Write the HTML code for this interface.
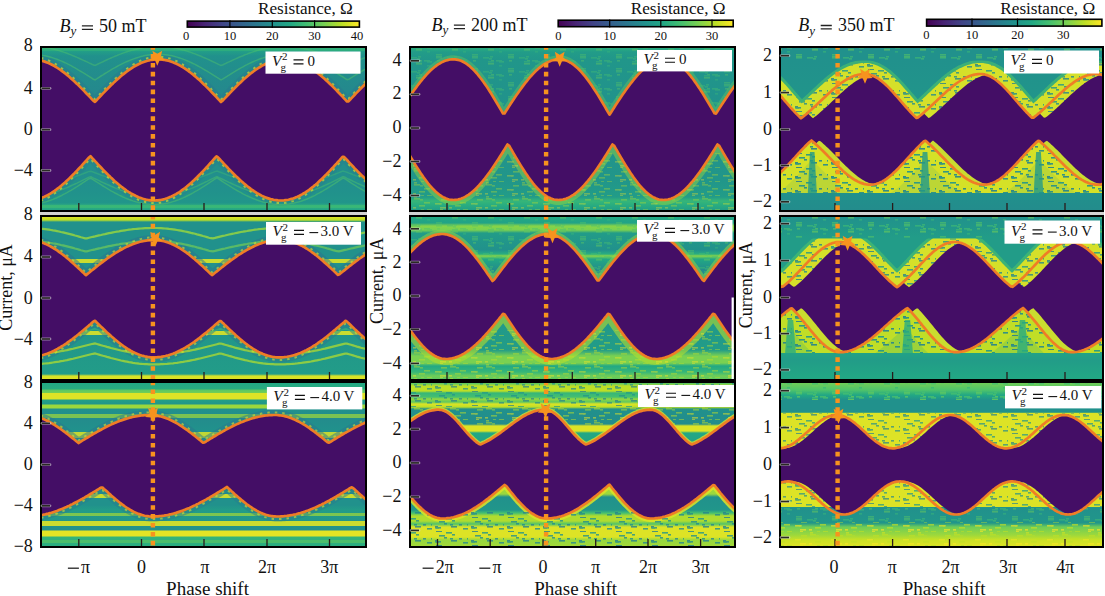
<!DOCTYPE html><html><head><meta charset="utf-8"><style>html,body{margin:0;padding:0;background:#fff;width:1105px;height:596px;overflow:hidden}svg{position:absolute;left:0;top:0}text{font-family:"Liberation Serif",serif;fill:#111}</style></head><body>
<svg width="1105" height="596" viewBox="0 0 1105 596">
<defs>
<linearGradient id="g00" gradientUnits="userSpaceOnUse" x1="0" y1="48" x2="0" y2="210">
<stop offset="0.0000" stop-color="#30b17c"/>
<stop offset="0.0185" stop-color="#229f87"/>
<stop offset="0.0494" stop-color="#21918c"/>
<stop offset="0.2593" stop-color="#24898d"/>
<stop offset="0.3827" stop-color="#25878d"/>
<stop offset="0.6296" stop-color="#238c8c"/>
<stop offset="0.8765" stop-color="#21918c"/>
<stop offset="0.9568" stop-color="#21968a"/>
<stop offset="0.9753" stop-color="#30b17c"/>
<stop offset="1.0000" stop-color="#22a386"/>
</linearGradient>
<clipPath id="c00"><rect x="42" y="48" width="323" height="162"/></clipPath>
<linearGradient id="g01" gradientUnits="userSpaceOnUse" x1="0" y1="217" x2="0" y2="379">
<stop offset="0.0000" stop-color="#dde326"/>
<stop offset="0.0185" stop-color="#bddf26"/>
<stop offset="0.0309" stop-color="#21918c"/>
<stop offset="0.5123" stop-color="#21918c"/>
<stop offset="0.9691" stop-color="#229c88"/>
<stop offset="0.9815" stop-color="#d7e226"/>
<stop offset="1.0000" stop-color="#dde326"/>
</linearGradient>
<clipPath id="c01"><rect x="42" y="217" width="323" height="162"/></clipPath>
<linearGradient id="g02" gradientUnits="userSpaceOnUse" x1="0" y1="383" x2="0" y2="546">
<stop offset="0.0000" stop-color="#22a884"/>
<stop offset="0.0368" stop-color="#29ad80"/>
<stop offset="0.0429" stop-color="#5ac664"/>
<stop offset="0.0583" stop-color="#6fcd57"/>
<stop offset="0.0644" stop-color="#dde326"/>
<stop offset="0.0982" stop-color="#dde326"/>
<stop offset="0.1043" stop-color="#229f87"/>
<stop offset="0.1288" stop-color="#21968a"/>
<stop offset="0.1350" stop-color="#9cd83c"/>
<stop offset="0.1534" stop-color="#9cd83c"/>
<stop offset="0.1595" stop-color="#21918c"/>
<stop offset="0.2270" stop-color="#238c8c"/>
<stop offset="0.2883" stop-color="#21918c"/>
<stop offset="0.5951" stop-color="#21918c"/>
<stop offset="0.7485" stop-color="#21918c"/>
<stop offset="0.7791" stop-color="#229c88"/>
<stop offset="0.9018" stop-color="#21918c"/>
<stop offset="0.9080" stop-color="#e3e425"/>
<stop offset="0.9387" stop-color="#e3e425"/>
<stop offset="0.9448" stop-color="#33b47a"/>
<stop offset="1.0000" stop-color="#29ad80"/>
</linearGradient>
<clipPath id="c02"><rect x="42" y="383" width="323" height="163"/></clipPath>
<linearGradient id="g10" gradientUnits="userSpaceOnUse" x1="0" y1="48" x2="0" y2="210">
<stop offset="0.0000" stop-color="#29ad80"/>
<stop offset="0.0247" stop-color="#229c88"/>
<stop offset="0.0741" stop-color="#21968a"/>
<stop offset="0.4444" stop-color="#21918c"/>
<stop offset="0.8148" stop-color="#21968a"/>
<stop offset="0.9198" stop-color="#229c88"/>
<stop offset="0.9444" stop-color="#36b678"/>
<stop offset="0.9691" stop-color="#29ad80"/>
<stop offset="1.0000" stop-color="#229f87"/>
</linearGradient>
<clipPath id="c10"><rect x="411" y="48" width="323" height="162"/></clipPath>
<linearGradient id="g11" gradientUnits="userSpaceOnUse" x1="0" y1="217" x2="0" y2="379">
<stop offset="0.0000" stop-color="#22a884"/>
<stop offset="0.0370" stop-color="#22a386"/>
<stop offset="0.0556" stop-color="#87d448"/>
<stop offset="0.0802" stop-color="#7ad151"/>
<stop offset="0.0988" stop-color="#229c88"/>
<stop offset="0.2037" stop-color="#21918c"/>
<stop offset="0.2284" stop-color="#29ad80"/>
<stop offset="0.2407" stop-color="#87d448"/>
<stop offset="0.2593" stop-color="#22a884"/>
<stop offset="0.3272" stop-color="#238c8c"/>
<stop offset="0.5123" stop-color="#21968a"/>
<stop offset="0.8210" stop-color="#229c88"/>
<stop offset="0.8580" stop-color="#7ad151"/>
<stop offset="0.9012" stop-color="#7ad151"/>
<stop offset="0.9198" stop-color="#22a884"/>
<stop offset="0.9568" stop-color="#36b678"/>
<stop offset="0.9815" stop-color="#6fcd57"/>
<stop offset="1.0000" stop-color="#5fc860"/>
</linearGradient>
<clipPath id="c11"><rect x="411" y="217" width="323" height="162"/></clipPath>
<linearGradient id="g12" gradientUnits="userSpaceOnUse" x1="0" y1="383" x2="0" y2="546">
<stop offset="0.0000" stop-color="#4fc36a"/>
<stop offset="0.0184" stop-color="#bddf26"/>
<stop offset="0.0491" stop-color="#bddf26"/>
<stop offset="0.0613" stop-color="#36b678"/>
<stop offset="0.0859" stop-color="#44bf70"/>
<stop offset="0.0982" stop-color="#95d740"/>
<stop offset="0.1166" stop-color="#5fc860"/>
<stop offset="0.1288" stop-color="#dde326"/>
<stop offset="0.1472" stop-color="#bddf26"/>
<stop offset="0.1595" stop-color="#21918c"/>
<stop offset="0.2515" stop-color="#238c8c"/>
<stop offset="0.2638" stop-color="#dde326"/>
<stop offset="0.2945" stop-color="#dde326"/>
<stop offset="0.3067" stop-color="#22a884"/>
<stop offset="0.3497" stop-color="#22a386"/>
<stop offset="0.5951" stop-color="#9cd83c"/>
<stop offset="0.6810" stop-color="#9cd83c"/>
<stop offset="0.6994" stop-color="#21918c"/>
<stop offset="0.7791" stop-color="#21968a"/>
<stop offset="0.7975" stop-color="#44bf70"/>
<stop offset="0.8160" stop-color="#b0dc2f"/>
<stop offset="0.8466" stop-color="#b0dc2f"/>
<stop offset="0.8650" stop-color="#4fc36a"/>
<stop offset="0.8834" stop-color="#dde326"/>
<stop offset="0.9448" stop-color="#dde326"/>
<stop offset="0.9632" stop-color="#95d740"/>
<stop offset="1.0000" stop-color="#a2d937"/>
</linearGradient>
<clipPath id="c12"><rect x="411" y="383" width="323" height="163"/></clipPath>
<linearGradient id="g20" gradientUnits="userSpaceOnUse" x1="0" y1="48" x2="0" y2="210">
<stop offset="0.0000" stop-color="#21918c"/>
<stop offset="0.0741" stop-color="#21918c"/>
<stop offset="0.3827" stop-color="#21968a"/>
<stop offset="0.6296" stop-color="#21918c"/>
<stop offset="0.8889" stop-color="#21918c"/>
<stop offset="1.0000" stop-color="#238c8c"/>
</linearGradient>
<clipPath id="c20"><rect x="781" y="48" width="321" height="162"/></clipPath>
<clipPath id="h20up"><rect x="781" y="60.5" width="321" height="149.5"/></clipPath>
<clipPath id="h20lo"><rect x="781" y="48.0" width="321" height="145.0"/></clipPath>
<linearGradient id="g21" gradientUnits="userSpaceOnUse" x1="0" y1="217" x2="0" y2="379">
<stop offset="0.0000" stop-color="#21918c"/>
<stop offset="0.0494" stop-color="#21968a"/>
<stop offset="0.1296" stop-color="#229c88"/>
<stop offset="0.5123" stop-color="#229c88"/>
<stop offset="0.8333" stop-color="#22a386"/>
<stop offset="0.8827" stop-color="#229c88"/>
<stop offset="1.0000" stop-color="#22a884"/>
</linearGradient>
<clipPath id="c21"><rect x="781" y="217" width="321" height="162"/></clipPath>
<clipPath id="h21up"><rect x="781" y="238.5" width="321" height="140.5"/></clipPath>
<clipPath id="h21lo"><rect x="781" y="217.0" width="321" height="136.0"/></clipPath>
<linearGradient id="g22" gradientUnits="userSpaceOnUse" x1="0" y1="383" x2="0" y2="546">
<stop offset="0.0000" stop-color="#6fcd57"/>
<stop offset="0.0429" stop-color="#4fc36a"/>
<stop offset="0.0736" stop-color="#22a884"/>
<stop offset="0.1043" stop-color="#21918c"/>
<stop offset="0.1779" stop-color="#21918c"/>
<stop offset="0.1902" stop-color="#bddf26"/>
<stop offset="0.4110" stop-color="#bddf26"/>
<stop offset="0.7485" stop-color="#22a884"/>
<stop offset="0.7669" stop-color="#21918c"/>
<stop offset="0.8589" stop-color="#21968a"/>
<stop offset="0.8834" stop-color="#6fcd57"/>
<stop offset="0.9325" stop-color="#9cd83c"/>
<stop offset="0.9632" stop-color="#cae126"/>
<stop offset="1.0000" stop-color="#dde326"/>
</linearGradient>
<clipPath id="c22"><rect x="781" y="383" width="321" height="163"/></clipPath>
<clipPath id="h22up"><rect x="781" y="413.0" width="321" height="133.0"/></clipPath>
<clipPath id="h22lo"><rect x="781" y="383.0" width="321" height="124.0"/></clipPath>
<pattern id="spT" patternUnits="userSpaceOnUse" width="36" height="14">
<rect x="20" y="2.0" width="3" height="1.6" fill="#21918c"/>
<rect x="4" y="13.0" width="6" height="1.6" fill="#27808d"/>
<rect x="3" y="8.0" width="3" height="1.6" fill="#287e8e"/>
<rect x="27" y="6.0" width="3" height="1.6" fill="#26848d"/>
<rect x="35" y="6.0" width="3" height="1.6" fill="#21958a"/>
<rect x="7" y="3.0" width="6" height="1.6" fill="#21908c"/>
<rect x="3" y="9.0" width="6" height="1.6" fill="#24898d"/>
<rect x="14" y="0.0" width="6" height="1.6" fill="#21968a"/>
<rect x="18" y="6.0" width="3" height="1.6" fill="#228d8c"/>
<rect x="19" y="8.0" width="6" height="1.6" fill="#26828d"/>
<rect x="12" y="5.0" width="3" height="1.6" fill="#228d8c"/>
<rect x="4" y="9.0" width="3" height="1.6" fill="#22908c"/>
<rect x="31" y="10.0" width="6" height="1.6" fill="#248a8d"/>
</pattern>
<pattern id="spG" patternUnits="userSpaceOnUse" width="36" height="14">
<rect x="20" y="7.0" width="6" height="1.6" fill="#6acc5a"/>
<rect x="23" y="4.0" width="3" height="1.6" fill="#62c95f"/>
<rect x="15" y="1.0" width="6" height="1.6" fill="#43be71"/>
<rect x="31" y="5.0" width="6" height="1.6" fill="#4bc16c"/>
<rect x="4" y="1.0" width="6" height="1.6" fill="#49c16d"/>
<rect x="21" y="2.0" width="3" height="1.6" fill="#4ac16d"/>
<rect x="4" y="12.0" width="6" height="1.6" fill="#54c467"/>
<rect x="20" y="5.0" width="6" height="1.6" fill="#45bf6f"/>
<rect x="31" y="9.0" width="3" height="1.6" fill="#39b876"/>
<rect x="5" y="4.0" width="3" height="1.6" fill="#5cc762"/>
<rect x="4" y="0.0" width="6" height="1.6" fill="#5cc762"/>
<rect x="28" y="4.0" width="6" height="1.6" fill="#47c06e"/>
<rect x="22" y="0.0" width="3" height="1.6" fill="#45bf6f"/>
</pattern>
<pattern id="spY" patternUnits="userSpaceOnUse" width="36" height="14">
<rect x="7" y="7.0" width="3" height="1.6" fill="#bade28"/>
<rect x="18" y="2.0" width="6" height="1.6" fill="#bddf26"/>
<rect x="25" y="13.0" width="3" height="1.6" fill="#afdc2f"/>
<rect x="28" y="6.0" width="6" height="1.6" fill="#bfdf26"/>
<rect x="8" y="13.0" width="3" height="1.6" fill="#ece525"/>
<rect x="17" y="11.0" width="3" height="1.6" fill="#f6e625"/>
<rect x="24" y="3.0" width="3" height="1.6" fill="#b0dc2f"/>
<rect x="9" y="3.0" width="6" height="1.6" fill="#bcdf27"/>
<rect x="31" y="13.0" width="6" height="1.6" fill="#b8de29"/>
<rect x="18" y="0.0" width="3" height="1.6" fill="#cae126"/>
<rect x="23" y="9.0" width="6" height="1.6" fill="#c2e026"/>
<rect x="8" y="11.0" width="6" height="1.6" fill="#f3e625"/>
<rect x="3" y="7.0" width="6" height="1.6" fill="#e7e425"/>
</pattern>
<linearGradient id="cb" x1="0" x2="1" y1="0" y2="0"><stop offset="0.00" stop-color="#440154"/><stop offset="0.10" stop-color="#482475"/><stop offset="0.20" stop-color="#414487"/><stop offset="0.30" stop-color="#355f8d"/><stop offset="0.40" stop-color="#2a788e"/><stop offset="0.50" stop-color="#21918c"/><stop offset="0.60" stop-color="#22a884"/><stop offset="0.70" stop-color="#44bf70"/><stop offset="0.80" stop-color="#7ad151"/><stop offset="0.90" stop-color="#bddf26"/><stop offset="1.00" stop-color="#fde725"/></linearGradient>
</defs>
<g clip-path="url(#c00)">
<rect x="42" y="48" width="323" height="162" fill="url(#g00)"/>
<rect x="42" y="48.0" width="323" height="3.0" fill="#36b678" opacity="0.50"/>
<rect x="42" y="205.0" width="323" height="3.0" fill="#44bf70" opacity="0.50"/>
<defs><polyline id="u00" fill="none" points="26,59.7 27.5,59.5 29,59.4 30.5,59.3 32,59.3 33.5,59.4 35,59.5 36.5,59.6 38,59.9 39.5,60.2 41,60.5 42.5,60.9 44,61.4 45.5,61.9 47,62.5 48.5,63.1 50,63.8 51.5,64.5 53,65.3 54.5,66.1 56,67 57.5,68 59,69 60.5,70 62,71.1 63.5,72.2 65,73.3 66.5,74.6 68,75.8 69.5,77.1 71,78.4 72.5,79.7 74,81.1 75.5,82.5 77,83.9 78.5,85.4 80,86.9 81.5,88.4 83,89.9 84.5,91.4 86,93 87.5,94.6 89,96.1 90.5,97.7 92,99.3 93.5,100.9 95,101.9 96.5,100.3 98,98.7 99.5,97.1 101,95.5 102.5,93.9 104,92.4 105.5,90.8 107,89.3 108.5,87.8 110,86.3 111.5,84.8 113,83.4 114.5,81.9 116,80.6 117.5,79.2 119,77.9 120.5,76.6 122,75.3 123.5,74.1 125,72.9 126.5,71.7 128,70.6 129.5,69.6 131,68.6 132.5,67.6 134,66.7 135.5,65.8 137,65 138.5,64.2 140,63.5 141.5,62.8 143,62.2 144.5,61.7 146,61.2 147.5,60.7 149,60.4 150.5,60 152,59.8 153.5,59.6 155,59.4 156.5,59.3 158,59.3 159.5,59.3 161,59.4 162.5,59.6 164,59.8 165.5,60.1 167,60.4 168.5,60.8 170,61.2 171.5,61.7 173,62.3 174.5,62.9 176,63.5 177.5,64.3 179,65 180.5,65.9 182,66.7 183.5,67.7 185,68.6 186.5,69.6 188,70.7 189.5,71.8 191,73 192.5,74.1 194,75.4 195.5,76.6 197,77.9 198.5,79.3 200,80.6 201.5,82 203,83.5 204.5,84.9 206,86.4 207.5,87.9 209,89.4 210.5,90.9 212,92.5 213.5,94 215,95.6 216.5,97.2 218,98.8 219.5,100.4 221,102 222.5,100.8 224,99.2 225.5,97.6 227,96 228.5,94.5 230,92.9 231.5,91.3 233,89.8 234.5,88.3 236,86.8 237.5,85.3 239,83.8 240.5,82.4 242,81 243.5,79.6 245,78.3 246.5,77 248,75.7 249.5,74.5 251,73.3 252.5,72.1 254,71 255.5,69.9 257,68.9 258.5,67.9 260,67 261.5,66.1 263,65.2 264.5,64.5 266,63.7 267.5,63 269,62.4 270.5,61.8 272,61.3 273.5,60.9 275,60.5 276.5,60.1 278,59.8 279.5,59.6 281,59.5 282.5,59.4 284,59.3 285.5,59.3 287,59.4 288.5,59.5 290,59.7 291.5,60 293,60.3 294.5,60.6 296,61.1 297.5,61.5 299,62.1 300.5,62.7 302,63.3 303.5,64 305,64.8 306.5,65.6 308,66.4 309.5,67.3 311,68.3 312.5,69.3 314,70.3 315.5,71.4 317,72.6 318.5,73.7 320,75 321.5,76.2 323,77.5 324.5,78.8 326,80.2 327.5,81.6 329,83 330.5,84.4 332,85.9 333.5,87.4 335,88.9 336.5,90.4 338,92 339.5,93.5 341,95.1 342.5,96.7 344,98.3 345.5,99.9 347,101.5 348.5,101.3 350,99.8 351.5,98.2 353,96.6 354.5,95 356,93.4 357.5,91.9 359,90.3 360.5,88.8 362,87.3 363.5,85.8 365,84.3 366.5,82.9 368,81.5 369.5,80.1 371,78.7 372.5,77.4 374,76.1 375.5,74.9 377,73.7 378.5,72.5 380,71.4 381,70.6"/><polyline id="l00" fill="none" points="26,200.5 27.5,200.5 29,200.5 30.5,200.4 32,200.3 33.5,200.1 35,199.8 36.5,199.5 38,199.1 39.5,198.6 41,198.1 42.5,197.5 44,196.9 45.5,196.2 47,195.5 48.5,194.7 50,193.8 51.5,192.9 53,191.9 54.5,190.9 56,189.8 57.5,188.7 59,187.6 60.5,186.4 62,185.1 63.5,183.8 65,182.5 66.5,181.1 68,179.7 69.5,178.3 71,176.8 72.5,175.3 74,173.8 75.5,172.2 77,170.6 78.5,169 80,167.4 81.5,165.8 83,164.1 84.5,162.5 86,160.8 87.5,159.1 89,157.5 90.5,156.2 92,157.9 93.5,159.5 95,161.1 96.5,162.7 98,164.3 99.5,165.9 101,167.5 102.5,169.1 104,170.7 105.5,172.2 107,173.7 108.5,175.2 110,176.6 111.5,178.1 113,179.5 114.5,180.9 116,182.2 117.5,183.5 119,184.8 120.5,186 122,187.2 123.5,188.3 125,189.4 126.5,190.5 128,191.5 129.5,192.5 131,193.4 132.5,194.2 134,195 135.5,195.8 137,196.5 138.5,197.2 140,197.7 141.5,198.3 143,198.8 144.5,199.2 146,199.6 147.5,199.9 149,200.1 150.5,200.3 152,200.4 153.5,200.5 155,200.5 156.5,200.4 158,200.3 159.5,200.1 161,199.9 162.5,199.6 164,199.2 165.5,198.8 167,198.3 168.5,197.7 170,197.1 171.5,196.5 173,195.7 174.5,194.9 176,194.1 177.5,193.2 179,192.3 180.5,191.3 182,190.2 183.5,189.1 185,188 186.5,186.8 188,185.5 189.5,184.2 191,182.9 192.5,181.6 194,180.2 195.5,178.7 197,177.3 198.5,175.8 200,174.3 201.5,172.7 203,171.2 204.5,169.6 206,168 207.5,166.3 209,164.7 210.5,163 212,161.4 213.5,159.7 215,158 216.5,156.3 218,157.3 219.5,158.9 221,160.6 222.5,162.2 224,163.8 225.5,165.4 227,167 228.5,168.6 230,170.1 231.5,171.7 233,173.2 234.5,174.7 236,176.2 237.5,177.6 239,179 240.5,180.4 242,181.8 243.5,183.1 245,184.3 246.5,185.6 248,186.8 249.5,187.9 251,189.1 252.5,190.1 254,191.2 255.5,192.1 257,193.1 258.5,193.9 260,194.8 261.5,195.6 263,196.3 264.5,196.9 266,197.6 267.5,198.1 269,198.6 270.5,199.1 272,199.4 273.5,199.8 275,200 276.5,200.2 278,200.4 279.5,200.5 281,200.5 282.5,200.5 284,200.4 285.5,200.2 287,200 288.5,199.7 290,199.3 291.5,198.9 293,198.5 294.5,197.9 296,197.3 297.5,196.7 299,196 300.5,195.2 302,194.4 303.5,193.5 305,192.6 306.5,191.6 308,190.6 309.5,189.5 311,188.3 312.5,187.2 314,185.9 315.5,184.7 317,183.4 318.5,182 320,180.6 321.5,179.2 323,177.8 324.5,176.3 326,174.8 327.5,173.2 329,171.7 330.5,170.1 332,168.5 333.5,166.9 335,165.2 336.5,163.6 338,161.9 339.5,160.3 341,158.6 342.5,156.9 344,156.8 345.5,158.4 347,160 348.5,161.7 350,163.3 351.5,164.9 353,166.5 354.5,168.1 356,169.6 357.5,171.2 359,172.7 360.5,174.2 362,175.7 363.5,177.1 365,178.6 366.5,179.9 368,181.3 369.5,182.6 371,183.9 372.5,185.2 374,186.4 375.5,187.6 377,188.7 378.5,189.8 380,190.8 381,191.5"/></defs>
<use href="#u00" stroke="#2c738e" stroke-width="10.0" stroke-linejoin="round" opacity="0.35"/>
<use href="#l00" stroke="#2a788e" stroke-width="10.0" stroke-linejoin="round" opacity="0.30"/>
<polyline points="37,54.5 39,54.8 41,55 43,55.4 45,55.7 47,56.2 49,56.7 51,57.3 53,57.9 55,58.6 57,59.3 59,60.1 61,60.9 63,61.8 65,62.7 67,63.7 69,64.7 71,65.7 73,66.8 75,67.9 77,69.1 79,70.3 81,71.5 83,72.7 85,73.9 87,75.1 89,76.4 91,77.7 93,79 95,79.8 97,78.6 99,77.3 101,76 103,74.8 105,73.5 107,72.3 109,71.1 111,69.9 113,68.7 115,67.6 117,66.5 119,65.4 121,64.4 123,63.4 125,62.4 127,61.5 129,60.7 131,59.9 133,59.1 135,58.4 137,57.7 139,57.1 141,56.5 143,56.1 145,55.6 147,55.2 149,54.9 151,54.7 153,54.5 155,54.4 157,54.3 159,54.3 161,54.4 163,54.5 165,54.7 167,54.9 169,55.3 171,55.6 173,56.1 175,56.6 177,57.1 179,57.7 181,58.4 183,59.1 185,59.9 187,60.7 189,61.6 191,62.5 193,63.5 195,64.4 197,65.5 199,66.6 201,67.7 203,68.8 205,70 207,71.1 209,72.4 211,73.6 213,74.8 215,76.1 217,77.4 219,78.6 221,79.9 223,78.9 225,77.6 227,76.3 229,75.1 231,73.8 233,72.6 235,71.4 237,70.2 239,69 241,67.9 243,66.8 245,65.7 247,64.7 249,63.6 251,62.7 253,61.8 255,60.9 257,60.1 259,59.3 261,58.5 263,57.9 265,57.2 267,56.7 269,56.2 271,55.7 273,55.3 275,55 277,54.7 279,54.5 281,54.4 283,54.3 285,54.3 287,54.4 289,54.5 291,54.6 293,54.9 295,55.2 297,55.5 299,56 301,56.4 303,57 305,57.6 307,58.2 309,58.9 311,59.7 313,60.5 315,61.4 317,62.3 319,63.2 321,64.2 323,65.2 325,66.3 327,67.4 329,68.5 331,69.7 333,70.9 335,72.1 337,73.3 339,74.5 341,75.8 343,77 345,78.3 347,79.6 349,79.2 351,77.9 353,76.7 355,75.4 357,74.1 359,72.9 361,71.7 363,70.5 365,69.3 367,68.2 369,67.1" fill="none" stroke="#4fc36a" stroke-width="1.5" opacity="0.50"/>
<polyline points="37,46.5 39,46.6 41,46.8 43,47.1 45,47.4 47,47.7 49,48.1 51,48.5 53,49 55,49.5 57,50.1 59,50.6 61,51.3 63,51.9 65,52.6 67,53.3 69,54.1 71,54.9 73,55.7 75,56.5 77,57.4 79,58.3 81,59.2 83,60.1 85,61 87,61.9 89,62.9 91,63.8 93,64.8 95,65.5 97,64.5 99,63.5 101,62.6 103,61.7 105,60.7 107,59.8 109,58.9 111,58 113,57.1 115,56.3 117,55.5 119,54.6 121,53.9 123,53.1 125,52.4 127,51.7 129,51.1 131,50.5 133,49.9 135,49.4 137,48.9 139,48.4 141,48 143,47.6 145,47.3 147,47 149,46.8 151,46.6 153,46.4 155,46.4 157,46.3 159,46.3 161,46.4 163,46.5 165,46.6 167,46.8 169,47 171,47.3 173,47.6 175,48 177,48.4 179,48.9 181,49.4 183,49.9 185,50.5 187,51.1 189,51.8 191,52.4 193,53.2 195,53.9 197,54.7 199,55.5 201,56.3 203,57.2 205,58 207,58.9 209,59.8 211,60.8 213,61.7 215,62.6 217,63.6 219,64.6 221,65.5 223,64.7 225,63.8 227,62.8 229,61.9 231,61 233,60 235,59.1 237,58.2 239,57.3 241,56.5 243,55.7 245,54.8 247,54.1 249,53.3 251,52.6 253,51.9 255,51.2 257,50.6 259,50 261,49.5 263,49 265,48.5 267,48.1 269,47.7 271,47.4 273,47.1 275,46.8 277,46.6 279,46.5 281,46.4 283,46.3 285,46.3 287,46.3 289,46.4 291,46.6 293,46.7 295,47 297,47.2 299,47.5 301,47.9 303,48.3 305,48.8 307,49.2 309,49.8 311,50.3 313,51 315,51.6 317,52.3 319,53 321,53.7 323,54.5 325,55.3 327,56.1 329,57 331,57.8 333,58.7 335,59.6 337,60.5 339,61.5 341,62.4 343,63.4 345,64.3 347,65.3 349,65 351,64 353,63.1 355,62.1 357,61.2 359,60.3 361,59.3 363,58.4 365,57.6 367,56.7 369,55.9" fill="none" stroke="#4fc36a" stroke-width="1.5" opacity="0.45"/>
<polyline points="37,35.4 39,35.5 41,35.7 43,35.8 45,36 47,36.2 49,36.5 51,36.8 53,37.1 55,37.4 57,37.8 59,38.2 61,38.6 63,39.1 65,39.5 67,40 69,40.5 71,41 73,41.6 75,42.1 77,42.7 79,43.3 81,43.9 83,44.5 85,45.1 87,45.7 89,46.4 91,47 93,47.6 95,48.1 97,47.4 99,46.8 101,46.2 103,45.5 105,44.9 107,44.3 109,43.7 111,43.1 113,42.5 115,42 117,41.4 119,40.9 121,40.3 123,39.9 125,39.4 127,38.9 129,38.5 131,38.1 133,37.7 135,37.3 137,37 139,36.7 141,36.4 143,36.2 145,36 147,35.8 149,35.6 151,35.5 153,35.4 155,35.3 157,35.3 159,35.3 161,35.3 163,35.4 165,35.5 167,35.6 169,35.8 171,36 173,36.2 175,36.4 177,36.7 179,37 181,37.4 183,37.7 185,38.1 187,38.5 189,38.9 191,39.4 193,39.9 195,40.4 197,40.9 199,41.4 201,42 203,42.5 205,43.1 207,43.7 209,44.3 211,44.9 213,45.6 215,46.2 217,46.8 219,47.5 221,48.1 223,47.6 225,47 227,46.3 229,45.7 231,45.1 233,44.5 235,43.8 237,43.2 239,42.7 241,42.1 243,41.5 245,41 247,40.5 249,40 251,39.5 253,39 255,38.6 257,38.2 259,37.8 261,37.4 263,37.1 265,36.8 267,36.5 269,36.2 271,36 273,35.8 275,35.7 277,35.5 279,35.4 281,35.3 283,35.3 285,35.3 287,35.3 289,35.4 291,35.5 293,35.6 295,35.7 297,35.9 299,36.1 301,36.4 303,36.6 305,36.9 307,37.3 309,37.6 311,38 313,38.4 315,38.8 317,39.3 319,39.8 321,40.2 323,40.8 325,41.3 327,41.8 329,42.4 331,43 333,43.6 335,44.2 337,44.8 339,45.4 341,46 343,46.7 345,47.3 347,47.9 349,47.8 351,47.1 353,46.5 355,45.8 357,45.2 359,44.6 361,44 363,43.4 365,42.8 367,42.2 369,41.7" fill="none" stroke="#44bf70" stroke-width="1.5" opacity="0.40"/>
<polyline points="37,203.8 39,203.5 41,203.1 43,202.6 45,202.1 47,201.5 49,200.8 51,200.1 53,199.4 55,198.5 57,197.7 59,196.7 61,195.8 63,194.7 65,193.7 67,192.6 69,191.4 71,190.3 73,189.1 75,187.8 77,186.6 79,185.3 81,184 83,182.7 85,181.4 87,180 89,178.7 91,178.3 93,179.6 95,180.9 97,182.2 99,183.4 101,184.7 103,186 105,187.2 107,188.4 109,189.6 111,190.8 113,191.9 115,193 117,194 119,195.1 121,196 123,197 125,197.9 127,198.7 129,199.5 131,200.2 133,200.9 135,201.5 137,202.1 139,202.6 141,203.1 143,203.5 145,203.8 147,204.1 149,204.3 151,204.4 153,204.5 155,204.5 157,204.4 159,204.3 161,204.1 163,203.9 165,203.6 167,203.2 169,202.7 171,202.2 173,201.6 175,201 177,200.3 179,199.6 181,198.7 183,197.9 185,197 187,196 189,195 191,194 193,192.9 195,191.7 197,190.6 199,189.4 201,188.1 203,186.9 205,185.6 207,184.3 209,183 211,181.7 213,180.4 215,179 217,177.9 219,179.2 221,180.5 223,181.8 225,183.1 227,184.4 229,185.7 231,186.9 233,188.1 235,189.3 237,190.5 239,191.6 241,192.7 243,193.8 245,194.8 247,195.8 249,196.7 251,197.6 253,198.5 255,199.3 257,200 259,200.7 261,201.4 263,202 265,202.5 267,203 269,203.4 271,203.7 273,204 275,204.2 277,204.4 279,204.5 281,204.5 283,204.5 285,204.4 287,204.2 289,204 291,203.6 293,203.3 295,202.8 297,202.3 299,201.8 301,201.2 303,200.5 305,199.7 307,199 309,198.1 311,197.2 313,196.3 315,195.3 317,194.2 319,193.1 321,192 323,190.9 325,189.7 327,188.5 329,187.2 331,185.9 333,184.6 335,183.3 337,182 339,180.7 341,179.3 343,178 345,178.9 347,180.2 349,181.5 351,182.8 353,184.1 355,185.3 357,186.6 359,187.8 361,189 363,190.2 365,191.3 367,192.4 369,193.5" fill="none" stroke="#4fc36a" stroke-width="1.5" opacity="0.50"/>
<polyline points="37,196 39,195.7 41,195.4 43,195.1 45,194.7 47,194.2 49,193.7 51,193.2 53,192.6 55,192 57,191.4 59,190.7 61,189.9 63,189.2 65,188.4 67,187.6 69,186.7 71,185.8 73,184.9 75,184 77,183.1 79,182.1 81,181.1 83,180.1 85,179.1 87,178.1 89,177.1 91,176.8 93,177.8 95,178.8 97,179.7 99,180.7 101,181.7 103,182.6 105,183.5 107,184.4 109,185.3 111,186.2 113,187 115,187.9 117,188.7 119,189.4 121,190.2 123,190.9 125,191.5 127,192.1 129,192.7 131,193.3 133,193.8 135,194.3 137,194.7 139,195.1 141,195.4 143,195.7 145,196 147,196.2 149,196.3 151,196.4 153,196.5 155,196.5 157,196.5 159,196.4 161,196.2 163,196 165,195.8 167,195.5 169,195.2 171,194.8 173,194.4 175,193.9 177,193.4 179,192.8 181,192.2 183,191.5 185,190.9 187,190.1 189,189.4 191,188.6 193,187.8 195,186.9 197,186.1 199,185.2 201,184.2 203,183.3 205,182.3 207,181.4 209,180.4 211,179.4 213,178.4 215,177.4 217,176.6 219,177.6 221,178.5 223,179.5 225,180.5 227,181.4 229,182.4 231,183.3 233,184.2 235,185.1 237,186 239,186.8 241,187.7 243,188.5 245,189.2 247,190 249,190.7 251,191.4 253,192 255,192.6 257,193.2 259,193.7 261,194.2 263,194.6 265,195 267,195.3 269,195.7 271,195.9 273,196.1 275,196.3 277,196.4 279,196.5 281,196.5 283,196.5 285,196.4 287,196.3 289,196.1 291,195.9 293,195.6 295,195.3 297,194.9 299,194.5 301,194 303,193.5 305,192.9 307,192.3 309,191.7 311,191 313,190.3 315,189.6 317,188.8 319,188 321,187.1 323,186.3 325,185.4 327,184.5 329,183.5 331,182.6 333,181.6 335,180.6 337,179.6 339,178.6 341,177.6 343,176.6 345,177.3 347,178.3 349,179.3 351,180.2 353,181.2 355,182.1 357,183.1 359,184 361,184.9 363,185.8 365,186.6 367,187.5 369,188.3" fill="none" stroke="#4fc36a" stroke-width="1.5" opacity="0.45"/>
<polyline points="37,186.1 39,185.9 41,185.7 43,185.4 45,185.1 47,184.7 49,184.4 51,183.9 53,183.5 55,183 57,182.5 59,182 61,181.4 63,180.8 65,180.2 67,179.5 69,178.9 71,178.2 73,177.5 75,176.8 77,176 79,175.3 81,174.5 83,173.8 85,173 87,172.2 89,171.4 91,171.2 93,172 95,172.7 97,173.5 99,174.2 101,175 103,175.7 105,176.4 107,177.1 109,177.8 111,178.5 113,179.1 115,179.8 117,180.4 119,181 121,181.6 123,182.1 125,182.6 127,183.1 129,183.6 131,184 133,184.4 135,184.8 137,185.1 139,185.4 141,185.7 143,185.9 145,186.1 147,186.2 149,186.4 151,186.4 153,186.5 155,186.5 157,186.5 159,186.4 161,186.3 163,186.1 165,186 167,185.7 169,185.5 171,185.2 173,184.8 175,184.5 177,184.1 179,183.6 181,183.1 183,182.6 185,182.1 187,181.5 189,181 191,180.3 193,179.7 195,179.1 197,178.4 199,177.7 201,177 203,176.2 205,175.5 207,174.7 209,174 211,173.2 213,172.4 215,171.6 217,171 219,171.8 221,172.5 223,173.3 225,174 227,174.8 229,175.5 231,176.2 233,176.9 235,177.6 237,178.3 239,179 241,179.6 243,180.2 245,180.8 247,181.4 249,182 251,182.5 253,183 255,183.5 257,183.9 259,184.3 261,184.7 263,185 265,185.3 267,185.6 269,185.8 271,186 273,186.2 275,186.3 277,186.4 279,186.5 281,186.5 283,186.5 285,186.4 287,186.3 289,186.2 291,186 293,185.8 295,185.5 297,185.2 299,184.9 301,184.6 303,184.2 305,183.7 307,183.3 309,182.8 311,182.2 313,181.7 315,181.1 317,180.5 319,179.9 321,179.2 323,178.5 325,177.9 327,177.1 329,176.4 331,175.7 333,174.9 335,174.2 337,173.4 339,172.6 341,171.8 343,171 345,171.6 347,172.3 349,173.1 351,173.8 353,174.6 355,175.3 357,176.1 359,176.8 361,177.5 363,178.2 365,178.8 367,179.5 369,180.1" fill="none" stroke="#44bf70" stroke-width="1.5" opacity="0.40"/>
<polygon points="26,59.7 27.5,59.5 29,59.4 30.5,59.3 32,59.3 33.5,59.4 35,59.5 36.5,59.6 38,59.9 39.5,60.2 41,60.5 42.5,60.9 44,61.4 45.5,61.9 47,62.5 48.5,63.1 50,63.8 51.5,64.5 53,65.3 54.5,66.1 56,67 57.5,68 59,69 60.5,70 62,71.1 63.5,72.2 65,73.3 66.5,74.6 68,75.8 69.5,77.1 71,78.4 72.5,79.7 74,81.1 75.5,82.5 77,83.9 78.5,85.4 80,86.9 81.5,88.4 83,89.9 84.5,91.4 86,93 87.5,94.6 89,96.1 90.5,97.7 92,99.3 93.5,100.9 95,101.9 96.5,100.3 98,98.7 99.5,97.1 101,95.5 102.5,93.9 104,92.4 105.5,90.8 107,89.3 108.5,87.8 110,86.3 111.5,84.8 113,83.4 114.5,81.9 116,80.6 117.5,79.2 119,77.9 120.5,76.6 122,75.3 123.5,74.1 125,72.9 126.5,71.7 128,70.6 129.5,69.6 131,68.6 132.5,67.6 134,66.7 135.5,65.8 137,65 138.5,64.2 140,63.5 141.5,62.8 143,62.2 144.5,61.7 146,61.2 147.5,60.7 149,60.4 150.5,60 152,59.8 153.5,59.6 155,59.4 156.5,59.3 158,59.3 159.5,59.3 161,59.4 162.5,59.6 164,59.8 165.5,60.1 167,60.4 168.5,60.8 170,61.2 171.5,61.7 173,62.3 174.5,62.9 176,63.5 177.5,64.3 179,65 180.5,65.9 182,66.7 183.5,67.7 185,68.6 186.5,69.6 188,70.7 189.5,71.8 191,73 192.5,74.1 194,75.4 195.5,76.6 197,77.9 198.5,79.3 200,80.6 201.5,82 203,83.5 204.5,84.9 206,86.4 207.5,87.9 209,89.4 210.5,90.9 212,92.5 213.5,94 215,95.6 216.5,97.2 218,98.8 219.5,100.4 221,102 222.5,100.8 224,99.2 225.5,97.6 227,96 228.5,94.5 230,92.9 231.5,91.3 233,89.8 234.5,88.3 236,86.8 237.5,85.3 239,83.8 240.5,82.4 242,81 243.5,79.6 245,78.3 246.5,77 248,75.7 249.5,74.5 251,73.3 252.5,72.1 254,71 255.5,69.9 257,68.9 258.5,67.9 260,67 261.5,66.1 263,65.2 264.5,64.5 266,63.7 267.5,63 269,62.4 270.5,61.8 272,61.3 273.5,60.9 275,60.5 276.5,60.1 278,59.8 279.5,59.6 281,59.5 282.5,59.4 284,59.3 285.5,59.3 287,59.4 288.5,59.5 290,59.7 291.5,60 293,60.3 294.5,60.6 296,61.1 297.5,61.5 299,62.1 300.5,62.7 302,63.3 303.5,64 305,64.8 306.5,65.6 308,66.4 309.5,67.3 311,68.3 312.5,69.3 314,70.3 315.5,71.4 317,72.6 318.5,73.7 320,75 321.5,76.2 323,77.5 324.5,78.8 326,80.2 327.5,81.6 329,83 330.5,84.4 332,85.9 333.5,87.4 335,88.9 336.5,90.4 338,92 339.5,93.5 341,95.1 342.5,96.7 344,98.3 345.5,99.9 347,101.5 348.5,101.3 350,99.8 351.5,98.2 353,96.6 354.5,95 356,93.4 357.5,91.9 359,90.3 360.5,88.8 362,87.3 363.5,85.8 365,84.3 366.5,82.9 368,81.5 369.5,80.1 371,78.7 372.5,77.4 374,76.1 375.5,74.9 377,73.7 378.5,72.5 380,71.4 381,70.6 381,191.5 380,190.8 378.5,189.8 377,188.7 375.5,187.6 374,186.4 372.5,185.2 371,183.9 369.5,182.6 368,181.3 366.5,179.9 365,178.6 363.5,177.1 362,175.7 360.5,174.2 359,172.7 357.5,171.2 356,169.6 354.5,168.1 353,166.5 351.5,164.9 350,163.3 348.5,161.7 347,160 345.5,158.4 344,156.8 342.5,156.9 341,158.6 339.5,160.3 338,161.9 336.5,163.6 335,165.2 333.5,166.9 332,168.5 330.5,170.1 329,171.7 327.5,173.2 326,174.8 324.5,176.3 323,177.8 321.5,179.2 320,180.6 318.5,182 317,183.4 315.5,184.7 314,185.9 312.5,187.2 311,188.3 309.5,189.5 308,190.6 306.5,191.6 305,192.6 303.5,193.5 302,194.4 300.5,195.2 299,196 297.5,196.7 296,197.3 294.5,197.9 293,198.5 291.5,198.9 290,199.3 288.5,199.7 287,200 285.5,200.2 284,200.4 282.5,200.5 281,200.5 279.5,200.5 278,200.4 276.5,200.2 275,200 273.5,199.8 272,199.4 270.5,199.1 269,198.6 267.5,198.1 266,197.6 264.5,196.9 263,196.3 261.5,195.6 260,194.8 258.5,193.9 257,193.1 255.5,192.1 254,191.2 252.5,190.1 251,189.1 249.5,187.9 248,186.8 246.5,185.6 245,184.3 243.5,183.1 242,181.8 240.5,180.4 239,179 237.5,177.6 236,176.2 234.5,174.7 233,173.2 231.5,171.7 230,170.1 228.5,168.6 227,167 225.5,165.4 224,163.8 222.5,162.2 221,160.6 219.5,158.9 218,157.3 216.5,156.3 215,158 213.5,159.7 212,161.4 210.5,163 209,164.7 207.5,166.3 206,168 204.5,169.6 203,171.2 201.5,172.7 200,174.3 198.5,175.8 197,177.3 195.5,178.7 194,180.2 192.5,181.6 191,182.9 189.5,184.2 188,185.5 186.5,186.8 185,188 183.5,189.1 182,190.2 180.5,191.3 179,192.3 177.5,193.2 176,194.1 174.5,194.9 173,195.7 171.5,196.5 170,197.1 168.5,197.7 167,198.3 165.5,198.8 164,199.2 162.5,199.6 161,199.9 159.5,200.1 158,200.3 156.5,200.4 155,200.5 153.5,200.5 152,200.4 150.5,200.3 149,200.1 147.5,199.9 146,199.6 144.5,199.2 143,198.8 141.5,198.3 140,197.7 138.5,197.2 137,196.5 135.5,195.8 134,195 132.5,194.2 131,193.4 129.5,192.5 128,191.5 126.5,190.5 125,189.4 123.5,188.3 122,187.2 120.5,186 119,184.8 117.5,183.5 116,182.2 114.5,180.9 113,179.5 111.5,178.1 110,176.6 108.5,175.2 107,173.7 105.5,172.2 104,170.7 102.5,169.1 101,167.5 99.5,165.9 98,164.3 96.5,162.7 95,161.1 93.5,159.5 92,157.9 90.5,156.2 89,157.5 87.5,159.1 86,160.8 84.5,162.5 83,164.1 81.5,165.8 80,167.4 78.5,169 77,170.6 75.5,172.2 74,173.8 72.5,175.3 71,176.8 69.5,178.3 68,179.7 66.5,181.1 65,182.5 63.5,183.8 62,185.1 60.5,186.4 59,187.6 57.5,188.7 56,189.8 54.5,190.9 53,191.9 51.5,192.9 50,193.8 48.5,194.7 47,195.5 45.5,196.2 44,196.9 42.5,197.5 41,198.1 39.5,198.6 38,199.1 36.5,199.5 35,199.8 33.5,200.1 32,200.3 30.5,200.4 29,200.5 27.5,200.5 26,200.5" fill="#440e66"/>
<use href="#u00" stroke="#dde326" stroke-width="2" stroke-dasharray="2.5 5" transform="translate(0,-2.6)" opacity="0.65"/>
<use href="#l00" stroke="#dde326" stroke-width="2" stroke-dasharray="2.5 5" transform="translate(0,2.6)" opacity="0.65"/>
<use href="#u00" stroke="#ef7d26" stroke-width="2.7" stroke-linejoin="round"/>
<use href="#l00" stroke="#ef7d26" stroke-width="2.7" stroke-linejoin="round"/>
</g>
<rect x="41.0" y="47.0" width="325.0" height="164.0" fill="none" stroke="#000" stroke-width="2"/>
<g clip-path="url(#c01)">
<rect x="42" y="217" width="323" height="162" fill="url(#g01)"/>
<rect x="42" y="259.0" width="323" height="4.0" fill="#dde326" opacity="0.90"/>
<rect x="42" y="331.0" width="323" height="4.0" fill="#dde326" opacity="0.90"/>
<defs><polyline id="u01" fill="none" points="26,240 27.5,240 29,240 30.5,240.1 32,240.2 33.5,240.4 35,240.7 36.5,241 38,241.3 39.5,241.7 41,242.2 42.5,242.7 44,243.3 45.5,243.9 47,244.6 48.5,245.4 50,246.1 51.5,247 53,247.8 54.5,248.8 56,249.7 57.5,250.7 59,251.8 60.5,252.9 62,254 63.5,255.1 65,256.3 66.5,257.6 68,258.8 69.5,260.1 71,261.4 72.5,262.7 74,264.1 75.5,265.4 77,266.8 78.5,268.2 80,269.6 81.5,271 83,272.4 84.5,273.9 86,275.1 87.5,273.9 89,272.7 90.5,271.5 92,270.3 93.5,269.1 95,267.9 96.5,266.7 98,265.5 99.5,264.3 101,263.2 102.5,262.1 104,260.9 105.5,259.8 107,258.7 108.5,257.7 110,256.6 111.5,255.6 113,254.6 114.5,253.6 116,252.7 117.5,251.8 119,250.9 120.5,250 122,249.2 123.5,248.4 125,247.6 126.5,246.9 128,246.2 129.5,245.5 131,244.9 132.5,244.3 134,243.7 135.5,243.2 137,242.7 138.5,242.2 140,241.8 141.5,241.5 143,241.1 144.5,240.8 146,240.6 147.5,240.4 149,240.2 150.5,240.1 152,240 153.5,240 155,240 156.5,240.1 158,240.2 159.5,240.4 161,240.6 162.5,240.9 164,241.3 165.5,241.7 167,242.1 168.5,242.7 170,243.2 171.5,243.9 173,244.5 174.5,245.3 176,246 177.5,246.9 179,247.7 180.5,248.6 182,249.6 183.5,250.6 185,251.6 186.5,252.7 188,253.8 189.5,255 191,256.2 192.5,257.4 194,258.6 195.5,259.9 197,261.2 198.5,262.5 200,263.9 201.5,265.2 203,266.6 204.5,268 206,269.4 207.5,270.8 209,272.3 210.5,273.7 212,275.1 213.5,274.1 215,272.8 216.5,271.6 218,270.4 219.5,269.2 221,268 222.5,266.8 224,265.7 225.5,264.5 227,263.3 228.5,262.2 230,261.1 231.5,260 233,258.9 234.5,257.8 236,256.8 237.5,255.7 239,254.7 240.5,253.8 242,252.8 243.5,251.9 245,251 246.5,250.1 248,249.3 249.5,248.5 251,247.7 252.5,247 254,246.2 255.5,245.6 257,244.9 258.5,244.3 260,243.8 261.5,243.2 263,242.7 264.5,242.3 266,241.9 267.5,241.5 269,241.2 270.5,240.9 272,240.6 273.5,240.4 275,240.3 276.5,240.1 278,240 279.5,240 281,240 282.5,240.1 284,240.2 285.5,240.4 287,240.6 288.5,240.9 290,241.2 291.5,241.6 293,242.1 294.5,242.6 296,243.1 297.5,243.8 299,244.4 300.5,245.2 302,245.9 303.5,246.7 305,247.6 306.5,248.5 308,249.5 309.5,250.5 311,251.5 312.5,252.6 314,253.7 315.5,254.8 317,256 318.5,257.2 320,258.5 321.5,259.7 323,261 324.5,262.4 326,263.7 327.5,265.1 329,266.4 330.5,267.8 332,269.2 333.5,270.6 335,272.1 336.5,273.5 338,274.9 339.5,274.2 341,273 342.5,271.8 344,270.6 345.5,269.4 347,268.2 348.5,267 350,265.8 351.5,264.7 353,263.5 354.5,262.4 356,261.2 357.5,260.1 359,259 360.5,258 362,256.9 363.5,255.9 365,254.9 366.5,253.9 368,252.9 369.5,252 371,251.1 372.5,250.2 374,249.4 375.5,248.6 377,247.8 378.5,247.1 380,246.3 381,245.9"/><polyline id="l01" fill="none" points="26,357.3 27.5,357.4 29,357.4 30.5,357.3 32,357.2 33.5,357.1 35,356.9 36.5,356.7 38,356.4 39.5,356.1 41,355.7 42.5,355.3 44,354.8 45.5,354.3 47,353.8 48.5,353.2 50,352.6 51.5,351.9 53,351.2 54.5,350.5 56,349.7 57.5,348.9 59,348 60.5,347.2 62,346.2 63.5,345.3 65,344.3 66.5,343.3 68,342.2 69.5,341.2 71,340.1 72.5,339 74,337.8 75.5,336.7 77,335.5 78.5,334.3 80,333 81.5,331.8 83,330.6 84.5,329.3 86,328 87.5,326.7 89,325.4 90.5,324.2 92,322.8 93.5,321.5 95,320.8 96.5,322.3 98,323.7 99.5,325.2 101,326.7 102.5,328.1 104,329.5 105.5,331 107,332.4 108.5,333.7 110,335.1 111.5,336.5 113,337.8 114.5,339.1 116,340.3 117.5,341.5 119,342.7 120.5,343.9 122,345 123.5,346.1 125,347.1 126.5,348.1 128,349.1 129.5,350 131,350.9 132.5,351.7 134,352.4 135.5,353.1 137,353.8 138.5,354.4 140,355 141.5,355.5 143,355.9 144.5,356.3 146,356.6 147.5,356.9 149,357.1 150.5,357.3 152,357.4 153.5,357.4 155,357.4 156.5,357.3 158,357.2 159.5,357.1 161,356.9 162.5,356.6 164,356.3 165.5,356 167,355.6 168.5,355.2 170,354.7 171.5,354.2 173,353.7 174.5,353.1 176,352.4 177.5,351.7 179,351 180.5,350.3 182,349.5 183.5,348.7 185,347.8 186.5,346.9 188,346 189.5,345 191,344 192.5,343 194,342 195.5,340.9 197,339.8 198.5,338.7 200,337.5 201.5,336.3 203,335.1 204.5,333.9 206,332.7 207.5,331.5 209,330.2 210.5,329 212,327.7 213.5,326.4 215,325.1 216.5,323.8 218,322.5 219.5,321.2 221,321.2 222.5,322.7 224,324.1 225.5,325.6 227,327 228.5,328.5 230,329.9 231.5,331.3 233,332.7 234.5,334.1 236,335.5 237.5,336.8 239,338.1 240.5,339.4 242,340.6 243.5,341.9 245,343 246.5,344.2 248,345.3 249.5,346.4 251,347.4 252.5,348.4 254,349.3 255.5,350.2 257,351.1 258.5,351.9 260,352.6 261.5,353.3 263,354 264.5,354.6 266,355.1 267.5,355.6 269,356 270.5,356.4 272,356.7 273.5,357 275,357.2 276.5,357.3 278,357.4 279.5,357.4 281,357.4 282.5,357.3 284,357.2 285.5,357 287,356.8 288.5,356.5 290,356.2 291.5,355.9 293,355.5 294.5,355.1 296,354.6 297.5,354.1 299,353.5 300.5,352.9 302,352.2 303.5,351.6 305,350.8 306.5,350.1 308,349.3 309.5,348.4 311,347.6 312.5,346.7 314,345.7 315.5,344.8 317,343.8 318.5,342.7 320,341.7 321.5,340.6 323,339.5 324.5,338.4 326,337.2 327.5,336 329,334.8 330.5,333.6 332,332.4 333.5,331.1 335,329.9 336.5,328.6 338,327.3 339.5,326.1 341,324.8 342.5,323.5 344,322.2 345.5,320.8 347,321.6 348.5,323.1 350,324.5 351.5,326 353,327.4 354.5,328.9 356,330.3 357.5,331.7 359,333.1 360.5,334.5 362,335.8 363.5,337.2 365,338.5 366.5,339.7 368,341 369.5,342.2 371,343.4 372.5,344.5 374,345.6 375.5,346.7 377,347.7 378.5,348.6 380,349.6 381,350.2"/></defs>
<use href="#u01" stroke="#2c738e" stroke-width="10.0" stroke-linejoin="round" opacity="0.50"/>
<use href="#l01" stroke="#2a788e" stroke-width="10.0" stroke-linejoin="round" opacity="0.50"/>
<polyline points="37,228.3 39,228.5 41,228.7 43,228.9 45,229.1 47,229.4 49,229.7 51,230 53,230.4 55,230.7 57,231.1 59,231.5 61,232 63,232.4 65,232.9 67,233.4 69,233.9 71,234.4 73,234.9 75,235.5 77,236 79,236.6 81,237.2 83,237.7 85,238.3 87,238.3 89,237.8 91,237.3 93,236.8 95,236.4 97,235.9 99,235.4 101,235 103,234.5 105,234.1 107,233.6 109,233.2 111,232.8 113,232.4 115,232 117,231.6 119,231.3 121,230.9 123,230.6 125,230.3 127,230 129,229.7 131,229.5 133,229.2 135,229 137,228.8 139,228.6 141,228.5 143,228.3 145,228.2 147,228.1 149,228.1 151,228 153,228 155,228 157,228 159,228.1 161,228.2 163,228.3 165,228.5 167,228.6 169,228.9 171,229.1 173,229.4 175,229.7 177,230 179,230.3 181,230.7 183,231.1 185,231.5 187,231.9 189,232.4 191,232.9 193,233.3 195,233.8 197,234.4 199,234.9 201,235.4 203,236 205,236.5 207,237.1 209,237.7 211,238.2 213,238.3 215,237.9 217,237.4 219,236.9 221,236.4 223,235.9 225,235.5 227,235 229,234.5 231,234.1 233,233.7 235,233.2 237,232.8 239,232.4 241,232 243,231.7 245,231.3 247,231 249,230.6 251,230.3 253,230 255,229.7 257,229.5 259,229.2 261,229 263,228.8 265,228.6 267,228.5 269,228.4 271,228.2 273,228.1 275,228.1 277,228 279,228 281,228 283,228 285,228.1 287,228.2 289,228.3 291,228.4 293,228.6 295,228.8 297,229.1 299,229.3 301,229.6 303,229.9 305,230.3 307,230.6 309,231 311,231.4 313,231.9 315,232.3 317,232.8 319,233.3 321,233.8 323,234.3 325,234.8 327,235.4 329,235.9 331,236.5 333,237.1 335,237.6 337,238.2 339,238.4 341,237.9 343,237.4 345,236.9 347,236.5 349,236 351,235.5 353,235.1 355,234.6 357,234.1 359,233.7 361,233.3 363,232.9 365,232.5 367,232.1 369,231.7" fill="none" stroke="#9cd83c" stroke-width="2.2" opacity="0.80"/>
<polyline points="37,241.3 39,241.5 41,241.7 43,241.9 45,242.1 47,242.4 49,242.7 51,243 53,243.4 55,243.7 57,244.1 59,244.5 61,245 63,245.4 65,245.9 67,246.4 69,246.9 71,247.4 73,247.9 75,248.5 77,249 79,249.6 81,250.2 83,250.7 85,251.3 87,251.3 89,250.8 91,250.3 93,249.8 95,249.4 97,248.9 99,248.4 101,248 103,247.5 105,247.1 107,246.6 109,246.2 111,245.8 113,245.4 115,245 117,244.6 119,244.3 121,243.9 123,243.6 125,243.3 127,243 129,242.7 131,242.5 133,242.2 135,242 137,241.8 139,241.6 141,241.5 143,241.3 145,241.2 147,241.1 149,241.1 151,241 153,241 155,241 157,241 159,241.1 161,241.2 163,241.3 165,241.5 167,241.6 169,241.9 171,242.1 173,242.4 175,242.7 177,243 179,243.3 181,243.7 183,244.1 185,244.5 187,244.9 189,245.4 191,245.9 193,246.3 195,246.8 197,247.4 199,247.9 201,248.4 203,249 205,249.5 207,250.1 209,250.7 211,251.2 213,251.3 215,250.9 217,250.4 219,249.9 221,249.4 223,248.9 225,248.5 227,248 229,247.5 231,247.1 233,246.7 235,246.2 237,245.8 239,245.4 241,245 243,244.7 245,244.3 247,244 249,243.6 251,243.3 253,243 255,242.7 257,242.5 259,242.2 261,242 263,241.8 265,241.6 267,241.5 269,241.4 271,241.2 273,241.1 275,241.1 277,241 279,241 281,241 283,241 285,241.1 287,241.2 289,241.3 291,241.4 293,241.6 295,241.8 297,242.1 299,242.3 301,242.6 303,242.9 305,243.3 307,243.6 309,244 311,244.4 313,244.9 315,245.3 317,245.8 319,246.3 321,246.8 323,247.3 325,247.8 327,248.4 329,248.9 331,249.5 333,250.1 335,250.6 337,251.2 339,251.4 341,250.9 343,250.4 345,249.9 347,249.5 349,249 351,248.5 353,248.1 355,247.6 357,247.1 359,246.7 361,246.3 363,245.9 365,245.5 367,245.1 369,244.7" fill="none" stroke="#7ad151" stroke-width="2.2" opacity="0.65"/>
<polyline points="37,354.2 39,354 41,353.9 43,353.7 45,353.5 47,353.3 49,353.1 51,352.8 53,352.5 55,352.2 57,351.9 59,351.6 61,351.2 63,350.9 65,350.5 67,350.1 69,349.6 71,349.2 73,348.8 75,348.3 77,347.8 79,347.3 81,346.8 83,346.3 85,345.8 87,345.3 89,344.8 91,344.3 93,343.8 95,343.4 97,344 99,344.6 101,345.2 103,345.8 105,346.3 107,346.9 109,347.4 111,348 113,348.5 115,349 117,349.5 119,350 121,350.5 123,350.9 125,351.3 127,351.7 129,352.1 131,352.4 133,352.8 135,353.1 137,353.3 139,353.6 141,353.8 143,354 145,354.1 147,354.2 149,354.3 151,354.4 153,354.4 155,354.4 157,354.4 159,354.3 161,354.2 163,354.1 165,354 167,353.9 169,353.7 171,353.5 173,353.3 175,353 177,352.8 179,352.5 181,352.2 183,351.9 185,351.5 187,351.2 189,350.8 191,350.4 193,350 195,349.6 197,349.1 199,348.7 201,348.2 203,347.7 205,347.2 207,346.7 209,346.2 211,345.7 213,345.2 215,344.7 217,344.2 219,343.7 221,343.5 223,344.1 225,344.7 227,345.3 229,345.9 231,346.4 233,347 235,347.6 237,348.1 239,348.6 241,349.1 243,349.6 245,350.1 247,350.5 249,351 251,351.4 253,351.8 255,352.2 257,352.5 259,352.8 261,353.1 263,353.4 265,353.6 267,353.8 269,354 271,354.1 273,354.2 275,354.3 277,354.4 279,354.4 281,354.4 283,354.4 285,354.3 287,354.2 289,354.1 291,354 293,353.8 295,353.7 297,353.5 299,353.2 301,353 303,352.7 305,352.4 307,352.1 309,351.8 311,351.5 313,351.1 315,350.7 317,350.3 319,349.9 321,349.5 323,349 325,348.6 327,348.1 329,347.6 331,347.1 333,346.6 335,346.1 337,345.6 339,345.1 341,344.6 343,344.1 345,343.6 347,343.7 349,344.2 351,344.8 353,345.4 355,346 357,346.6 359,347.1 361,347.7 363,348.2 365,348.7 367,349.2 369,349.7" fill="none" stroke="#b0dc2f" stroke-width="2.2" opacity="0.75"/>
<polyline points="37,364.2 39,364 41,363.9 43,363.7 45,363.5 47,363.3 49,363.1 51,362.8 53,362.5 55,362.2 57,361.9 59,361.6 61,361.2 63,360.9 65,360.5 67,360.1 69,359.6 71,359.2 73,358.8 75,358.3 77,357.8 79,357.3 81,356.8 83,356.3 85,355.8 87,355.3 89,354.8 91,354.3 93,353.8 95,353.4 97,354 99,354.6 101,355.2 103,355.8 105,356.3 107,356.9 109,357.4 111,358 113,358.5 115,359 117,359.5 119,360 121,360.5 123,360.9 125,361.3 127,361.7 129,362.1 131,362.4 133,362.8 135,363.1 137,363.3 139,363.6 141,363.8 143,364 145,364.1 147,364.2 149,364.3 151,364.4 153,364.4 155,364.4 157,364.4 159,364.3 161,364.2 163,364.1 165,364 167,363.9 169,363.7 171,363.5 173,363.3 175,363 177,362.8 179,362.5 181,362.2 183,361.9 185,361.5 187,361.2 189,360.8 191,360.4 193,360 195,359.6 197,359.1 199,358.7 201,358.2 203,357.7 205,357.2 207,356.7 209,356.2 211,355.7 213,355.2 215,354.7 217,354.2 219,353.7 221,353.5 223,354.1 225,354.7 227,355.3 229,355.9 231,356.4 233,357 235,357.6 237,358.1 239,358.6 241,359.1 243,359.6 245,360.1 247,360.5 249,361 251,361.4 253,361.8 255,362.2 257,362.5 259,362.8 261,363.1 263,363.4 265,363.6 267,363.8 269,364 271,364.1 273,364.2 275,364.3 277,364.4 279,364.4 281,364.4 283,364.4 285,364.3 287,364.2 289,364.1 291,364 293,363.8 295,363.7 297,363.5 299,363.2 301,363 303,362.7 305,362.4 307,362.1 309,361.8 311,361.5 313,361.1 315,360.7 317,360.3 319,359.9 321,359.5 323,359 325,358.6 327,358.1 329,357.6 331,357.1 333,356.6 335,356.1 337,355.6 339,355.1 341,354.6 343,354.1 345,353.6 347,353.7 349,354.2 351,354.8 353,355.4 355,356 357,356.6 359,357.1 361,357.7 363,358.2 365,358.7 367,359.2 369,359.7" fill="none" stroke="#b0dc2f" stroke-width="2.2" opacity="0.75"/>
<polyline points="37,343.1 39,342.9 41,342.7 43,342.5 45,342.2 47,342 49,341.6 51,341.3 53,340.9 55,340.5 57,340.1 59,339.7 61,339.2 63,338.7 65,338.2 67,337.6 69,337.1 71,336.5 73,335.9 75,335.3 77,334.6 79,334 81,333.3 83,332.7 85,332 87,331.3 89,330.6 91,329.9 93,329.2 95,328.8 97,329.5 99,330.3 101,331.1 103,331.9 105,332.6 107,333.4 109,334.1 111,334.8 113,335.5 115,336.2 117,336.9 119,337.5 121,338.1 123,338.7 125,339.3 127,339.8 129,340.3 131,340.8 133,341.2 135,341.6 137,342 139,342.3 141,342.6 143,342.8 145,343 147,343.2 149,343.3 151,343.4 153,343.4 155,343.4 157,343.4 159,343.3 161,343.2 163,343 165,342.9 167,342.7 169,342.5 171,342.2 173,341.9 175,341.6 177,341.2 179,340.9 181,340.4 183,340 185,339.6 187,339.1 189,338.6 191,338.1 193,337.5 195,336.9 197,336.4 199,335.8 201,335.1 203,334.5 205,333.9 207,333.2 209,332.5 211,331.9 213,331.2 215,330.5 217,329.8 219,329.1 221,328.9 223,329.7 225,330.5 227,331.3 229,332 231,332.8 233,333.5 235,334.3 237,335 239,335.7 241,336.4 243,337 245,337.7 247,338.3 249,338.8 251,339.4 253,339.9 255,340.4 257,340.9 259,341.3 261,341.7 263,342 265,342.3 267,342.6 269,342.8 271,343 273,343.2 275,343.3 277,343.4 279,343.4 281,343.4 283,343.3 285,343.3 287,343.2 289,343 291,342.8 293,342.6 295,342.4 297,342.1 299,341.8 301,341.5 303,341.2 305,340.8 307,340.4 309,339.9 311,339.5 313,339 315,338.5 317,337.9 319,337.4 321,336.8 323,336.2 325,335.6 327,335 329,334.4 331,333.7 333,333.1 335,332.4 337,331.7 339,331 341,330.3 343,329.6 345,329 347,329.1 349,329.9 351,330.6 353,331.4 355,332.2 357,332.9 359,333.7 361,334.4 363,335.1 365,335.8 367,336.5 369,337.2" fill="none" stroke="#44bf70" stroke-width="1.6" opacity="0.50"/>
<polygon points="26,240 27.5,240 29,240 30.5,240.1 32,240.2 33.5,240.4 35,240.7 36.5,241 38,241.3 39.5,241.7 41,242.2 42.5,242.7 44,243.3 45.5,243.9 47,244.6 48.5,245.4 50,246.1 51.5,247 53,247.8 54.5,248.8 56,249.7 57.5,250.7 59,251.8 60.5,252.9 62,254 63.5,255.1 65,256.3 66.5,257.6 68,258.8 69.5,260.1 71,261.4 72.5,262.7 74,264.1 75.5,265.4 77,266.8 78.5,268.2 80,269.6 81.5,271 83,272.4 84.5,273.9 86,275.1 87.5,273.9 89,272.7 90.5,271.5 92,270.3 93.5,269.1 95,267.9 96.5,266.7 98,265.5 99.5,264.3 101,263.2 102.5,262.1 104,260.9 105.5,259.8 107,258.7 108.5,257.7 110,256.6 111.5,255.6 113,254.6 114.5,253.6 116,252.7 117.5,251.8 119,250.9 120.5,250 122,249.2 123.5,248.4 125,247.6 126.5,246.9 128,246.2 129.5,245.5 131,244.9 132.5,244.3 134,243.7 135.5,243.2 137,242.7 138.5,242.2 140,241.8 141.5,241.5 143,241.1 144.5,240.8 146,240.6 147.5,240.4 149,240.2 150.5,240.1 152,240 153.5,240 155,240 156.5,240.1 158,240.2 159.5,240.4 161,240.6 162.5,240.9 164,241.3 165.5,241.7 167,242.1 168.5,242.7 170,243.2 171.5,243.9 173,244.5 174.5,245.3 176,246 177.5,246.9 179,247.7 180.5,248.6 182,249.6 183.5,250.6 185,251.6 186.5,252.7 188,253.8 189.5,255 191,256.2 192.5,257.4 194,258.6 195.5,259.9 197,261.2 198.5,262.5 200,263.9 201.5,265.2 203,266.6 204.5,268 206,269.4 207.5,270.8 209,272.3 210.5,273.7 212,275.1 213.5,274.1 215,272.8 216.5,271.6 218,270.4 219.5,269.2 221,268 222.5,266.8 224,265.7 225.5,264.5 227,263.3 228.5,262.2 230,261.1 231.5,260 233,258.9 234.5,257.8 236,256.8 237.5,255.7 239,254.7 240.5,253.8 242,252.8 243.5,251.9 245,251 246.5,250.1 248,249.3 249.5,248.5 251,247.7 252.5,247 254,246.2 255.5,245.6 257,244.9 258.5,244.3 260,243.8 261.5,243.2 263,242.7 264.5,242.3 266,241.9 267.5,241.5 269,241.2 270.5,240.9 272,240.6 273.5,240.4 275,240.3 276.5,240.1 278,240 279.5,240 281,240 282.5,240.1 284,240.2 285.5,240.4 287,240.6 288.5,240.9 290,241.2 291.5,241.6 293,242.1 294.5,242.6 296,243.1 297.5,243.8 299,244.4 300.5,245.2 302,245.9 303.5,246.7 305,247.6 306.5,248.5 308,249.5 309.5,250.5 311,251.5 312.5,252.6 314,253.7 315.5,254.8 317,256 318.5,257.2 320,258.5 321.5,259.7 323,261 324.5,262.4 326,263.7 327.5,265.1 329,266.4 330.5,267.8 332,269.2 333.5,270.6 335,272.1 336.5,273.5 338,274.9 339.5,274.2 341,273 342.5,271.8 344,270.6 345.5,269.4 347,268.2 348.5,267 350,265.8 351.5,264.7 353,263.5 354.5,262.4 356,261.2 357.5,260.1 359,259 360.5,258 362,256.9 363.5,255.9 365,254.9 366.5,253.9 368,252.9 369.5,252 371,251.1 372.5,250.2 374,249.4 375.5,248.6 377,247.8 378.5,247.1 380,246.3 381,245.9 381,350.2 380,349.6 378.5,348.6 377,347.7 375.5,346.7 374,345.6 372.5,344.5 371,343.4 369.5,342.2 368,341 366.5,339.7 365,338.5 363.5,337.2 362,335.8 360.5,334.5 359,333.1 357.5,331.7 356,330.3 354.5,328.9 353,327.4 351.5,326 350,324.5 348.5,323.1 347,321.6 345.5,320.8 344,322.2 342.5,323.5 341,324.8 339.5,326.1 338,327.3 336.5,328.6 335,329.9 333.5,331.1 332,332.4 330.5,333.6 329,334.8 327.5,336 326,337.2 324.5,338.4 323,339.5 321.5,340.6 320,341.7 318.5,342.7 317,343.8 315.5,344.8 314,345.7 312.5,346.7 311,347.6 309.5,348.4 308,349.3 306.5,350.1 305,350.8 303.5,351.6 302,352.2 300.5,352.9 299,353.5 297.5,354.1 296,354.6 294.5,355.1 293,355.5 291.5,355.9 290,356.2 288.5,356.5 287,356.8 285.5,357 284,357.2 282.5,357.3 281,357.4 279.5,357.4 278,357.4 276.5,357.3 275,357.2 273.5,357 272,356.7 270.5,356.4 269,356 267.5,355.6 266,355.1 264.5,354.6 263,354 261.5,353.3 260,352.6 258.5,351.9 257,351.1 255.5,350.2 254,349.3 252.5,348.4 251,347.4 249.5,346.4 248,345.3 246.5,344.2 245,343 243.5,341.9 242,340.6 240.5,339.4 239,338.1 237.5,336.8 236,335.5 234.5,334.1 233,332.7 231.5,331.3 230,329.9 228.5,328.5 227,327 225.5,325.6 224,324.1 222.5,322.7 221,321.2 219.5,321.2 218,322.5 216.5,323.8 215,325.1 213.5,326.4 212,327.7 210.5,329 209,330.2 207.5,331.5 206,332.7 204.5,333.9 203,335.1 201.5,336.3 200,337.5 198.5,338.7 197,339.8 195.5,340.9 194,342 192.5,343 191,344 189.5,345 188,346 186.5,346.9 185,347.8 183.5,348.7 182,349.5 180.5,350.3 179,351 177.5,351.7 176,352.4 174.5,353.1 173,353.7 171.5,354.2 170,354.7 168.5,355.2 167,355.6 165.5,356 164,356.3 162.5,356.6 161,356.9 159.5,357.1 158,357.2 156.5,357.3 155,357.4 153.5,357.4 152,357.4 150.5,357.3 149,357.1 147.5,356.9 146,356.6 144.5,356.3 143,355.9 141.5,355.5 140,355 138.5,354.4 137,353.8 135.5,353.1 134,352.4 132.5,351.7 131,350.9 129.5,350 128,349.1 126.5,348.1 125,347.1 123.5,346.1 122,345 120.5,343.9 119,342.7 117.5,341.5 116,340.3 114.5,339.1 113,337.8 111.5,336.5 110,335.1 108.5,333.7 107,332.4 105.5,331 104,329.5 102.5,328.1 101,326.7 99.5,325.2 98,323.7 96.5,322.3 95,320.8 93.5,321.5 92,322.8 90.5,324.2 89,325.4 87.5,326.7 86,328 84.5,329.3 83,330.6 81.5,331.8 80,333 78.5,334.3 77,335.5 75.5,336.7 74,337.8 72.5,339 71,340.1 69.5,341.2 68,342.2 66.5,343.3 65,344.3 63.5,345.3 62,346.2 60.5,347.2 59,348 57.5,348.9 56,349.7 54.5,350.5 53,351.2 51.5,351.9 50,352.6 48.5,353.2 47,353.8 45.5,354.3 44,354.8 42.5,355.3 41,355.7 39.5,356.1 38,356.4 36.5,356.7 35,356.9 33.5,357.1 32,357.2 30.5,357.3 29,357.4 27.5,357.4 26,357.3" fill="#440e66"/>
<use href="#u01" stroke="#dde326" stroke-width="2" stroke-dasharray="2.5 5" transform="translate(0,-2.6)" opacity="0.60"/>
<use href="#l01" stroke="#dde326" stroke-width="2" stroke-dasharray="2.5 5" transform="translate(0,2.6)" opacity="0.60"/>
<use href="#u01" stroke="#ef7d26" stroke-width="2.7" stroke-linejoin="round"/>
<use href="#l01" stroke="#ef7d26" stroke-width="2.7" stroke-linejoin="round"/>
</g>
<rect x="41.0" y="216.0" width="325.0" height="164.0" fill="none" stroke="#000" stroke-width="2"/>
<g clip-path="url(#c02)">
<rect x="42" y="383" width="323" height="163" fill="url(#g02)"/>
<rect x="42" y="414.0" width="323" height="4.0" fill="#a2d937" opacity="0.70"/>
<rect x="42" y="432.0" width="323" height="6.0" fill="#dde326" opacity="0.85"/>
<rect x="42" y="494.0" width="323" height="4.0" fill="#dde326" opacity="0.90"/>
<rect x="42" y="513.0" width="323" height="3.0" fill="#a2d937" opacity="0.70"/>
<rect x="42" y="521.0" width="323" height="5.0" fill="#dde326" opacity="0.90"/>
<rect x="42" y="540.0" width="323" height="3.0" fill="#5fc860" opacity="0.60"/>
<defs><polyline id="u02" fill="none" points="26,415 27.5,415.1 29,415.2 30.5,415.4 32,415.6 33.5,415.9 35,416.2 36.5,416.6 38,417.1 39.5,417.6 41,418.1 42.5,418.7 44,419.3 45.5,420 47,420.7 48.5,421.5 50,422.3 51.5,423.1 53,424 54.5,424.9 56,425.9 57.5,426.9 59,427.9 60.5,428.9 62,430 63.5,431.1 65,432.2 66.5,433.4 68,434.5 69.5,435.7 71,436.9 72.5,438.1 74,439.3 75.5,440.5 77,441.8 78.5,443 80,442.1 81.5,441.1 83,440.2 84.5,439.3 86,438.4 87.5,437.5 89,436.6 90.5,435.7 92,434.8 93.5,433.9 95,433 96.5,432.2 98,431.3 99.5,430.5 101,429.7 102.5,428.9 104,428.1 105.5,427.3 107,426.5 108.5,425.8 110,425.1 111.5,424.4 113,423.7 114.5,423 116,422.4 117.5,421.8 119,421.2 120.5,420.6 122,420.1 123.5,419.6 125,419.1 126.5,418.6 128,418.2 129.5,417.7 131,417.4 132.5,417 134,416.7 135.5,416.4 137,416.1 138.5,415.9 140,415.6 141.5,415.5 143,415.3 144.5,415.2 146,415.1 147.5,415 149,415 150.5,415 152,415.1 153.5,415.2 155,415.3 156.5,415.5 158,415.8 159.5,416.1 161,416.5 162.5,416.9 164,417.4 165.5,417.9 167,418.5 168.5,419.1 170,419.8 171.5,420.5 173,421.2 174.5,422 176,422.8 177.5,423.7 179,424.6 180.5,425.6 182,426.5 183.5,427.6 185,428.6 186.5,429.7 188,430.7 189.5,431.9 191,433 192.5,434.2 194,435.3 195.5,436.5 197,437.7 198.5,438.9 200,440.1 201.5,441.4 203,442.6 204.5,442.4 206,441.5 207.5,440.5 209,439.6 210.5,438.7 212,437.8 213.5,436.9 215,436 216.5,435.1 218,434.2 219.5,433.3 221,432.5 222.5,431.6 224,430.8 225.5,429.9 227,429.1 228.5,428.3 230,427.6 231.5,426.8 233,426 234.5,425.3 236,424.6 237.5,423.9 239,423.3 240.5,422.6 242,422 243.5,421.4 245,420.8 246.5,420.3 248,419.7 249.5,419.2 251,418.8 252.5,418.3 254,417.9 255.5,417.5 257,417.1 258.5,416.8 260,416.5 261.5,416.2 263,415.9 264.5,415.7 266,415.5 267.5,415.4 269,415.2 270.5,415.1 272,415.1 273.5,415 275,415 276.5,415 278,415.1 279.5,415.3 281,415.5 282.5,415.7 284,416 285.5,416.4 287,416.8 288.5,417.2 290,417.7 291.5,418.3 293,418.9 294.5,419.5 296,420.2 297.5,421 299,421.7 300.5,422.6 302,423.4 303.5,424.3 305,425.2 306.5,426.2 308,427.2 309.5,428.2 311,429.3 312.5,430.4 314,431.5 315.5,432.6 317,433.8 318.5,434.9 320,436.1 321.5,437.3 323,438.5 324.5,439.7 326,441 327.5,442.2 329,442.7 330.5,441.8 332,440.8 333.5,439.9 335,439 336.5,438.1 338,437.2 339.5,436.3 341,435.4 342.5,434.5 344,433.6 345.5,432.7 347,431.9 348.5,431.1 350,430.2 351.5,429.4 353,428.6 354.5,427.8 356,427 357.5,426.3 359,425.6 360.5,424.8 362,424.1 363.5,423.5 365,422.8 366.5,422.2 368,421.6 369.5,421 371,420.4 372.5,419.9 374,419.4 375.5,418.9 377,418.4 378.5,418 380,417.6 381,417.4"/><polyline id="l02" fill="none" points="26,516.5 27.5,516.5 29,516.5 30.5,516.4 32,516.3 33.5,516.2 35,516.1 36.5,515.9 38,515.7 39.5,515.5 41,515.2 42.5,515 44,514.6 45.5,514.3 47,513.9 48.5,513.6 50,513.1 51.5,512.7 53,512.2 54.5,511.7 56,511.2 57.5,510.7 59,510.1 60.5,509.5 62,508.9 63.5,508.3 65,507.6 66.5,507 68,506.3 69.5,505.6 71,504.8 72.5,504.1 74,503.3 75.5,502.5 77,501.8 78.5,500.9 80,500.1 81.5,499.3 83,498.4 84.5,497.6 86,496.7 87.5,495.8 89,494.9 90.5,494 92,493.1 93.5,492.2 95,491.3 96.5,490.4 98,489.5 99.5,488.5 101,487.6 102.5,487.5 104,488.9 105.5,490.2 107,491.6 108.5,493 110,494.3 111.5,495.7 113,497 114.5,498.3 116,499.6 117.5,500.8 119,502 120.5,503.2 122,504.3 123.5,505.4 125,506.5 126.5,507.5 128,508.5 129.5,509.4 131,510.3 132.5,511.1 134,511.9 135.5,512.6 137,513.3 138.5,513.9 140,514.4 141.5,514.9 143,515.3 144.5,515.7 146,516 147.5,516.2 149,516.4 150.5,516.5 152,516.5 153.5,516.5 155,516.4 156.5,516.4 158,516.3 159.5,516.1 161,516 162.5,515.8 164,515.6 165.5,515.3 167,515.1 168.5,514.8 170,514.4 171.5,514.1 173,513.7 174.5,513.3 176,512.9 177.5,512.4 179,511.9 180.5,511.4 182,510.9 183.5,510.3 185,509.7 186.5,509.1 188,508.5 189.5,507.9 191,507.2 192.5,506.5 194,505.8 195.5,505.1 197,504.3 198.5,503.6 200,502.8 201.5,502 203,501.2 204.5,500.4 206,499.6 207.5,498.7 209,497.9 210.5,497 212,496.1 213.5,495.2 215,494.3 216.5,493.4 218,492.5 219.5,491.6 221,490.7 222.5,489.8 224,488.9 225.5,487.9 227,487 228.5,488.4 230,489.8 231.5,491.2 233,492.5 234.5,493.9 236,495.2 237.5,496.6 239,497.9 240.5,499.1 242,500.4 243.5,501.6 245,502.8 246.5,504 248,505.1 249.5,506.2 251,507.2 252.5,508.2 254,509.1 255.5,510 257,510.9 258.5,511.7 260,512.4 261.5,513.1 263,513.7 264.5,514.3 266,514.8 267.5,515.2 269,515.6 270.5,515.9 272,516.1 273.5,516.3 275,516.4 276.5,516.5 278,516.5 279.5,516.5 281,516.4 282.5,516.3 284,516.2 285.5,516 287,515.9 288.5,515.6 290,515.4 291.5,515.2 293,514.9 294.5,514.5 296,514.2 297.5,513.8 299,513.4 300.5,513 302,512.5 303.5,512.1 305,511.6 306.5,511 308,510.5 309.5,509.9 311,509.3 312.5,508.7 314,508.1 315.5,507.4 317,506.7 318.5,506 320,505.3 321.5,504.6 323,503.8 324.5,503.1 326,502.3 327.5,501.5 329,500.7 330.5,499.8 332,499 333.5,498.1 335,497.3 336.5,496.4 338,495.5 339.5,494.6 341,493.7 342.5,492.8 344,491.9 345.5,491 347,490.1 348.5,489.2 350,488.2 351.5,487.3 353,487.9 354.5,489.3 356,490.7 357.5,492.1 359,493.4 360.5,494.8 362,496.1 363.5,497.4 365,498.7 366.5,500 368,501.2 369.5,502.4 371,503.6 372.5,504.7 374,505.8 375.5,506.9 377,507.9 378.5,508.8 380,509.7 381,510.3"/></defs>
<use href="#u02" stroke="#2a788e" stroke-width="10.0" stroke-linejoin="round" opacity="0.50"/>
<use href="#l02" stroke="#287d8e" stroke-width="10.0" stroke-linejoin="round" opacity="0.50"/>
<polygon points="26,415 27.5,415.1 29,415.2 30.5,415.4 32,415.6 33.5,415.9 35,416.2 36.5,416.6 38,417.1 39.5,417.6 41,418.1 42.5,418.7 44,419.3 45.5,420 47,420.7 48.5,421.5 50,422.3 51.5,423.1 53,424 54.5,424.9 56,425.9 57.5,426.9 59,427.9 60.5,428.9 62,430 63.5,431.1 65,432.2 66.5,433.4 68,434.5 69.5,435.7 71,436.9 72.5,438.1 74,439.3 75.5,440.5 77,441.8 78.5,443 80,442.1 81.5,441.1 83,440.2 84.5,439.3 86,438.4 87.5,437.5 89,436.6 90.5,435.7 92,434.8 93.5,433.9 95,433 96.5,432.2 98,431.3 99.5,430.5 101,429.7 102.5,428.9 104,428.1 105.5,427.3 107,426.5 108.5,425.8 110,425.1 111.5,424.4 113,423.7 114.5,423 116,422.4 117.5,421.8 119,421.2 120.5,420.6 122,420.1 123.5,419.6 125,419.1 126.5,418.6 128,418.2 129.5,417.7 131,417.4 132.5,417 134,416.7 135.5,416.4 137,416.1 138.5,415.9 140,415.6 141.5,415.5 143,415.3 144.5,415.2 146,415.1 147.5,415 149,415 150.5,415 152,415.1 153.5,415.2 155,415.3 156.5,415.5 158,415.8 159.5,416.1 161,416.5 162.5,416.9 164,417.4 165.5,417.9 167,418.5 168.5,419.1 170,419.8 171.5,420.5 173,421.2 174.5,422 176,422.8 177.5,423.7 179,424.6 180.5,425.6 182,426.5 183.5,427.6 185,428.6 186.5,429.7 188,430.7 189.5,431.9 191,433 192.5,434.2 194,435.3 195.5,436.5 197,437.7 198.5,438.9 200,440.1 201.5,441.4 203,442.6 204.5,442.4 206,441.5 207.5,440.5 209,439.6 210.5,438.7 212,437.8 213.5,436.9 215,436 216.5,435.1 218,434.2 219.5,433.3 221,432.5 222.5,431.6 224,430.8 225.5,429.9 227,429.1 228.5,428.3 230,427.6 231.5,426.8 233,426 234.5,425.3 236,424.6 237.5,423.9 239,423.3 240.5,422.6 242,422 243.5,421.4 245,420.8 246.5,420.3 248,419.7 249.5,419.2 251,418.8 252.5,418.3 254,417.9 255.5,417.5 257,417.1 258.5,416.8 260,416.5 261.5,416.2 263,415.9 264.5,415.7 266,415.5 267.5,415.4 269,415.2 270.5,415.1 272,415.1 273.5,415 275,415 276.5,415 278,415.1 279.5,415.3 281,415.5 282.5,415.7 284,416 285.5,416.4 287,416.8 288.5,417.2 290,417.7 291.5,418.3 293,418.9 294.5,419.5 296,420.2 297.5,421 299,421.7 300.5,422.6 302,423.4 303.5,424.3 305,425.2 306.5,426.2 308,427.2 309.5,428.2 311,429.3 312.5,430.4 314,431.5 315.5,432.6 317,433.8 318.5,434.9 320,436.1 321.5,437.3 323,438.5 324.5,439.7 326,441 327.5,442.2 329,442.7 330.5,441.8 332,440.8 333.5,439.9 335,439 336.5,438.1 338,437.2 339.5,436.3 341,435.4 342.5,434.5 344,433.6 345.5,432.7 347,431.9 348.5,431.1 350,430.2 351.5,429.4 353,428.6 354.5,427.8 356,427 357.5,426.3 359,425.6 360.5,424.8 362,424.1 363.5,423.5 365,422.8 366.5,422.2 368,421.6 369.5,421 371,420.4 372.5,419.9 374,419.4 375.5,418.9 377,418.4 378.5,418 380,417.6 381,417.4 381,510.3 380,509.7 378.5,508.8 377,507.9 375.5,506.9 374,505.8 372.5,504.7 371,503.6 369.5,502.4 368,501.2 366.5,500 365,498.7 363.5,497.4 362,496.1 360.5,494.8 359,493.4 357.5,492.1 356,490.7 354.5,489.3 353,487.9 351.5,487.3 350,488.2 348.5,489.2 347,490.1 345.5,491 344,491.9 342.5,492.8 341,493.7 339.5,494.6 338,495.5 336.5,496.4 335,497.3 333.5,498.1 332,499 330.5,499.8 329,500.7 327.5,501.5 326,502.3 324.5,503.1 323,503.8 321.5,504.6 320,505.3 318.5,506 317,506.7 315.5,507.4 314,508.1 312.5,508.7 311,509.3 309.5,509.9 308,510.5 306.5,511 305,511.6 303.5,512.1 302,512.5 300.5,513 299,513.4 297.5,513.8 296,514.2 294.5,514.5 293,514.9 291.5,515.2 290,515.4 288.5,515.6 287,515.9 285.5,516 284,516.2 282.5,516.3 281,516.4 279.5,516.5 278,516.5 276.5,516.5 275,516.4 273.5,516.3 272,516.1 270.5,515.9 269,515.6 267.5,515.2 266,514.8 264.5,514.3 263,513.7 261.5,513.1 260,512.4 258.5,511.7 257,510.9 255.5,510 254,509.1 252.5,508.2 251,507.2 249.5,506.2 248,505.1 246.5,504 245,502.8 243.5,501.6 242,500.4 240.5,499.1 239,497.9 237.5,496.6 236,495.2 234.5,493.9 233,492.5 231.5,491.2 230,489.8 228.5,488.4 227,487 225.5,487.9 224,488.9 222.5,489.8 221,490.7 219.5,491.6 218,492.5 216.5,493.4 215,494.3 213.5,495.2 212,496.1 210.5,497 209,497.9 207.5,498.7 206,499.6 204.5,500.4 203,501.2 201.5,502 200,502.8 198.5,503.6 197,504.3 195.5,505.1 194,505.8 192.5,506.5 191,507.2 189.5,507.9 188,508.5 186.5,509.1 185,509.7 183.5,510.3 182,510.9 180.5,511.4 179,511.9 177.5,512.4 176,512.9 174.5,513.3 173,513.7 171.5,514.1 170,514.4 168.5,514.8 167,515.1 165.5,515.3 164,515.6 162.5,515.8 161,516 159.5,516.1 158,516.3 156.5,516.4 155,516.4 153.5,516.5 152,516.5 150.5,516.5 149,516.4 147.5,516.2 146,516 144.5,515.7 143,515.3 141.5,514.9 140,514.4 138.5,513.9 137,513.3 135.5,512.6 134,511.9 132.5,511.1 131,510.3 129.5,509.4 128,508.5 126.5,507.5 125,506.5 123.5,505.4 122,504.3 120.5,503.2 119,502 117.5,500.8 116,499.6 114.5,498.3 113,497 111.5,495.7 110,494.3 108.5,493 107,491.6 105.5,490.2 104,488.9 102.5,487.5 101,487.6 99.5,488.5 98,489.5 96.5,490.4 95,491.3 93.5,492.2 92,493.1 90.5,494 89,494.9 87.5,495.8 86,496.7 84.5,497.6 83,498.4 81.5,499.3 80,500.1 78.5,500.9 77,501.8 75.5,502.5 74,503.3 72.5,504.1 71,504.8 69.5,505.6 68,506.3 66.5,507 65,507.6 63.5,508.3 62,508.9 60.5,509.5 59,510.1 57.5,510.7 56,511.2 54.5,511.7 53,512.2 51.5,512.7 50,513.1 48.5,513.6 47,513.9 45.5,514.3 44,514.6 42.5,515 41,515.2 39.5,515.5 38,515.7 36.5,515.9 35,516.1 33.5,516.2 32,516.3 30.5,516.4 29,516.5 27.5,516.5 26,516.5" fill="#440e66"/>
<use href="#u02" stroke="#dde326" stroke-width="2" stroke-dasharray="2.5 5" transform="translate(0,-2.6)" opacity="0.60"/>
<use href="#l02" stroke="#dde326" stroke-width="2" stroke-dasharray="2.5 5" transform="translate(0,2.6)" opacity="0.60"/>
<use href="#u02" stroke="#ef7d26" stroke-width="2.7" stroke-linejoin="round"/>
<use href="#l02" stroke="#ef7d26" stroke-width="2.7" stroke-linejoin="round"/>
</g>
<rect x="41.0" y="382.0" width="325.0" height="165.0" fill="none" stroke="#000" stroke-width="2"/>
<g clip-path="url(#c10)">
<rect x="411" y="48" width="323" height="162" fill="url(#g10)"/>
<defs><polyline id="u10" fill="none" points="395,109.7 396.5,112.3 398,114.5 399.5,112.2 401,109.8 402.5,107.5 404,105.2 405.5,102.9 407,100.6 408.5,98.3 410,96.1 411.5,93.9 413,91.8 414.5,89.6 416,87.6 417.5,85.5 419,83.6 420.5,81.7 422,79.8 423.5,78 425,76.3 426.5,74.6 428,73 429.5,71.5 431,70.1 432.5,68.7 434,67.5 435.5,66.3 437,65.2 438.5,64.2 440,63.3 441.5,62.4 443,61.7 444.5,61.1 446,60.5 447.5,60.1 449,59.7 450.5,59.5 452,59.3 453.5,59.3 455,59.4 456.5,59.6 458,59.9 459.5,60.3 461,60.8 462.5,61.5 464,62.3 465.5,63.2 467,64.2 468.5,65.3 470,66.6 471.5,67.9 473,69.3 474.5,70.9 476,72.5 477.5,74.2 479,76.1 480.5,78 482,79.9 483.5,82 485,84.1 486.5,86.3 488,88.6 489.5,90.9 491,93.3 492.5,95.7 494,98.2 495.5,100.7 497,103.2 498.5,105.7 500,108.3 501.5,110.9 503,113.5 504.5,113.4 506,111.1 507.5,108.8 509,106.4 510.5,104.1 512,101.8 513.5,99.5 515,97.3 516.5,95.1 518,92.9 519.5,90.8 521,88.7 522.5,86.6 524,84.6 525.5,82.7 527,80.8 528.5,79 530,77.2 531.5,75.5 533,73.9 534.5,72.3 536,70.8 537.5,69.4 539,68.1 540.5,66.9 542,65.8 543.5,64.7 545,63.7 546.5,62.9 548,62.1 549.5,61.4 551,60.8 552.5,60.3 554,59.9 555.5,59.6 557,59.4 558.5,59.3 560,59.3 561.5,59.4 563,59.7 564.5,60 566,60.5 567.5,61.1 569,61.9 570.5,62.7 572,63.6 573.5,64.7 575,65.9 576.5,67.2 578,68.5 579.5,70 581,71.6 582.5,73.3 584,75.1 585.5,76.9 587,78.9 588.5,80.9 590,83 591.5,85.1 593,87.4 594.5,89.7 596,92 597.5,94.4 599,96.8 600.5,99.3 602,101.8 603.5,104.4 605,106.9 606.5,109.5 608,112.1 609.5,114.7 611,112.4 612.5,110 614,107.7 615.5,105.3 617,103 618.5,100.8 620,98.5 621.5,96.3 623,94.1 624.5,91.9 626,89.8 627.5,87.7 629,85.7 630.5,83.7 632,81.8 633.5,79.9 635,78.1 636.5,76.4 638,74.7 639.5,73.1 641,71.6 642.5,70.2 644,68.8 645.5,67.5 647,66.4 648.5,65.3 650,64.2 651.5,63.3 653,62.5 654.5,61.7 656,61.1 657.5,60.6 659,60.1 660.5,59.8 662,59.5 663.5,59.4 665,59.3 666.5,59.4 668,59.5 669.5,59.8 671,60.3 672.5,60.8 674,61.5 675.5,62.2 677,63.1 678.5,64.1 680,65.2 681.5,66.5 683,67.8 684.5,69.2 686,70.8 687.5,72.4 689,74.1 690.5,75.9 692,77.8 693.5,79.8 695,81.9 696.5,84 698,86.2 699.5,88.4 701,90.8 702.5,93.1 704,95.5 705.5,98 707,100.5 708.5,103 710,105.6 711.5,108.1 713,110.7 714.5,113.3 716,113.6 717.5,111.3 719,108.9 720.5,106.6 722,104.3 723.5,102 725,99.7 726.5,97.4 728,95.2 729.5,93 731,90.9 732.5,88.8 734,86.7 735.5,84.7 737,82.8 738.5,80.9 740,79.1 741.5,77.3 743,75.6 744.5,74 746,72.4 747.5,70.9 749,69.5 750,68.7"/><polyline id="l10" fill="none" points="395,156.5 396.5,154.2 398,151.8 399.5,149.4 401,146.9 402.5,144.5 404,145.5 405.5,148.1 407,150.7 408.5,153.3 410,155.9 411.5,158.4 413,161 414.5,163.4 416,165.9 417.5,168.3 419,170.6 420.5,172.9 422,175.1 423.5,177.3 425,179.3 426.5,181.3 428,183.3 429.5,185.1 431,186.8 432.5,188.5 434,190 435.5,191.5 437,192.8 438.5,194 440,195.2 441.5,196.2 443,197.1 444.5,197.8 446,198.5 447.5,199.1 449,199.5 450.5,199.8 452,199.9 453.5,200 455,199.9 456.5,199.8 458,199.5 459.5,199.1 461,198.7 462.5,198.1 464,197.4 465.5,196.6 467,195.7 468.5,194.8 470,193.7 471.5,192.5 473,191.3 474.5,189.9 476,188.5 477.5,187 479,185.4 480.5,183.7 482,182 483.5,180.2 485,178.3 486.5,176.3 488,174.3 489.5,172.3 491,170.2 492.5,168 494,165.8 495.5,163.5 497,161.2 498.5,158.9 500,156.5 501.5,154.2 503,151.8 504.5,149.4 506,146.9 507.5,144.5 509,145.5 510.5,148.1 512,150.7 513.5,153.3 515,155.9 516.5,158.4 518,161 519.5,163.4 521,165.9 522.5,168.3 524,170.6 525.5,172.9 527,175.1 528.5,177.3 530,179.3 531.5,181.3 533,183.3 534.5,185.1 536,186.8 537.5,188.5 539,190 540.5,191.5 542,192.8 543.5,194 545,195.2 546.5,196.2 548,197.1 549.5,197.8 551,198.5 552.5,199.1 554,199.5 555.5,199.8 557,199.9 558.5,200 560,199.9 561.5,199.8 563,199.5 564.5,199.1 566,198.7 567.5,198.1 569,197.4 570.5,196.6 572,195.7 573.5,194.8 575,193.7 576.5,192.5 578,191.3 579.5,189.9 581,188.5 582.5,187 584,185.4 585.5,183.7 587,182 588.5,180.2 590,178.3 591.5,176.3 593,174.3 594.5,172.3 596,170.2 597.5,168 599,165.8 600.5,163.5 602,161.2 603.5,158.9 605,156.5 606.5,154.2 608,151.8 609.5,149.4 611,146.9 612.5,144.5 614,145.5 615.5,148.1 617,150.7 618.5,153.3 620,155.9 621.5,158.4 623,161 624.5,163.4 626,165.9 627.5,168.3 629,170.6 630.5,172.9 632,175.1 633.5,177.3 635,179.3 636.5,181.3 638,183.3 639.5,185.1 641,186.8 642.5,188.5 644,190 645.5,191.5 647,192.8 648.5,194 650,195.2 651.5,196.2 653,197.1 654.5,197.8 656,198.5 657.5,199.1 659,199.5 660.5,199.8 662,199.9 663.5,200 665,199.9 666.5,199.8 668,199.5 669.5,199.1 671,198.7 672.5,198.1 674,197.4 675.5,196.6 677,195.7 678.5,194.8 680,193.7 681.5,192.5 683,191.3 684.5,189.9 686,188.5 687.5,187 689,185.4 690.5,183.7 692,182 693.5,180.2 695,178.3 696.5,176.3 698,174.3 699.5,172.3 701,170.2 702.5,168 704,165.8 705.5,163.5 707,161.2 708.5,158.9 710,156.5 711.5,154.2 713,151.8 714.5,149.4 716,146.9 717.5,144.5 719,145.5 720.5,148.1 722,150.7 723.5,153.3 725,155.9 726.5,158.4 728,161 729.5,163.4 731,165.9 732.5,168.3 734,170.6 735.5,172.9 737,175.1 738.5,177.3 740,179.3 741.5,181.3 743,183.3 744.5,185.1 746,186.8 747.5,188.5 749,190 750,191"/></defs>
<use href="#u10" stroke="#7ad151" stroke-width="8.0" stroke-linejoin="round" opacity="0.35"/>
<use href="#l10" stroke="#9cd83c" stroke-width="10.0" stroke-linejoin="round" opacity="0.45"/>
<rect x="411" y="48.0" width="323" height="72.0" fill="url(#spG)" opacity="0.40"/>
<rect x="411" y="150.0" width="323" height="60.0" fill="url(#spY)" opacity="0.35"/>
<polygon points="395,109.7 396.5,112.3 398,114.5 399.5,112.2 401,109.8 402.5,107.5 404,105.2 405.5,102.9 407,100.6 408.5,98.3 410,96.1 411.5,93.9 413,91.8 414.5,89.6 416,87.6 417.5,85.5 419,83.6 420.5,81.7 422,79.8 423.5,78 425,76.3 426.5,74.6 428,73 429.5,71.5 431,70.1 432.5,68.7 434,67.5 435.5,66.3 437,65.2 438.5,64.2 440,63.3 441.5,62.4 443,61.7 444.5,61.1 446,60.5 447.5,60.1 449,59.7 450.5,59.5 452,59.3 453.5,59.3 455,59.4 456.5,59.6 458,59.9 459.5,60.3 461,60.8 462.5,61.5 464,62.3 465.5,63.2 467,64.2 468.5,65.3 470,66.6 471.5,67.9 473,69.3 474.5,70.9 476,72.5 477.5,74.2 479,76.1 480.5,78 482,79.9 483.5,82 485,84.1 486.5,86.3 488,88.6 489.5,90.9 491,93.3 492.5,95.7 494,98.2 495.5,100.7 497,103.2 498.5,105.7 500,108.3 501.5,110.9 503,113.5 504.5,113.4 506,111.1 507.5,108.8 509,106.4 510.5,104.1 512,101.8 513.5,99.5 515,97.3 516.5,95.1 518,92.9 519.5,90.8 521,88.7 522.5,86.6 524,84.6 525.5,82.7 527,80.8 528.5,79 530,77.2 531.5,75.5 533,73.9 534.5,72.3 536,70.8 537.5,69.4 539,68.1 540.5,66.9 542,65.8 543.5,64.7 545,63.7 546.5,62.9 548,62.1 549.5,61.4 551,60.8 552.5,60.3 554,59.9 555.5,59.6 557,59.4 558.5,59.3 560,59.3 561.5,59.4 563,59.7 564.5,60 566,60.5 567.5,61.1 569,61.9 570.5,62.7 572,63.6 573.5,64.7 575,65.9 576.5,67.2 578,68.5 579.5,70 581,71.6 582.5,73.3 584,75.1 585.5,76.9 587,78.9 588.5,80.9 590,83 591.5,85.1 593,87.4 594.5,89.7 596,92 597.5,94.4 599,96.8 600.5,99.3 602,101.8 603.5,104.4 605,106.9 606.5,109.5 608,112.1 609.5,114.7 611,112.4 612.5,110 614,107.7 615.5,105.3 617,103 618.5,100.8 620,98.5 621.5,96.3 623,94.1 624.5,91.9 626,89.8 627.5,87.7 629,85.7 630.5,83.7 632,81.8 633.5,79.9 635,78.1 636.5,76.4 638,74.7 639.5,73.1 641,71.6 642.5,70.2 644,68.8 645.5,67.5 647,66.4 648.5,65.3 650,64.2 651.5,63.3 653,62.5 654.5,61.7 656,61.1 657.5,60.6 659,60.1 660.5,59.8 662,59.5 663.5,59.4 665,59.3 666.5,59.4 668,59.5 669.5,59.8 671,60.3 672.5,60.8 674,61.5 675.5,62.2 677,63.1 678.5,64.1 680,65.2 681.5,66.5 683,67.8 684.5,69.2 686,70.8 687.5,72.4 689,74.1 690.5,75.9 692,77.8 693.5,79.8 695,81.9 696.5,84 698,86.2 699.5,88.4 701,90.8 702.5,93.1 704,95.5 705.5,98 707,100.5 708.5,103 710,105.6 711.5,108.1 713,110.7 714.5,113.3 716,113.6 717.5,111.3 719,108.9 720.5,106.6 722,104.3 723.5,102 725,99.7 726.5,97.4 728,95.2 729.5,93 731,90.9 732.5,88.8 734,86.7 735.5,84.7 737,82.8 738.5,80.9 740,79.1 741.5,77.3 743,75.6 744.5,74 746,72.4 747.5,70.9 749,69.5 750,68.7 750,191 749,190 747.5,188.5 746,186.8 744.5,185.1 743,183.3 741.5,181.3 740,179.3 738.5,177.3 737,175.1 735.5,172.9 734,170.6 732.5,168.3 731,165.9 729.5,163.4 728,161 726.5,158.4 725,155.9 723.5,153.3 722,150.7 720.5,148.1 719,145.5 717.5,144.5 716,146.9 714.5,149.4 713,151.8 711.5,154.2 710,156.5 708.5,158.9 707,161.2 705.5,163.5 704,165.8 702.5,168 701,170.2 699.5,172.3 698,174.3 696.5,176.3 695,178.3 693.5,180.2 692,182 690.5,183.7 689,185.4 687.5,187 686,188.5 684.5,189.9 683,191.3 681.5,192.5 680,193.7 678.5,194.8 677,195.7 675.5,196.6 674,197.4 672.5,198.1 671,198.7 669.5,199.1 668,199.5 666.5,199.8 665,199.9 663.5,200 662,199.9 660.5,199.8 659,199.5 657.5,199.1 656,198.5 654.5,197.8 653,197.1 651.5,196.2 650,195.2 648.5,194 647,192.8 645.5,191.5 644,190 642.5,188.5 641,186.8 639.5,185.1 638,183.3 636.5,181.3 635,179.3 633.5,177.3 632,175.1 630.5,172.9 629,170.6 627.5,168.3 626,165.9 624.5,163.4 623,161 621.5,158.4 620,155.9 618.5,153.3 617,150.7 615.5,148.1 614,145.5 612.5,144.5 611,146.9 609.5,149.4 608,151.8 606.5,154.2 605,156.5 603.5,158.9 602,161.2 600.5,163.5 599,165.8 597.5,168 596,170.2 594.5,172.3 593,174.3 591.5,176.3 590,178.3 588.5,180.2 587,182 585.5,183.7 584,185.4 582.5,187 581,188.5 579.5,189.9 578,191.3 576.5,192.5 575,193.7 573.5,194.8 572,195.7 570.5,196.6 569,197.4 567.5,198.1 566,198.7 564.5,199.1 563,199.5 561.5,199.8 560,199.9 558.5,200 557,199.9 555.5,199.8 554,199.5 552.5,199.1 551,198.5 549.5,197.8 548,197.1 546.5,196.2 545,195.2 543.5,194 542,192.8 540.5,191.5 539,190 537.5,188.5 536,186.8 534.5,185.1 533,183.3 531.5,181.3 530,179.3 528.5,177.3 527,175.1 525.5,172.9 524,170.6 522.5,168.3 521,165.9 519.5,163.4 518,161 516.5,158.4 515,155.9 513.5,153.3 512,150.7 510.5,148.1 509,145.5 507.5,144.5 506,146.9 504.5,149.4 503,151.8 501.5,154.2 500,156.5 498.5,158.9 497,161.2 495.5,163.5 494,165.8 492.5,168 491,170.2 489.5,172.3 488,174.3 486.5,176.3 485,178.3 483.5,180.2 482,182 480.5,183.7 479,185.4 477.5,187 476,188.5 474.5,189.9 473,191.3 471.5,192.5 470,193.7 468.5,194.8 467,195.7 465.5,196.6 464,197.4 462.5,198.1 461,198.7 459.5,199.1 458,199.5 456.5,199.8 455,199.9 453.5,200 452,199.9 450.5,199.8 449,199.5 447.5,199.1 446,198.5 444.5,197.8 443,197.1 441.5,196.2 440,195.2 438.5,194 437,192.8 435.5,191.5 434,190 432.5,188.5 431,186.8 429.5,185.1 428,183.3 426.5,181.3 425,179.3 423.5,177.3 422,175.1 420.5,172.9 419,170.6 417.5,168.3 416,165.9 414.5,163.4 413,161 411.5,158.4 410,155.9 408.5,153.3 407,150.7 405.5,148.1 404,145.5 402.5,144.5 401,146.9 399.5,149.4 398,151.8 396.5,154.2 395,156.5" fill="#440e66"/>
<use href="#u10" stroke="#ef7d26" stroke-width="2.7" stroke-linejoin="round"/>
<use href="#l10" stroke="#ef7d26" stroke-width="2.7" stroke-linejoin="round"/>
</g>
<rect x="410.0" y="47.0" width="325.0" height="164.0" fill="none" stroke="#000" stroke-width="2"/>
<g clip-path="url(#c11)">
<rect x="411" y="217" width="323" height="162" fill="url(#g11)"/>
<defs><polyline id="u11" fill="none" points="395,271.2 396.5,269.2 398,267.2 399.5,265.3 401,263.4 402.5,261.5 404,259.7 405.5,257.9 407,256.2 408.5,254.5 410,252.8 411.5,251.2 413,249.7 414.5,248.2 416,246.8 417.5,245.4 419,244.1 420.5,242.9 422,241.7 423.5,240.7 425,239.6 426.5,238.7 428,237.9 429.5,237.1 431,236.4 432.5,235.8 434,235.3 435.5,234.9 437,234.5 438.5,234.3 440,234.1 441.5,234 443,234 444.5,234.1 446,234.3 447.5,234.6 449,235.1 450.5,235.6 452,236.2 453.5,236.9 455,237.7 456.5,238.6 458,239.6 459.5,240.7 461,241.8 462.5,243.1 464,244.4 465.5,245.9 467,247.4 468.5,248.9 470,250.6 471.5,252.3 473,254.1 474.5,255.9 476,257.8 477.5,259.7 479,261.7 480.5,263.7 482,265.8 483.5,267.9 485,270 486.5,272.2 488,274.4 489.5,276.6 491,278.8 492.5,281 494,279.8 495.5,277.7 497,275.7 498.5,273.7 500,271.7 501.5,269.7 503,267.7 504.5,265.8 506,263.9 507.5,262 509,260.2 510.5,258.4 512,256.6 513.5,254.9 515,253.2 516.5,251.6 518,250.1 519.5,248.6 521,247.1 522.5,245.8 524,244.4 525.5,243.2 527,242 528.5,240.9 530,239.9 531.5,239 533,238.1 534.5,237.3 536,236.6 537.5,236 539,235.4 540.5,235 542,234.6 543.5,234.3 545,234.1 546.5,234 548,234 549.5,234.1 551,234.3 552.5,234.5 554,234.9 555.5,235.4 557,236 558.5,236.7 560,237.5 561.5,238.3 563,239.3 564.5,240.4 566,241.5 567.5,242.8 569,244.1 570.5,245.5 572,247 573.5,248.5 575,250.1 576.5,251.8 578,253.6 579.5,255.4 581,257.3 582.5,259.2 584,261.2 585.5,263.2 587,265.2 588.5,267.3 590,269.5 591.5,271.6 593,273.8 594.5,276 596,278.2 597.5,280.4 599,280.3 600.5,278.3 602,276.2 603.5,274.2 605,272.2 606.5,270.2 608,268.3 609.5,266.3 611,264.4 612.5,262.5 614,260.7 615.5,258.8 617,257.1 618.5,255.4 620,253.7 621.5,252 623,250.5 624.5,249 626,247.5 627.5,246.1 629,244.8 630.5,243.5 632,242.3 633.5,241.2 635,240.2 636.5,239.2 638,238.3 639.5,237.5 641,236.8 642.5,236.1 644,235.6 645.5,235.1 647,234.7 648.5,234.4 650,234.2 651.5,234 653,234 654.5,234.1 656,234.2 657.5,234.5 659,234.8 660.5,235.3 662,235.8 663.5,236.5 665,237.2 666.5,238.1 668,239 669.5,240.1 671,241.2 672.5,242.4 674,243.7 675.5,245.1 677,246.6 678.5,248.1 680,249.7 681.5,251.4 683,253.1 684.5,254.9 686,256.8 687.5,258.7 689,260.6 690.5,262.6 692,264.7 693.5,266.8 695,268.9 696.5,271 698,273.2 699.5,275.4 701,277.6 702.5,279.8 704,280.9 705.5,278.8 707,276.8 708.5,274.8 710,272.8 711.5,270.8 713,268.8 714.5,266.8 716,264.9 717.5,263 719,261.2 720.5,259.3 722,257.5 723.5,255.8 725,254.1 726.5,252.5 728,250.9 729.5,249.4 731,247.9 732.5,246.5 734,245.1 735.5,243.9 737,242.6 738.5,241.5 740,240.4 741.5,239.5 743,238.5 744.5,237.7 746,237 747.5,236.3 749,235.7 750,235.4"/><polyline id="l11" fill="none" points="395,317.6 396.5,315.8 398,313.9 399.5,314.2 401,316.5 402.5,318.8 404,321.1 405.5,323.3 407,325.5 408.5,327.7 410,329.9 411.5,332 413,334.1 414.5,336.1 416,338 417.5,339.9 419,341.7 420.5,343.5 422,345.2 423.5,346.8 425,348.3 426.5,349.7 428,351.1 429.5,352.3 431,353.4 432.5,354.5 434,355.4 435.5,356.3 437,357 438.5,357.6 440,358.1 441.5,358.5 443,358.8 444.5,358.9 446,359 447.5,359 449,358.8 450.5,358.6 452,358.4 453.5,358 455,357.6 456.5,357.1 458,356.6 459.5,355.9 461,355.2 462.5,354.4 464,353.6 465.5,352.6 467,351.7 468.5,350.6 470,349.5 471.5,348.3 473,347.1 474.5,345.8 476,344.5 477.5,343.1 479,341.6 480.5,340.1 482,338.6 483.5,337 485,335.4 486.5,333.7 488,332.1 489.5,330.3 491,328.6 492.5,326.8 494,325 495.5,323.2 497,321.3 498.5,319.5 500,317.6 501.5,315.8 503,313.9 504.5,314.2 506,316.5 507.5,318.8 509,321.1 510.5,323.3 512,325.5 513.5,327.7 515,329.9 516.5,332 518,334.1 519.5,336.1 521,338 522.5,339.9 524,341.7 525.5,343.5 527,345.2 528.5,346.8 530,348.3 531.5,349.7 533,351.1 534.5,352.3 536,353.4 537.5,354.5 539,355.4 540.5,356.3 542,357 543.5,357.6 545,358.1 546.5,358.5 548,358.8 549.5,358.9 551,359 552.5,359 554,358.8 555.5,358.6 557,358.4 558.5,358 560,357.6 561.5,357.1 563,356.6 564.5,355.9 566,355.2 567.5,354.4 569,353.6 570.5,352.6 572,351.7 573.5,350.6 575,349.5 576.5,348.3 578,347.1 579.5,345.8 581,344.5 582.5,343.1 584,341.6 585.5,340.1 587,338.6 588.5,337 590,335.4 591.5,333.7 593,332.1 594.5,330.3 596,328.6 597.5,326.8 599,325 600.5,323.2 602,321.3 603.5,319.5 605,317.6 606.5,315.8 608,313.9 609.5,314.2 611,316.5 612.5,318.8 614,321.1 615.5,323.3 617,325.5 618.5,327.7 620,329.9 621.5,332 623,334.1 624.5,336.1 626,338 627.5,339.9 629,341.7 630.5,343.5 632,345.2 633.5,346.8 635,348.3 636.5,349.7 638,351.1 639.5,352.3 641,353.4 642.5,354.5 644,355.4 645.5,356.3 647,357 648.5,357.6 650,358.1 651.5,358.5 653,358.8 654.5,358.9 656,359 657.5,359 659,358.8 660.5,358.6 662,358.4 663.5,358 665,357.6 666.5,357.1 668,356.6 669.5,355.9 671,355.2 672.5,354.4 674,353.6 675.5,352.6 677,351.7 678.5,350.6 680,349.5 681.5,348.3 683,347.1 684.5,345.8 686,344.5 687.5,343.1 689,341.6 690.5,340.1 692,338.6 693.5,337 695,335.4 696.5,333.7 698,332.1 699.5,330.3 701,328.6 702.5,326.8 704,325 705.5,323.2 707,321.3 708.5,319.5 710,317.6 711.5,315.8 713,313.9 714.5,314.2 716,316.5 717.5,318.8 719,321.1 720.5,323.3 722,325.5 723.5,327.7 725,329.9 726.5,332 728,334.1 729.5,336.1 731,338 732.5,339.9 734,341.7 735.5,343.5 737,345.2 738.5,346.8 740,348.3 741.5,349.7 743,351.1 744.5,352.3 746,353.4 747.5,354.5 749,355.4 750,356"/></defs>
<use href="#u11" stroke="#9cd83c" stroke-width="8.0" stroke-linejoin="round" opacity="0.50"/>
<use href="#l11" stroke="#b0dc2f" stroke-width="12.0" stroke-linejoin="round" opacity="0.60"/>
<rect x="411" y="217.0" width="323" height="63.0" fill="url(#spG)" opacity="0.45"/>
<rect x="411" y="330.0" width="323" height="49.0" fill="url(#spY)" opacity="0.45"/>
<polygon points="395,271.2 396.5,269.2 398,267.2 399.5,265.3 401,263.4 402.5,261.5 404,259.7 405.5,257.9 407,256.2 408.5,254.5 410,252.8 411.5,251.2 413,249.7 414.5,248.2 416,246.8 417.5,245.4 419,244.1 420.5,242.9 422,241.7 423.5,240.7 425,239.6 426.5,238.7 428,237.9 429.5,237.1 431,236.4 432.5,235.8 434,235.3 435.5,234.9 437,234.5 438.5,234.3 440,234.1 441.5,234 443,234 444.5,234.1 446,234.3 447.5,234.6 449,235.1 450.5,235.6 452,236.2 453.5,236.9 455,237.7 456.5,238.6 458,239.6 459.5,240.7 461,241.8 462.5,243.1 464,244.4 465.5,245.9 467,247.4 468.5,248.9 470,250.6 471.5,252.3 473,254.1 474.5,255.9 476,257.8 477.5,259.7 479,261.7 480.5,263.7 482,265.8 483.5,267.9 485,270 486.5,272.2 488,274.4 489.5,276.6 491,278.8 492.5,281 494,279.8 495.5,277.7 497,275.7 498.5,273.7 500,271.7 501.5,269.7 503,267.7 504.5,265.8 506,263.9 507.5,262 509,260.2 510.5,258.4 512,256.6 513.5,254.9 515,253.2 516.5,251.6 518,250.1 519.5,248.6 521,247.1 522.5,245.8 524,244.4 525.5,243.2 527,242 528.5,240.9 530,239.9 531.5,239 533,238.1 534.5,237.3 536,236.6 537.5,236 539,235.4 540.5,235 542,234.6 543.5,234.3 545,234.1 546.5,234 548,234 549.5,234.1 551,234.3 552.5,234.5 554,234.9 555.5,235.4 557,236 558.5,236.7 560,237.5 561.5,238.3 563,239.3 564.5,240.4 566,241.5 567.5,242.8 569,244.1 570.5,245.5 572,247 573.5,248.5 575,250.1 576.5,251.8 578,253.6 579.5,255.4 581,257.3 582.5,259.2 584,261.2 585.5,263.2 587,265.2 588.5,267.3 590,269.5 591.5,271.6 593,273.8 594.5,276 596,278.2 597.5,280.4 599,280.3 600.5,278.3 602,276.2 603.5,274.2 605,272.2 606.5,270.2 608,268.3 609.5,266.3 611,264.4 612.5,262.5 614,260.7 615.5,258.8 617,257.1 618.5,255.4 620,253.7 621.5,252 623,250.5 624.5,249 626,247.5 627.5,246.1 629,244.8 630.5,243.5 632,242.3 633.5,241.2 635,240.2 636.5,239.2 638,238.3 639.5,237.5 641,236.8 642.5,236.1 644,235.6 645.5,235.1 647,234.7 648.5,234.4 650,234.2 651.5,234 653,234 654.5,234.1 656,234.2 657.5,234.5 659,234.8 660.5,235.3 662,235.8 663.5,236.5 665,237.2 666.5,238.1 668,239 669.5,240.1 671,241.2 672.5,242.4 674,243.7 675.5,245.1 677,246.6 678.5,248.1 680,249.7 681.5,251.4 683,253.1 684.5,254.9 686,256.8 687.5,258.7 689,260.6 690.5,262.6 692,264.7 693.5,266.8 695,268.9 696.5,271 698,273.2 699.5,275.4 701,277.6 702.5,279.8 704,280.9 705.5,278.8 707,276.8 708.5,274.8 710,272.8 711.5,270.8 713,268.8 714.5,266.8 716,264.9 717.5,263 719,261.2 720.5,259.3 722,257.5 723.5,255.8 725,254.1 726.5,252.5 728,250.9 729.5,249.4 731,247.9 732.5,246.5 734,245.1 735.5,243.9 737,242.6 738.5,241.5 740,240.4 741.5,239.5 743,238.5 744.5,237.7 746,237 747.5,236.3 749,235.7 750,235.4 750,356 749,355.4 747.5,354.5 746,353.4 744.5,352.3 743,351.1 741.5,349.7 740,348.3 738.5,346.8 737,345.2 735.5,343.5 734,341.7 732.5,339.9 731,338 729.5,336.1 728,334.1 726.5,332 725,329.9 723.5,327.7 722,325.5 720.5,323.3 719,321.1 717.5,318.8 716,316.5 714.5,314.2 713,313.9 711.5,315.8 710,317.6 708.5,319.5 707,321.3 705.5,323.2 704,325 702.5,326.8 701,328.6 699.5,330.3 698,332.1 696.5,333.7 695,335.4 693.5,337 692,338.6 690.5,340.1 689,341.6 687.5,343.1 686,344.5 684.5,345.8 683,347.1 681.5,348.3 680,349.5 678.5,350.6 677,351.7 675.5,352.6 674,353.6 672.5,354.4 671,355.2 669.5,355.9 668,356.6 666.5,357.1 665,357.6 663.5,358 662,358.4 660.5,358.6 659,358.8 657.5,359 656,359 654.5,358.9 653,358.8 651.5,358.5 650,358.1 648.5,357.6 647,357 645.5,356.3 644,355.4 642.5,354.5 641,353.4 639.5,352.3 638,351.1 636.5,349.7 635,348.3 633.5,346.8 632,345.2 630.5,343.5 629,341.7 627.5,339.9 626,338 624.5,336.1 623,334.1 621.5,332 620,329.9 618.5,327.7 617,325.5 615.5,323.3 614,321.1 612.5,318.8 611,316.5 609.5,314.2 608,313.9 606.5,315.8 605,317.6 603.5,319.5 602,321.3 600.5,323.2 599,325 597.5,326.8 596,328.6 594.5,330.3 593,332.1 591.5,333.7 590,335.4 588.5,337 587,338.6 585.5,340.1 584,341.6 582.5,343.1 581,344.5 579.5,345.8 578,347.1 576.5,348.3 575,349.5 573.5,350.6 572,351.7 570.5,352.6 569,353.6 567.5,354.4 566,355.2 564.5,355.9 563,356.6 561.5,357.1 560,357.6 558.5,358 557,358.4 555.5,358.6 554,358.8 552.5,359 551,359 549.5,358.9 548,358.8 546.5,358.5 545,358.1 543.5,357.6 542,357 540.5,356.3 539,355.4 537.5,354.5 536,353.4 534.5,352.3 533,351.1 531.5,349.7 530,348.3 528.5,346.8 527,345.2 525.5,343.5 524,341.7 522.5,339.9 521,338 519.5,336.1 518,334.1 516.5,332 515,329.9 513.5,327.7 512,325.5 510.5,323.3 509,321.1 507.5,318.8 506,316.5 504.5,314.2 503,313.9 501.5,315.8 500,317.6 498.5,319.5 497,321.3 495.5,323.2 494,325 492.5,326.8 491,328.6 489.5,330.3 488,332.1 486.5,333.7 485,335.4 483.5,337 482,338.6 480.5,340.1 479,341.6 477.5,343.1 476,344.5 474.5,345.8 473,347.1 471.5,348.3 470,349.5 468.5,350.6 467,351.7 465.5,352.6 464,353.6 462.5,354.4 461,355.2 459.5,355.9 458,356.6 456.5,357.1 455,357.6 453.5,358 452,358.4 450.5,358.6 449,358.8 447.5,359 446,359 444.5,358.9 443,358.8 441.5,358.5 440,358.1 438.5,357.6 437,357 435.5,356.3 434,355.4 432.5,354.5 431,353.4 429.5,352.3 428,351.1 426.5,349.7 425,348.3 423.5,346.8 422,345.2 420.5,343.5 419,341.7 417.5,339.9 416,338 414.5,336.1 413,334.1 411.5,332 410,329.9 408.5,327.7 407,325.5 405.5,323.3 404,321.1 402.5,318.8 401,316.5 399.5,314.2 398,313.9 396.5,315.8 395,317.6" fill="#440e66"/>
<use href="#u11" stroke="#ef7d26" stroke-width="2.7" stroke-linejoin="round"/>
<use href="#l11" stroke="#ef7d26" stroke-width="2.7" stroke-linejoin="round"/>
</g>
<rect x="410.0" y="216.0" width="325.0" height="164.0" fill="none" stroke="#000" stroke-width="2"/>
<g clip-path="url(#c12)">
<rect x="411" y="383" width="323" height="163" fill="url(#g12)"/>
<defs><polyline id="u12" fill="none" points="395,432.5 396.5,431.4 398,430.3 399.5,429.1 401,428 402.5,426.9 404,425.7 405.5,424.6 407,423.5 408.5,422.4 410,421.3 411.5,420.3 413,419.3 414.5,418.3 416,417.3 417.5,416.4 419,415.6 420.5,414.8 422,414 423.5,413.3 425,412.6 426.5,412 428,411.5 429.5,411 431,410.7 432.5,410.3 434,410.1 435.5,409.9 437,409.7 438.5,409.7 440,409.8 441.5,410 443,410.4 444.5,411 446,411.7 447.5,412.6 449,413.7 450.5,414.8 452,416.2 453.5,417.6 455,419.1 456.5,420.7 458,422.3 459.5,424 461,425.8 462.5,427.6 464,429.3 465.5,431.1 467,432.8 468.5,434.5 470,436.1 471.5,437.7 473,439.1 474.5,440.5 476,441.8 477.5,442.9 479,444 480.5,444.4 482,443.8 483.5,443.1 485,442.4 486.5,441.6 488,440.8 489.5,440 491,439.1 492.5,438.2 494,437.2 495.5,436.2 497,435.2 498.5,434.1 500,433.1 501.5,432 503,430.8 504.5,429.7 506,428.6 507.5,427.5 509,426.3 510.5,425.2 512,424.1 513.5,423 515,421.9 516.5,420.9 518,419.8 519.5,418.8 521,417.8 522.5,416.9 524,416 525.5,415.2 527,414.4 528.5,413.7 530,413 531.5,412.4 533,411.8 534.5,411.3 536,410.9 537.5,410.5 539,410.2 540.5,410 542,409.8 543.5,409.7 545,409.7 546.5,409.9 548,410.2 549.5,410.7 551,411.3 552.5,412.1 554,413.1 555.5,414.2 557,415.4 558.5,416.8 560,418.3 561.5,419.8 563,421.4 564.5,423.1 566,424.9 567.5,426.6 569,428.4 570.5,430.2 572,431.9 573.5,433.6 575,435.3 576.5,436.8 578,438.4 579.5,439.8 581,441.1 582.5,442.3 584,443.4 585.5,444.4 587,444.1 588.5,443.5 590,442.8 591.5,442.1 593,441.3 594.5,440.5 596,439.6 597.5,438.7 599,437.7 600.5,436.7 602,435.7 603.5,434.7 605,433.6 606.5,432.5 608,431.4 609.5,430.3 611,429.2 612.5,428.1 614,426.9 615.5,425.8 617,424.7 618.5,423.6 620,422.5 621.5,421.4 623,420.4 624.5,419.3 626,418.4 627.5,417.4 629,416.5 630.5,415.6 632,414.8 633.5,414 635,413.3 636.5,412.7 638,412.1 639.5,411.5 641,411.1 642.5,410.7 644,410.3 645.5,410.1 647,409.9 648.5,409.8 650,409.7 651.5,409.8 653,410 654.5,410.4 656,410.9 657.5,411.7 659,412.6 660.5,413.6 662,414.8 663.5,416.1 665,417.5 666.5,419 668,420.6 669.5,422.2 671,423.9 672.5,425.7 674,427.4 675.5,429.2 677,431 678.5,432.7 680,434.4 681.5,436 683,437.6 684.5,439 686,440.4 687.5,441.7 689,442.9 690.5,443.9 692,444.4 693.5,443.8 695,443.2 696.5,442.5 698,441.7 699.5,440.9 701,440.1 702.5,439.2 704,438.2 705.5,437.3 707,436.3 708.5,435.3 710,434.2 711.5,433.1 713,432 714.5,430.9 716,429.8 717.5,428.7 719,427.5 720.5,426.4 722,425.3 723.5,424.2 725,423.1 726.5,422 728,420.9 729.5,419.9 731,418.9 732.5,417.9 734,417 735.5,416.1 737,415.2 738.5,414.5 740,413.7 741.5,413 743,412.4 744.5,411.8 746,411.3 747.5,410.9 749,410.5 750,410.3"/><polyline id="l12" fill="none" points="395,489.3 396.5,488 398,486.7 399.5,485.4 401,485 402.5,486.9 404,488.8 405.5,490.7 407,492.6 408.5,494.5 410,496.3 411.5,498.1 413,499.8 414.5,501.5 416,503.1 417.5,504.7 419,506.2 420.5,507.6 422,509 423.5,510.3 425,511.5 426.5,512.6 428,513.7 429.5,514.6 431,515.4 432.5,516.2 434,516.8 435.5,517.4 437,517.8 438.5,518.1 440,518.4 441.5,518.5 443,518.5 444.5,518.5 446,518.4 447.5,518.2 449,518 450.5,517.8 452,517.5 453.5,517.2 455,516.8 456.5,516.4 458,515.9 459.5,515.4 461,514.9 462.5,514.3 464,513.6 465.5,512.9 467,512.2 468.5,511.5 470,510.7 471.5,509.8 473,508.9 474.5,508 476,507.1 477.5,506.1 479,505.1 480.5,504.1 482,503 483.5,502 485,500.8 486.5,499.7 488,498.6 489.5,497.4 491,496.2 492.5,495 494,493.8 495.5,492.5 497,491.3 498.5,490 500,488.8 501.5,487.5 503,486.2 504.5,484.9 506,485.8 507.5,487.7 509,489.6 510.5,491.5 512,493.3 513.5,495.2 515,497 516.5,498.8 518,500.5 519.5,502.1 521,503.7 522.5,505.3 524,506.8 525.5,508.2 527,509.5 528.5,510.8 530,512 531.5,513.1 533,514 534.5,514.9 536,515.8 537.5,516.5 539,517.1 540.5,517.6 542,518 543.5,518.2 545,518.4 546.5,518.5 548,518.5 549.5,518.4 551,518.3 552.5,518.1 554,517.9 555.5,517.7 557,517.4 558.5,517 560,516.6 561.5,516.2 563,515.7 564.5,515.2 566,514.6 567.5,514 569,513.3 570.5,512.7 572,511.9 573.5,511.1 575,510.3 576.5,509.5 578,508.6 579.5,507.7 581,506.7 582.5,505.7 584,504.7 585.5,503.7 587,502.6 588.5,501.5 590,500.4 591.5,499.3 593,498.1 594.5,496.9 596,495.7 597.5,494.5 599,493.3 600.5,492 602,490.8 603.5,489.5 605,488.2 606.5,487 608,485.7 609.5,484.6 611,486.5 612.5,488.5 614,490.4 615.5,492.2 617,494.1 618.5,495.9 620,497.7 621.5,499.4 623,501.1 624.5,502.8 626,504.4 627.5,505.9 629,507.4 630.5,508.7 632,510 633.5,511.3 635,512.4 636.5,513.5 638,514.4 639.5,515.3 641,516 642.5,516.7 644,517.3 645.5,517.7 647,518.1 648.5,518.3 650,518.5 651.5,518.5 653,518.5 654.5,518.4 656,518.2 657.5,518.1 659,517.8 660.5,517.6 662,517.3 663.5,516.9 665,516.5 666.5,516 668,515.5 669.5,515 671,514.4 672.5,513.7 674,513.1 675.5,512.4 677,511.6 678.5,510.8 680,510 681.5,509.1 683,508.2 684.5,507.3 686,506.3 687.5,505.3 689,504.3 690.5,503.3 692,502.2 693.5,501.1 695,499.9 696.5,498.8 698,497.6 699.5,496.4 701,495.2 702.5,494 704,492.8 705.5,491.5 707,490.3 708.5,489 710,487.7 711.5,486.5 713,485.2 714.5,485.4 716,487.3 717.5,489.2 719,491.1 720.5,493 722,494.8 723.5,496.6 725,498.4 726.5,500.1 728,501.8 729.5,503.4 731,505 732.5,506.5 734,507.9 735.5,509.3 737,510.5 738.5,511.7 740,512.8 741.5,513.9 743,514.8 744.5,515.6 746,516.3 747.5,516.9 749,517.5 750,517.8"/></defs>
<use href="#u12" stroke="#dde326" stroke-width="5.0" stroke-linejoin="round" opacity="0.80"/>
<use href="#l12" stroke="#dde326" stroke-width="7.0" stroke-linejoin="round" opacity="0.85"/>
<rect x="411" y="383.0" width="323" height="24.0" fill="url(#spT)" opacity="0.70"/>
<rect x="411" y="512.0" width="323" height="34.0" fill="url(#spT)" opacity="0.80"/>
<rect x="411" y="407.0" width="323" height="18.0" fill="url(#spY)" opacity="0.50"/>
<polygon points="395,432.5 396.5,431.4 398,430.3 399.5,429.1 401,428 402.5,426.9 404,425.7 405.5,424.6 407,423.5 408.5,422.4 410,421.3 411.5,420.3 413,419.3 414.5,418.3 416,417.3 417.5,416.4 419,415.6 420.5,414.8 422,414 423.5,413.3 425,412.6 426.5,412 428,411.5 429.5,411 431,410.7 432.5,410.3 434,410.1 435.5,409.9 437,409.7 438.5,409.7 440,409.8 441.5,410 443,410.4 444.5,411 446,411.7 447.5,412.6 449,413.7 450.5,414.8 452,416.2 453.5,417.6 455,419.1 456.5,420.7 458,422.3 459.5,424 461,425.8 462.5,427.6 464,429.3 465.5,431.1 467,432.8 468.5,434.5 470,436.1 471.5,437.7 473,439.1 474.5,440.5 476,441.8 477.5,442.9 479,444 480.5,444.4 482,443.8 483.5,443.1 485,442.4 486.5,441.6 488,440.8 489.5,440 491,439.1 492.5,438.2 494,437.2 495.5,436.2 497,435.2 498.5,434.1 500,433.1 501.5,432 503,430.8 504.5,429.7 506,428.6 507.5,427.5 509,426.3 510.5,425.2 512,424.1 513.5,423 515,421.9 516.5,420.9 518,419.8 519.5,418.8 521,417.8 522.5,416.9 524,416 525.5,415.2 527,414.4 528.5,413.7 530,413 531.5,412.4 533,411.8 534.5,411.3 536,410.9 537.5,410.5 539,410.2 540.5,410 542,409.8 543.5,409.7 545,409.7 546.5,409.9 548,410.2 549.5,410.7 551,411.3 552.5,412.1 554,413.1 555.5,414.2 557,415.4 558.5,416.8 560,418.3 561.5,419.8 563,421.4 564.5,423.1 566,424.9 567.5,426.6 569,428.4 570.5,430.2 572,431.9 573.5,433.6 575,435.3 576.5,436.8 578,438.4 579.5,439.8 581,441.1 582.5,442.3 584,443.4 585.5,444.4 587,444.1 588.5,443.5 590,442.8 591.5,442.1 593,441.3 594.5,440.5 596,439.6 597.5,438.7 599,437.7 600.5,436.7 602,435.7 603.5,434.7 605,433.6 606.5,432.5 608,431.4 609.5,430.3 611,429.2 612.5,428.1 614,426.9 615.5,425.8 617,424.7 618.5,423.6 620,422.5 621.5,421.4 623,420.4 624.5,419.3 626,418.4 627.5,417.4 629,416.5 630.5,415.6 632,414.8 633.5,414 635,413.3 636.5,412.7 638,412.1 639.5,411.5 641,411.1 642.5,410.7 644,410.3 645.5,410.1 647,409.9 648.5,409.8 650,409.7 651.5,409.8 653,410 654.5,410.4 656,410.9 657.5,411.7 659,412.6 660.5,413.6 662,414.8 663.5,416.1 665,417.5 666.5,419 668,420.6 669.5,422.2 671,423.9 672.5,425.7 674,427.4 675.5,429.2 677,431 678.5,432.7 680,434.4 681.5,436 683,437.6 684.5,439 686,440.4 687.5,441.7 689,442.9 690.5,443.9 692,444.4 693.5,443.8 695,443.2 696.5,442.5 698,441.7 699.5,440.9 701,440.1 702.5,439.2 704,438.2 705.5,437.3 707,436.3 708.5,435.3 710,434.2 711.5,433.1 713,432 714.5,430.9 716,429.8 717.5,428.7 719,427.5 720.5,426.4 722,425.3 723.5,424.2 725,423.1 726.5,422 728,420.9 729.5,419.9 731,418.9 732.5,417.9 734,417 735.5,416.1 737,415.2 738.5,414.5 740,413.7 741.5,413 743,412.4 744.5,411.8 746,411.3 747.5,410.9 749,410.5 750,410.3 750,517.8 749,517.5 747.5,516.9 746,516.3 744.5,515.6 743,514.8 741.5,513.9 740,512.8 738.5,511.7 737,510.5 735.5,509.3 734,507.9 732.5,506.5 731,505 729.5,503.4 728,501.8 726.5,500.1 725,498.4 723.5,496.6 722,494.8 720.5,493 719,491.1 717.5,489.2 716,487.3 714.5,485.4 713,485.2 711.5,486.5 710,487.7 708.5,489 707,490.3 705.5,491.5 704,492.8 702.5,494 701,495.2 699.5,496.4 698,497.6 696.5,498.8 695,499.9 693.5,501.1 692,502.2 690.5,503.3 689,504.3 687.5,505.3 686,506.3 684.5,507.3 683,508.2 681.5,509.1 680,510 678.5,510.8 677,511.6 675.5,512.4 674,513.1 672.5,513.7 671,514.4 669.5,515 668,515.5 666.5,516 665,516.5 663.5,516.9 662,517.3 660.5,517.6 659,517.8 657.5,518.1 656,518.2 654.5,518.4 653,518.5 651.5,518.5 650,518.5 648.5,518.3 647,518.1 645.5,517.7 644,517.3 642.5,516.7 641,516 639.5,515.3 638,514.4 636.5,513.5 635,512.4 633.5,511.3 632,510 630.5,508.7 629,507.4 627.5,505.9 626,504.4 624.5,502.8 623,501.1 621.5,499.4 620,497.7 618.5,495.9 617,494.1 615.5,492.2 614,490.4 612.5,488.5 611,486.5 609.5,484.6 608,485.7 606.5,487 605,488.2 603.5,489.5 602,490.8 600.5,492 599,493.3 597.5,494.5 596,495.7 594.5,496.9 593,498.1 591.5,499.3 590,500.4 588.5,501.5 587,502.6 585.5,503.7 584,504.7 582.5,505.7 581,506.7 579.5,507.7 578,508.6 576.5,509.5 575,510.3 573.5,511.1 572,511.9 570.5,512.7 569,513.3 567.5,514 566,514.6 564.5,515.2 563,515.7 561.5,516.2 560,516.6 558.5,517 557,517.4 555.5,517.7 554,517.9 552.5,518.1 551,518.3 549.5,518.4 548,518.5 546.5,518.5 545,518.4 543.5,518.2 542,518 540.5,517.6 539,517.1 537.5,516.5 536,515.8 534.5,514.9 533,514 531.5,513.1 530,512 528.5,510.8 527,509.5 525.5,508.2 524,506.8 522.5,505.3 521,503.7 519.5,502.1 518,500.5 516.5,498.8 515,497 513.5,495.2 512,493.3 510.5,491.5 509,489.6 507.5,487.7 506,485.8 504.5,484.9 503,486.2 501.5,487.5 500,488.8 498.5,490 497,491.3 495.5,492.5 494,493.8 492.5,495 491,496.2 489.5,497.4 488,498.6 486.5,499.7 485,500.8 483.5,502 482,503 480.5,504.1 479,505.1 477.5,506.1 476,507.1 474.5,508 473,508.9 471.5,509.8 470,510.7 468.5,511.5 467,512.2 465.5,512.9 464,513.6 462.5,514.3 461,514.9 459.5,515.4 458,515.9 456.5,516.4 455,516.8 453.5,517.2 452,517.5 450.5,517.8 449,518 447.5,518.2 446,518.4 444.5,518.5 443,518.5 441.5,518.5 440,518.4 438.5,518.1 437,517.8 435.5,517.4 434,516.8 432.5,516.2 431,515.4 429.5,514.6 428,513.7 426.5,512.6 425,511.5 423.5,510.3 422,509 420.5,507.6 419,506.2 417.5,504.7 416,503.1 414.5,501.5 413,499.8 411.5,498.1 410,496.3 408.5,494.5 407,492.6 405.5,490.7 404,488.8 402.5,486.9 401,485 399.5,485.4 398,486.7 396.5,488 395,489.3" fill="#440e66"/>
<use href="#u12" stroke="#ef7d26" stroke-width="2.7" stroke-linejoin="round"/>
<use href="#l12" stroke="#ef7d26" stroke-width="2.7" stroke-linejoin="round"/>
</g>
<rect x="410.0" y="382.0" width="325.0" height="165.0" fill="none" stroke="#000" stroke-width="2"/>
<g clip-path="url(#c20)">
<rect x="781" y="48" width="321" height="162" fill="url(#g20)"/>
<defs><polyline id="u20" fill="none" points="765,80.5 766.5,81.7 768,82.9 769.5,84.3 771,85.7 772.5,87.2 774,88.7 775.5,90.3 777,91.9 778.5,93.6 780,95.3 781.5,97 783,98.7 784.5,100.5 786,102.2 787.5,103.9 789,105.7 790.5,107.4 792,109 793.5,110.7 795,112.3 796.5,113.9 798,115.4 799.5,116.9 801,118.3 802.5,117.1 804,115.9 805.5,114.7 807,113.4 808.5,112.1 810,110.8 811.5,109.5 813,108.1 814.5,106.7 816,105.4 817.5,103.9 819,102.5 820.5,101.1 822,99.7 823.5,98.3 825,96.9 826.5,95.5 828,94.1 829.5,92.7 831,91.4 832.5,90 834,88.7 835.5,87.5 837,86.2 838.5,85.1 840,83.9 841.5,82.8 843,81.8 844.5,80.8 846,79.9 847.5,79 849,78.2 850.5,77.4 852,76.8 853.5,76.2 855,75.6 856.5,75.2 858,74.8 859.5,74.5 861,74.2 862.5,74.1 864,74 865.5,74 867,74.1 868.5,74.4 870,74.7 871.5,75.2 873,75.8 874.5,76.5 876,77.3 877.5,78.2 879,79.2 880.5,80.3 882,81.4 883.5,82.7 885,84 886.5,85.4 888,86.9 889.5,88.4 891,90 892.5,91.6 894,93.3 895.5,95 897,96.7 898.5,98.4 900,100.1 901.5,101.9 903,103.6 904.5,105.3 906,107 907.5,108.7 909,110.4 910.5,112 912,113.6 913.5,115.1 915,116.6 916.5,118 918,117.4 919.5,116.2 921,115 922.5,113.7 924,112.4 925.5,111.1 927,109.8 928.5,108.4 930,107 931.5,105.6 933,104.2 934.5,102.8 936,101.4 937.5,100 939,98.6 940.5,97.1 942,95.7 943.5,94.3 945,93 946.5,91.6 948,90.3 949.5,89 951,87.7 952.5,86.5 954,85.3 955.5,84.1 957,83 958.5,82 960,81 961.5,80 963,79.2 964.5,78.3 966,77.6 967.5,76.9 969,76.3 970.5,75.7 972,75.3 973.5,74.9 975,74.5 976.5,74.3 978,74.1 979.5,74 981,74 982.5,74.1 984,74.3 985.5,74.7 987,75.1 988.5,75.7 990,76.3 991.5,77.1 993,78 994.5,79 996,80 997.5,81.2 999,82.4 1000.5,83.7 1002,85.1 1003.5,86.6 1005,88.1 1006.5,89.7 1008,91.3 1009.5,92.9 1011,94.6 1012.5,96.3 1014,98.1 1015.5,99.8 1017,101.5 1018.5,103.3 1020,105 1021.5,106.7 1023,108.4 1024.5,110 1026,111.7 1027.5,113.2 1029,114.8 1030.5,116.3 1032,117.7 1033.5,117.6 1035,116.4 1036.5,115.2 1038,113.9 1039.5,112.7 1041,111.4 1042.5,110 1044,108.7 1045.5,107.3 1047,105.9 1048.5,104.5 1050,103.1 1051.5,101.7 1053,100.3 1054.5,98.8 1056,97.4 1057.5,96 1059,94.6 1060.5,93.2 1062,91.9 1063.5,90.6 1065,89.2 1066.5,88 1068,86.7 1069.5,85.5 1071,84.4 1072.5,83.3 1074,82.2 1075.5,81.2 1077,80.2 1078.5,79.3 1080,78.5 1081.5,77.7 1083,77 1084.5,76.4 1086,75.8 1087.5,75.3 1089,74.9 1090.5,74.6 1092,74.3 1093.5,74.1 1095,74 1096.5,74 1098,74.1 1099.5,74.3 1101,74.6 1102.5,75 1104,75.5 1105.5,76.2 1107,76.9 1108.5,77.8 1110,78.8 1111.5,79.8 1113,80.9 1114.5,82.2 1116,83.5 1117.5,84.9 1118,85.3"/><polyline id="l20" fill="none" points="765,183.1 766.5,182.5 768,181.8 769.5,181 771,180.1 772.5,179.1 774,178 775.5,176.9 777,175.6 778.5,174.3 780,173 781.5,171.6 783,170.1 784.5,168.6 786,167.1 787.5,165.5 789,163.9 790.5,162.2 792,160.6 793.5,158.9 795,157.3 796.5,155.6 798,154 799.5,152.3 801,150.7 802.5,149.1 804,147.6 805.5,146 807,144.5 808.5,143.1 810,141.7 811.5,140.5 813,141.7 814.5,143 816,144.4 817.5,145.8 819,147.2 820.5,148.6 822,150.1 823.5,151.5 825,153 826.5,154.5 828,156.1 829.5,157.6 831,159.1 832.5,160.7 834,162.2 835.5,163.7 837,165.2 838.5,166.6 840,168.1 841.5,169.5 843,170.9 844.5,172.2 846,173.5 847.5,174.7 849,175.9 850.5,177 852,178.1 853.5,179.1 855,180 856.5,180.8 858,181.6 859.5,182.3 861,182.9 862.5,183.4 864,183.9 865.5,184.2 867,184.5 868.5,184.6 870,184.7 871.5,184.7 873,184.5 874.5,184.3 876,184 877.5,183.5 879,183 880.5,182.3 882,181.6 883.5,180.8 885,179.8 886.5,178.8 888,177.7 889.5,176.5 891,175.3 892.5,174 894,172.6 895.5,171.2 897,169.7 898.5,168.2 900,166.6 901.5,165 903,163.4 904.5,161.8 906,160.1 907.5,158.5 909,156.8 910.5,155.2 912,153.5 913.5,151.9 915,150.3 916.5,148.7 918,147.1 919.5,145.6 921,144.1 922.5,142.7 924,141.3 925.5,140.8 927,142.1 928.5,143.4 930,144.7 931.5,146.1 933,147.5 934.5,149 936,150.4 937.5,151.9 939,153.4 940.5,155 942,156.5 943.5,158 945,159.5 946.5,161.1 948,162.6 949.5,164.1 951,165.6 952.5,167 954,168.5 955.5,169.9 957,171.2 958.5,172.5 960,173.8 961.5,175 963,176.2 964.5,177.3 966,178.3 967.5,179.3 969,180.2 970.5,181 972,181.8 973.5,182.5 975,183 976.5,183.5 978,184 979.5,184.3 981,184.5 982.5,184.6 984,184.7 985.5,184.7 987,184.5 988.5,184.2 990,183.9 991.5,183.4 993,182.8 994.5,182.1 996,181.4 997.5,180.5 999,179.6 1000.5,178.5 1002,177.4 1003.5,176.2 1005,175 1006.5,173.6 1008,172.2 1009.5,170.8 1011,169.3 1012.5,167.8 1014,166.2 1015.5,164.6 1017,163 1018.5,161.3 1020,159.7 1021.5,158 1023,156.4 1024.5,154.7 1026,153.1 1027.5,151.5 1029,149.9 1030.5,148.3 1032,146.7 1033.5,145.2 1035,143.8 1036.5,142.3 1038,140.9 1039.5,141.1 1041,142.4 1042.5,143.8 1044,145.1 1045.5,146.5 1047,147.9 1048.5,149.4 1050,150.8 1051.5,152.3 1053,153.8 1054.5,155.4 1056,156.9 1057.5,158.4 1059,160 1060.5,161.5 1062,163 1063.5,164.5 1065,166 1066.5,167.4 1068,168.8 1069.5,170.2 1071,171.6 1072.5,172.9 1074,174.2 1075.5,175.4 1077,176.5 1078.5,177.6 1080,178.6 1081.5,179.6 1083,180.4 1084.5,181.3 1086,182 1087.5,182.6 1089,183.2 1090.5,183.7 1092,184 1093.5,184.3 1095,184.6 1096.5,184.7 1098,184.7 1099.5,184.6 1101,184.4 1102.5,184.1 1104,183.7 1105.5,183.3 1107,182.7 1108.5,182 1110,181.2 1111.5,180.3 1113,179.3 1114.5,178.2 1116,177.1 1117.5,175.9 1118,175.5"/></defs>
<use href="#u20" stroke="#4fc36a" stroke-width="28.0" stroke-linejoin="round" opacity="0.60" clip-path="url(#h20up)"/>
<use href="#u20" stroke="#dde326" stroke-width="22.0" stroke-linejoin="round" opacity="0.95" clip-path="url(#h20up)"/>
<use href="#l20" stroke="#dde326" stroke-width="28.0" stroke-linejoin="round" opacity="0.90" clip-path="url(#h20lo)"/>
<polygon points="765,183.1 766.5,182.5 768,181.8 769.5,181 771,180.1 772.5,179.1 774,178 775.5,176.9 777,175.6 778.5,174.3 780,173 781.5,171.6 783,170.1 784.5,168.6 786,167.1 787.5,165.5 789,163.9 790.5,162.2 792,160.6 793.5,158.9 795,157.3 796.5,155.6 798,154 799.5,152.3 801,150.7 802.5,149.1 804,147.6 805.5,146 807,144.5 808.5,143.1 810,141.7 811.5,140.5 813,141.7 814.5,143 816,144.4 817.5,145.8 819,147.2 820.5,148.6 822,150.1 823.5,151.5 825,153 826.5,154.5 828,156.1 829.5,157.6 831,159.1 832.5,160.7 834,162.2 835.5,163.7 837,165.2 838.5,166.6 840,168.1 841.5,169.5 843,170.9 844.5,172.2 846,173.5 847.5,174.7 849,175.9 850.5,177 852,178.1 853.5,179.1 855,180 856.5,180.8 858,181.6 859.5,182.3 861,182.9 862.5,183.4 864,183.9 865.5,184.2 867,184.5 868.5,184.6 870,184.7 871.5,184.7 873,184.5 874.5,184.3 876,184 877.5,183.5 879,183 880.5,182.3 882,181.6 883.5,180.8 885,179.8 886.5,178.8 888,177.7 889.5,176.5 891,175.3 892.5,174 894,172.6 895.5,171.2 897,169.7 898.5,168.2 900,166.6 901.5,165 903,163.4 904.5,161.8 906,160.1 907.5,158.5 909,156.8 910.5,155.2 912,153.5 913.5,151.9 915,150.3 916.5,148.7 918,147.1 919.5,145.6 921,144.1 922.5,142.7 924,141.3 925.5,140.8 927,142.1 928.5,143.4 930,144.7 931.5,146.1 933,147.5 934.5,149 936,150.4 937.5,151.9 939,153.4 940.5,155 942,156.5 943.5,158 945,159.5 946.5,161.1 948,162.6 949.5,164.1 951,165.6 952.5,167 954,168.5 955.5,169.9 957,171.2 958.5,172.5 960,173.8 961.5,175 963,176.2 964.5,177.3 966,178.3 967.5,179.3 969,180.2 970.5,181 972,181.8 973.5,182.5 975,183 976.5,183.5 978,184 979.5,184.3 981,184.5 982.5,184.6 984,184.7 985.5,184.7 987,184.5 988.5,184.2 990,183.9 991.5,183.4 993,182.8 994.5,182.1 996,181.4 997.5,180.5 999,179.6 1000.5,178.5 1002,177.4 1003.5,176.2 1005,175 1006.5,173.6 1008,172.2 1009.5,170.8 1011,169.3 1012.5,167.8 1014,166.2 1015.5,164.6 1017,163 1018.5,161.3 1020,159.7 1021.5,158 1023,156.4 1024.5,154.7 1026,153.1 1027.5,151.5 1029,149.9 1030.5,148.3 1032,146.7 1033.5,145.2 1035,143.8 1036.5,142.3 1038,140.9 1039.5,141.1 1041,142.4 1042.5,143.8 1044,145.1 1045.5,146.5 1047,147.9 1048.5,149.4 1050,150.8 1051.5,152.3 1053,153.8 1054.5,155.4 1056,156.9 1057.5,158.4 1059,160 1060.5,161.5 1062,163 1063.5,164.5 1065,166 1066.5,167.4 1068,168.8 1069.5,170.2 1071,171.6 1072.5,172.9 1074,174.2 1075.5,175.4 1077,176.5 1078.5,177.6 1080,178.6 1081.5,179.6 1083,180.4 1084.5,181.3 1086,182 1087.5,182.6 1089,183.2 1090.5,183.7 1092,184 1093.5,184.3 1095,184.6 1096.5,184.7 1098,184.7 1099.5,184.6 1101,184.4 1102.5,184.1 1104,183.7 1105.5,183.3 1107,182.7 1108.5,182 1110,181.2 1111.5,180.3 1113,179.3 1114.5,178.2 1116,177.1 1117.5,175.9 1118,175.5 1118,193 765,193" fill="#d7e226" opacity="0.85"/>
<polygon points="765,183.1 766.5,182.5 768,181.8 769.5,181 771,180.1 772.5,179.1 774,178 775.5,176.9 777,175.6 778.5,174.3 780,173 781.5,171.6 783,170.1 784.5,168.6 786,167.1 787.5,165.5 789,163.9 790.5,162.2 792,160.6 793.5,158.9 795,157.3 796.5,155.6 798,154 799.5,152.3 801,150.7 802.5,149.1 804,147.6 805.5,146 807,144.5 808.5,143.1 810,141.7 811.5,140.5 813,141.7 814.5,143 816,144.4 817.5,145.8 819,147.2 820.5,148.6 822,150.1 823.5,151.5 825,153 826.5,154.5 828,156.1 829.5,157.6 831,159.1 832.5,160.7 834,162.2 835.5,163.7 837,165.2 838.5,166.6 840,168.1 841.5,169.5 843,170.9 844.5,172.2 846,173.5 847.5,174.7 849,175.9 850.5,177 852,178.1 853.5,179.1 855,180 856.5,180.8 858,181.6 859.5,182.3 861,182.9 862.5,183.4 864,183.9 865.5,184.2 867,184.5 868.5,184.6 870,184.7 871.5,184.7 873,184.5 874.5,184.3 876,184 877.5,183.5 879,183 880.5,182.3 882,181.6 883.5,180.8 885,179.8 886.5,178.8 888,177.7 889.5,176.5 891,175.3 892.5,174 894,172.6 895.5,171.2 897,169.7 898.5,168.2 900,166.6 901.5,165 903,163.4 904.5,161.8 906,160.1 907.5,158.5 909,156.8 910.5,155.2 912,153.5 913.5,151.9 915,150.3 916.5,148.7 918,147.1 919.5,145.6 921,144.1 922.5,142.7 924,141.3 925.5,140.8 927,142.1 928.5,143.4 930,144.7 931.5,146.1 933,147.5 934.5,149 936,150.4 937.5,151.9 939,153.4 940.5,155 942,156.5 943.5,158 945,159.5 946.5,161.1 948,162.6 949.5,164.1 951,165.6 952.5,167 954,168.5 955.5,169.9 957,171.2 958.5,172.5 960,173.8 961.5,175 963,176.2 964.5,177.3 966,178.3 967.5,179.3 969,180.2 970.5,181 972,181.8 973.5,182.5 975,183 976.5,183.5 978,184 979.5,184.3 981,184.5 982.5,184.6 984,184.7 985.5,184.7 987,184.5 988.5,184.2 990,183.9 991.5,183.4 993,182.8 994.5,182.1 996,181.4 997.5,180.5 999,179.6 1000.5,178.5 1002,177.4 1003.5,176.2 1005,175 1006.5,173.6 1008,172.2 1009.5,170.8 1011,169.3 1012.5,167.8 1014,166.2 1015.5,164.6 1017,163 1018.5,161.3 1020,159.7 1021.5,158 1023,156.4 1024.5,154.7 1026,153.1 1027.5,151.5 1029,149.9 1030.5,148.3 1032,146.7 1033.5,145.2 1035,143.8 1036.5,142.3 1038,140.9 1039.5,141.1 1041,142.4 1042.5,143.8 1044,145.1 1045.5,146.5 1047,147.9 1048.5,149.4 1050,150.8 1051.5,152.3 1053,153.8 1054.5,155.4 1056,156.9 1057.5,158.4 1059,160 1060.5,161.5 1062,163 1063.5,164.5 1065,166 1066.5,167.4 1068,168.8 1069.5,170.2 1071,171.6 1072.5,172.9 1074,174.2 1075.5,175.4 1077,176.5 1078.5,177.6 1080,178.6 1081.5,179.6 1083,180.4 1084.5,181.3 1086,182 1087.5,182.6 1089,183.2 1090.5,183.7 1092,184 1093.5,184.3 1095,184.6 1096.5,184.7 1098,184.7 1099.5,184.6 1101,184.4 1102.5,184.1 1104,183.7 1105.5,183.3 1107,182.7 1108.5,182 1110,181.2 1111.5,180.3 1113,179.3 1114.5,178.2 1116,177.1 1117.5,175.9 1118,175.5 1118,193 765,193" fill="url(#spT)" opacity="0.90"/>
<use href="#u20" stroke="url(#spT)" stroke-width="22.0" opacity="0.80" clip-path="url(#h20up)"/>
<rect x="781" y="48.0" width="321" height="12.0" fill="url(#spG)" opacity="0.60"/>
<polygon points="810,152 814.5,152 816.8,193 807.8,193" fill="#219a89" opacity="0.8"/>
<polygon points="922.6,152 927.4,152 929.8,193 920.2,193" fill="#219a89" opacity="0.8"/>
<polygon points="1036.1,152 1040.9,152 1043.3,193 1033.7,193" fill="#219a89" opacity="0.8"/>
<polygon points="765,80.5 766.5,81.7 768,82.9 769.5,84.3 771,85.7 772.5,87.2 774,88.7 775.5,90.3 777,91.9 778.5,93.6 780,95.3 781.5,97 783,98.7 784.5,100.5 786,102.2 787.5,103.9 789,105.7 790.5,107.4 792,109 793.5,110.7 795,112.3 796.5,113.9 798,115.4 799.5,116.9 801,118.3 802.5,117.1 804,115.9 805.5,114.7 807,113.4 808.5,113.9 810,115.4 811.5,116.9 813,118.3 814.5,117.1 816,115.9 817.5,114.7 819,113.4 820.5,112.1 822,110.8 823.5,109.5 825,108.1 826.5,106.7 828,105.4 829.5,103.9 831,102.5 832.5,101.1 834,99.7 835.5,98.3 837,96.9 838.5,95.5 840,94.1 841.5,92.7 843,91.4 844.5,90 846,88.7 847.5,87.5 849,86.2 850.5,85.1 852,83.9 853.5,82.8 855,81.8 856.5,80.8 858,79.9 859.5,79 861,78.2 862.5,77.4 864,76.8 865.5,76.2 867,75.6 868.5,75.2 870,74.8 871.5,75.2 873,75.8 874.5,76.5 876,77.3 877.5,78.2 879,79.2 880.5,80.3 882,81.4 883.5,82.7 885,84 886.5,85.4 888,86.9 889.5,88.4 891,90 892.5,91.6 894,93.3 895.5,95 897,96.7 898.5,98.4 900,100.1 901.5,101.9 903,103.6 904.5,105.3 906,107 907.5,108.7 909,110.4 910.5,112 912,113.6 913.5,115.1 915,116.6 916.5,118 918,117.4 919.5,116.2 921,115 922.5,113.7 924,113.6 925.5,115.1 927,116.6 928.5,118 930,117.4 931.5,116.2 933,115 934.5,113.7 936,112.4 937.5,111.1 939,109.8 940.5,108.4 942,107 943.5,105.6 945,104.2 946.5,102.8 948,101.4 949.5,100 951,98.6 952.5,97.1 954,95.7 955.5,94.3 957,93 958.5,91.6 960,90.3 961.5,89 963,87.7 964.5,86.5 966,85.3 967.5,84.1 969,83 970.5,82 972,81 973.5,80 975,79.2 976.5,78.3 978,77.6 979.5,76.9 981,76.3 982.5,75.7 984,75.3 985.5,74.9 987,75.1 988.5,75.7 990,76.3 991.5,77.1 993,78 994.5,79 996,80 997.5,81.2 999,82.4 1000.5,83.7 1002,85.1 1003.5,86.6 1005,88.1 1006.5,89.7 1008,91.3 1009.5,92.9 1011,94.6 1012.5,96.3 1014,98.1 1015.5,99.8 1017,101.5 1018.5,103.3 1020,105 1021.5,106.7 1023,108.4 1024.5,110 1026,111.7 1027.5,113.2 1029,114.8 1030.5,116.3 1032,117.7 1033.5,117.6 1035,116.4 1036.5,115.2 1038,113.9 1039.5,113.2 1041,114.8 1042.5,116.3 1044,117.7 1045.5,117.6 1047,116.4 1048.5,115.2 1050,113.9 1051.5,112.7 1053,111.4 1054.5,110 1056,108.7 1057.5,107.3 1059,105.9 1060.5,104.5 1062,103.1 1063.5,101.7 1065,100.3 1066.5,98.8 1068,97.4 1069.5,96 1071,94.6 1072.5,93.2 1074,91.9 1075.5,90.6 1077,89.2 1078.5,88 1080,86.7 1081.5,85.5 1083,84.4 1084.5,83.3 1086,82.2 1087.5,81.2 1089,80.2 1090.5,79.3 1092,78.5 1093.5,77.7 1095,77 1096.5,76.4 1098,75.8 1099.5,75.3 1101,74.9 1102.5,75 1104,75.5 1105.5,76.2 1107,76.9 1108.5,77.8 1110,78.8 1111.5,79.8 1113,80.9 1114.5,82.2 1116,83.5 1117.5,84.9 1118,85.3 1118,175.5 1117.5,175.9 1116,177.1 1114.5,178.2 1113,179.3 1111.5,180.3 1110,181.2 1108.5,182 1107,182.7 1105.5,183.3 1104,183.7 1102.5,184.1 1101,184.3 1099.5,183.9 1098,183.5 1096.5,183 1095,182.4 1093.5,181.7 1092,181 1090.5,180.2 1089,179.3 1087.5,178.3 1086,177.2 1084.5,176.1 1083,175 1081.5,173.7 1080,172.5 1078.5,171.1 1077,169.8 1075.5,168.4 1074,166.9 1072.5,165.5 1071,164 1069.5,162.5 1068,161 1066.5,159.4 1065,157.9 1063.5,156.4 1062,154.9 1060.5,153.3 1059,151.8 1057.5,150.3 1056,148.9 1054.5,147.4 1053,146 1051.5,144.7 1050,143.3 1048.5,142 1047,140.7 1045.5,141.4 1044,142.8 1042.5,143.8 1041,142.4 1039.5,141.1 1038,140.9 1036.5,142.3 1035,143.8 1033.5,145.2 1032,146.7 1030.5,148.3 1029,149.9 1027.5,151.5 1026,153.1 1024.5,154.7 1023,156.4 1021.5,158 1020,159.7 1018.5,161.3 1017,163 1015.5,164.6 1014,166.2 1012.5,167.8 1011,169.3 1009.5,170.8 1008,172.2 1006.5,173.6 1005,175 1003.5,176.2 1002,177.4 1000.5,178.5 999,179.6 997.5,180.5 996,181.4 994.5,182.1 993,182.8 991.5,183.4 990,183.9 988.5,184.2 987,184.2 985.5,183.8 984,183.4 982.5,182.9 981,182.2 979.5,181.6 978,180.8 976.5,179.9 975,179 973.5,178 972,176.9 970.5,175.8 969,174.6 967.5,173.4 966,172.1 964.5,170.8 963,169.4 961.5,168 960,166.6 958.5,165.1 957,163.6 955.5,162.1 954,160.6 952.5,159 951,157.5 949.5,156 948,154.4 946.5,152.9 945,151.4 943.5,150 942,148.5 940.5,147.1 939,145.7 937.5,144.3 936,143 934.5,141.7 933,140.4 931.5,141.8 930,143.2 928.5,143.4 927,142.1 925.5,140.8 924,141.3 922.5,142.7 921,144.1 919.5,145.6 918,147.1 916.5,148.7 915,150.3 913.5,151.9 912,153.5 910.5,155.2 909,156.8 907.5,158.5 906,160.1 904.5,161.8 903,163.4 901.5,165 900,166.6 898.5,168.2 897,169.7 895.5,171.2 894,172.6 892.5,174 891,175.3 889.5,176.5 888,177.7 886.5,178.8 885,179.8 883.5,180.8 882,181.6 880.5,182.3 879,183 877.5,183.5 876,184 874.5,184.3 873,184.1 871.5,183.7 870,183.3 868.5,182.7 867,182.1 865.5,181.4 864,180.6 862.5,179.7 861,178.7 859.5,177.7 858,176.7 856.5,175.5 855,174.3 853.5,173.1 852,171.8 850.5,170.4 849,169 847.5,167.6 846,166.2 844.5,164.7 843,163.2 841.5,161.7 840,160.2 838.5,158.6 837,157.1 835.5,155.6 834,154 832.5,152.5 831,151 829.5,149.6 828,148.1 826.5,146.7 825,145.3 823.5,143.9 822,142.6 820.5,141.3 819,140.8 817.5,142.1 816,143.6 814.5,143 813,141.7 811.5,140.5 810,141.7 808.5,143.1 807,144.5 805.5,146 804,147.6 802.5,149.1 801,150.7 799.5,152.3 798,154 796.5,155.6 795,157.3 793.5,158.9 792,160.6 790.5,162.2 789,163.9 787.5,165.5 786,167.1 784.5,168.6 783,170.1 781.5,171.6 780,173 778.5,174.3 777,175.6 775.5,176.9 774,178 772.5,179.1 771,180.1 769.5,181 768,181.8 766.5,182.5 765,183.1" fill="#440e66"/>
<use href="#u20" stroke="#ef7d26" stroke-width="2.7" stroke-linejoin="round"/>
<use href="#l20" stroke="#ef7d26" stroke-width="2.7" stroke-linejoin="round"/>
</g>
<rect x="780.0" y="47.0" width="323.0" height="164.0" fill="none" stroke="#000" stroke-width="2"/>
<g clip-path="url(#c21)">
<rect x="781" y="217" width="321" height="162" fill="url(#g21)"/>
<defs><polyline id="u21" fill="none" points="765,271.4 766.5,273 768,274.6 769.5,276.1 771,277.6 772.5,279 774,280.5 775.5,281.8 777,283.2 778.5,284.4 780,285.7 781.5,286.8 783,286.4 784.5,285.3 786,284 787.5,282.7 789,281.4 790.5,280 792,278.6 793.5,277.1 795,275.6 796.5,274 798,272.5 799.5,270.9 801,269.3 802.5,267.7 804,266.1 805.5,264.5 807,262.9 808.5,261.3 810,259.8 811.5,258.2 813,256.7 814.5,255.3 816,253.9 817.5,252.5 819,251.2 820.5,250 822,248.9 823.5,247.8 825,246.8 826.5,245.9 828,245.1 829.5,244.3 831,243.7 832.5,243.1 834,242.7 835.5,242.4 837,242.1 838.5,242 840,242 841.5,242.1 843,242.3 844.5,242.6 846,243 847.5,243.5 849,244.1 850.5,244.8 852,245.6 853.5,246.5 855,247.4 856.5,248.5 858,249.6 859.5,250.8 861,252.1 862.5,253.4 864,254.8 865.5,256.2 867,257.7 868.5,259.2 870,260.8 871.5,262.4 873,263.9 874.5,265.5 876,267.2 877.5,268.8 879,270.4 880.5,272 882,273.5 883.5,275.1 885,276.6 886.5,278.1 888,279.5 889.5,280.9 891,282.3 892.5,283.6 894,284.9 895.5,286.1 897,287.2 898.5,286.1 900,284.9 901.5,283.6 903,282.3 904.5,280.9 906,279.5 907.5,278.1 909,276.6 910.5,275.1 912,273.5 913.5,272 915,270.4 916.5,268.8 918,267.2 919.5,265.5 921,263.9 922.5,262.4 924,260.8 925.5,259.2 927,257.7 928.5,256.2 930,254.8 931.5,253.4 933,252.1 934.5,250.8 936,249.6 937.5,248.5 939,247.4 940.5,246.5 942,245.6 943.5,244.8 945,244.1 946.5,243.5 948,243 949.5,242.6 951,242.3 952.5,242.1 954,242 955.5,242 957,242.1 958.5,242.4 960,242.7 961.5,243.1 963,243.7 964.5,244.3 966,245.1 967.5,245.9 969,246.8 970.5,247.8 972,248.9 973.5,250 975,251.2 976.5,252.5 978,253.9 979.5,255.3 981,256.7 982.5,258.2 984,259.8 985.5,261.3 987,262.9 988.5,264.5 990,266.1 991.5,267.7 993,269.3 994.5,270.9 996,272.5 997.5,274 999,275.6 1000.5,277.1 1002,278.6 1003.5,280 1005,281.4 1006.5,282.7 1008,284 1009.5,285.3 1011,286.4 1012.5,286.8 1014,285.7 1015.5,284.4 1017,283.2 1018.5,281.8 1020,280.5 1021.5,279 1023,277.6 1024.5,276.1 1026,274.6 1027.5,273 1029,271.4 1030.5,269.8 1032,268.2 1033.5,266.6 1035,265 1036.5,263.4 1038,261.8 1039.5,260.3 1041,258.7 1042.5,257.2 1044,255.8 1045.5,254.3 1047,253 1048.5,251.7 1050,250.4 1051.5,249.2 1053,248.1 1054.5,247.1 1056,246.2 1057.5,245.3 1059,244.6 1060.5,243.9 1062,243.3 1063.5,242.8 1065,242.5 1066.5,242.2 1068,242.1 1069.5,242 1071,242.1 1072.5,242.2 1074,242.5 1075.5,242.8 1077,243.3 1078.5,243.9 1080,244.6 1081.5,245.3 1083,246.2 1084.5,247.1 1086,248.1 1087.5,249.2 1089,250.4 1090.5,251.7 1092,253 1093.5,254.3 1095,255.8 1096.5,257.2 1098,258.7 1099.5,260.3 1101,261.8 1102.5,263.4 1104,265 1105.5,266.6 1107,268.2 1108.5,269.8 1110,271.4 1111.5,273 1113,274.6 1114.5,276.1 1116,277.6 1117.5,279 1118,279.5"/><polyline id="l21" fill="none" points="765,330.4 766.5,329.1 768,327.7 769.5,326.4 771,325 772.5,323.7 774,322.3 775.5,321 777,319.7 778.5,318.4 780,317.1 781.5,315.8 783,314.5 784.5,313.3 786,312.1 787.5,310.9 789,309.8 790.5,308.6 792,308.4 793.5,310 795,311.6 796.5,313.2 798,314.9 799.5,316.7 801,318.5 802.5,320.3 804,322.1 805.5,324 807,325.8 808.5,327.7 810,329.6 811.5,331.4 813,333.2 814.5,335 816,336.7 817.5,338.4 819,340 820.5,341.5 822,343 823.5,344.3 825,345.6 826.5,346.8 828,347.9 829.5,348.9 831,349.7 832.5,350.5 834,351.1 835.5,351.6 837,351.9 838.5,352.1 840,352.2 841.5,352.2 843,352.1 844.5,351.9 846,351.7 847.5,351.4 849,351 850.5,350.5 852,350 853.5,349.4 855,348.8 856.5,348.1 858,347.3 859.5,346.5 861,345.7 862.5,344.7 864,343.8 865.5,342.7 867,341.7 868.5,340.6 870,339.4 871.5,338.3 873,337.1 874.5,335.8 876,334.6 877.5,333.3 879,332 880.5,330.7 882,329.3 883.5,328 885,326.6 886.5,325.3 888,324 889.5,322.6 891,321.3 892.5,320 894,318.6 895.5,317.3 897,316.1 898.5,314.8 900,313.6 901.5,312.3 903,311.1 904.5,310 906,308.9 907.5,308.1 909,309.6 910.5,311.2 912,312.9 913.5,314.6 915,316.3 916.5,318.1 918,319.9 919.5,321.8 921,323.6 922.5,325.5 924,327.3 925.5,329.2 927,331 928.5,332.8 930,334.6 931.5,336.3 933,338 934.5,339.6 936,341.2 937.5,342.7 939,344.1 940.5,345.4 942,346.6 943.5,347.7 945,348.7 946.5,349.6 948,350.3 949.5,351 951,351.5 952.5,351.8 954,352.1 955.5,352.2 957,352.2 958.5,352.1 960,351.9 961.5,351.7 963,351.4 964.5,351.1 966,350.6 967.5,350.1 969,349.6 970.5,348.9 972,348.2 973.5,347.5 975,346.7 976.5,345.8 978,344.9 979.5,344 981,343 982.5,341.9 984,340.8 985.5,339.7 987,338.5 988.5,337.3 990,336.1 991.5,334.8 993,333.5 994.5,332.2 996,330.9 997.5,329.6 999,328.3 1000.5,326.9 1002,325.6 1003.5,324.2 1005,322.9 1006.5,321.5 1008,320.2 1009.5,318.9 1011,317.6 1012.5,316.3 1014,315 1015.5,313.8 1017,312.6 1018.5,311.4 1020,310.2 1021.5,309.1 1023,308 1024.5,309.3 1026,310.9 1027.5,312.6 1029,314.3 1030.5,316 1032,317.8 1033.5,319.6 1035,321.4 1036.5,323.2 1038,325.1 1039.5,327 1041,328.8 1042.5,330.7 1044,332.5 1045.5,334.3 1047,336 1048.5,337.7 1050,339.3 1051.5,340.9 1053,342.4 1054.5,343.8 1056,345.1 1057.5,346.4 1059,347.5 1060.5,348.5 1062,349.4 1063.5,350.2 1065,350.8 1066.5,351.4 1068,351.8 1069.5,352 1071,352.2 1072.5,352.2 1074,352.1 1075.5,352 1077,351.8 1078.5,351.5 1080,351.1 1081.5,350.7 1083,350.2 1084.5,349.7 1086,349.1 1087.5,348.4 1089,347.7 1090.5,346.9 1092,346 1093.5,345.1 1095,344.2 1096.5,343.2 1098,342.1 1099.5,341 1101,339.9 1102.5,338.7 1104,337.5 1105.5,336.3 1107,335.1 1108.5,333.8 1110,332.5 1111.5,331.2 1113,329.9 1114.5,328.5 1116,327.2 1117.5,325.8 1118,325.4"/></defs>
<use href="#u21" stroke="#4fc36a" stroke-width="28.0" stroke-linejoin="round" opacity="0.60" clip-path="url(#h21up)"/>
<use href="#u21" stroke="#dde326" stroke-width="22.0" stroke-linejoin="round" opacity="0.95" clip-path="url(#h21up)"/>
<use href="#l21" stroke="#dde326" stroke-width="28.0" stroke-linejoin="round" opacity="0.90" clip-path="url(#h21lo)"/>
<polygon points="765,330.4 766.5,329.1 768,327.7 769.5,326.4 771,325 772.5,323.7 774,322.3 775.5,321 777,319.7 778.5,318.4 780,317.1 781.5,315.8 783,314.5 784.5,313.3 786,312.1 787.5,310.9 789,309.8 790.5,308.6 792,308.4 793.5,310 795,311.6 796.5,313.2 798,314.9 799.5,316.7 801,318.5 802.5,320.3 804,322.1 805.5,324 807,325.8 808.5,327.7 810,329.6 811.5,331.4 813,333.2 814.5,335 816,336.7 817.5,338.4 819,340 820.5,341.5 822,343 823.5,344.3 825,345.6 826.5,346.8 828,347.9 829.5,348.9 831,349.7 832.5,350.5 834,351.1 835.5,351.6 837,351.9 838.5,352.1 840,352.2 841.5,352.2 843,352.1 844.5,351.9 846,351.7 847.5,351.4 849,351 850.5,350.5 852,350 853.5,349.4 855,348.8 856.5,348.1 858,347.3 859.5,346.5 861,345.7 862.5,344.7 864,343.8 865.5,342.7 867,341.7 868.5,340.6 870,339.4 871.5,338.3 873,337.1 874.5,335.8 876,334.6 877.5,333.3 879,332 880.5,330.7 882,329.3 883.5,328 885,326.6 886.5,325.3 888,324 889.5,322.6 891,321.3 892.5,320 894,318.6 895.5,317.3 897,316.1 898.5,314.8 900,313.6 901.5,312.3 903,311.1 904.5,310 906,308.9 907.5,308.1 909,309.6 910.5,311.2 912,312.9 913.5,314.6 915,316.3 916.5,318.1 918,319.9 919.5,321.8 921,323.6 922.5,325.5 924,327.3 925.5,329.2 927,331 928.5,332.8 930,334.6 931.5,336.3 933,338 934.5,339.6 936,341.2 937.5,342.7 939,344.1 940.5,345.4 942,346.6 943.5,347.7 945,348.7 946.5,349.6 948,350.3 949.5,351 951,351.5 952.5,351.8 954,352.1 955.5,352.2 957,352.2 958.5,352.1 960,351.9 961.5,351.7 963,351.4 964.5,351.1 966,350.6 967.5,350.1 969,349.6 970.5,348.9 972,348.2 973.5,347.5 975,346.7 976.5,345.8 978,344.9 979.5,344 981,343 982.5,341.9 984,340.8 985.5,339.7 987,338.5 988.5,337.3 990,336.1 991.5,334.8 993,333.5 994.5,332.2 996,330.9 997.5,329.6 999,328.3 1000.5,326.9 1002,325.6 1003.5,324.2 1005,322.9 1006.5,321.5 1008,320.2 1009.5,318.9 1011,317.6 1012.5,316.3 1014,315 1015.5,313.8 1017,312.6 1018.5,311.4 1020,310.2 1021.5,309.1 1023,308 1024.5,309.3 1026,310.9 1027.5,312.6 1029,314.3 1030.5,316 1032,317.8 1033.5,319.6 1035,321.4 1036.5,323.2 1038,325.1 1039.5,327 1041,328.8 1042.5,330.7 1044,332.5 1045.5,334.3 1047,336 1048.5,337.7 1050,339.3 1051.5,340.9 1053,342.4 1054.5,343.8 1056,345.1 1057.5,346.4 1059,347.5 1060.5,348.5 1062,349.4 1063.5,350.2 1065,350.8 1066.5,351.4 1068,351.8 1069.5,352 1071,352.2 1072.5,352.2 1074,352.1 1075.5,352 1077,351.8 1078.5,351.5 1080,351.1 1081.5,350.7 1083,350.2 1084.5,349.7 1086,349.1 1087.5,348.4 1089,347.7 1090.5,346.9 1092,346 1093.5,345.1 1095,344.2 1096.5,343.2 1098,342.1 1099.5,341 1101,339.9 1102.5,338.7 1104,337.5 1105.5,336.3 1107,335.1 1108.5,333.8 1110,332.5 1111.5,331.2 1113,329.9 1114.5,328.5 1116,327.2 1117.5,325.8 1118,325.4 1118,353 765,353" fill="#bddf26" opacity="0.80"/>
<polygon points="765,330.4 766.5,329.1 768,327.7 769.5,326.4 771,325 772.5,323.7 774,322.3 775.5,321 777,319.7 778.5,318.4 780,317.1 781.5,315.8 783,314.5 784.5,313.3 786,312.1 787.5,310.9 789,309.8 790.5,308.6 792,308.4 793.5,310 795,311.6 796.5,313.2 798,314.9 799.5,316.7 801,318.5 802.5,320.3 804,322.1 805.5,324 807,325.8 808.5,327.7 810,329.6 811.5,331.4 813,333.2 814.5,335 816,336.7 817.5,338.4 819,340 820.5,341.5 822,343 823.5,344.3 825,345.6 826.5,346.8 828,347.9 829.5,348.9 831,349.7 832.5,350.5 834,351.1 835.5,351.6 837,351.9 838.5,352.1 840,352.2 841.5,352.2 843,352.1 844.5,351.9 846,351.7 847.5,351.4 849,351 850.5,350.5 852,350 853.5,349.4 855,348.8 856.5,348.1 858,347.3 859.5,346.5 861,345.7 862.5,344.7 864,343.8 865.5,342.7 867,341.7 868.5,340.6 870,339.4 871.5,338.3 873,337.1 874.5,335.8 876,334.6 877.5,333.3 879,332 880.5,330.7 882,329.3 883.5,328 885,326.6 886.5,325.3 888,324 889.5,322.6 891,321.3 892.5,320 894,318.6 895.5,317.3 897,316.1 898.5,314.8 900,313.6 901.5,312.3 903,311.1 904.5,310 906,308.9 907.5,308.1 909,309.6 910.5,311.2 912,312.9 913.5,314.6 915,316.3 916.5,318.1 918,319.9 919.5,321.8 921,323.6 922.5,325.5 924,327.3 925.5,329.2 927,331 928.5,332.8 930,334.6 931.5,336.3 933,338 934.5,339.6 936,341.2 937.5,342.7 939,344.1 940.5,345.4 942,346.6 943.5,347.7 945,348.7 946.5,349.6 948,350.3 949.5,351 951,351.5 952.5,351.8 954,352.1 955.5,352.2 957,352.2 958.5,352.1 960,351.9 961.5,351.7 963,351.4 964.5,351.1 966,350.6 967.5,350.1 969,349.6 970.5,348.9 972,348.2 973.5,347.5 975,346.7 976.5,345.8 978,344.9 979.5,344 981,343 982.5,341.9 984,340.8 985.5,339.7 987,338.5 988.5,337.3 990,336.1 991.5,334.8 993,333.5 994.5,332.2 996,330.9 997.5,329.6 999,328.3 1000.5,326.9 1002,325.6 1003.5,324.2 1005,322.9 1006.5,321.5 1008,320.2 1009.5,318.9 1011,317.6 1012.5,316.3 1014,315 1015.5,313.8 1017,312.6 1018.5,311.4 1020,310.2 1021.5,309.1 1023,308 1024.5,309.3 1026,310.9 1027.5,312.6 1029,314.3 1030.5,316 1032,317.8 1033.5,319.6 1035,321.4 1036.5,323.2 1038,325.1 1039.5,327 1041,328.8 1042.5,330.7 1044,332.5 1045.5,334.3 1047,336 1048.5,337.7 1050,339.3 1051.5,340.9 1053,342.4 1054.5,343.8 1056,345.1 1057.5,346.4 1059,347.5 1060.5,348.5 1062,349.4 1063.5,350.2 1065,350.8 1066.5,351.4 1068,351.8 1069.5,352 1071,352.2 1072.5,352.2 1074,352.1 1075.5,352 1077,351.8 1078.5,351.5 1080,351.1 1081.5,350.7 1083,350.2 1084.5,349.7 1086,349.1 1087.5,348.4 1089,347.7 1090.5,346.9 1092,346 1093.5,345.1 1095,344.2 1096.5,343.2 1098,342.1 1099.5,341 1101,339.9 1102.5,338.7 1104,337.5 1105.5,336.3 1107,335.1 1108.5,333.8 1110,332.5 1111.5,331.2 1113,329.9 1114.5,328.5 1116,327.2 1117.5,325.8 1118,325.4 1118,353 765,353" fill="url(#spT)" opacity="0.90"/>
<use href="#u21" stroke="url(#spT)" stroke-width="22.0" opacity="0.80" clip-path="url(#h21up)"/>
<rect x="781" y="217.0" width="321" height="21.0" fill="url(#spG)" opacity="0.60"/>
<polygon points="787.8,320 793.2,320 795.9,353 785.1,353" fill="#29ad80" opacity="0.8"/>
<polygon points="904.8,320 910.2,320 912.9,353 902.1,353" fill="#29ad80" opacity="0.8"/>
<polygon points="1019.8,320 1025.2,320 1027.9,353 1017.1,353" fill="#29ad80" opacity="0.8"/>
<polygon points="765,271.4 766.5,273 768,274.6 769.5,276.1 771,277.6 772.5,279 774,280.5 775.5,281.8 777,283.2 778.5,284.4 780,285.7 781.5,286.8 783,286.4 784.5,285.3 786,284 787.5,282.7 789,283.2 790.5,284.4 792,285.7 793.5,286.8 795,286.4 796.5,285.3 798,284 799.5,282.7 801,281.4 802.5,280 804,278.6 805.5,277.1 807,275.6 808.5,274 810,272.5 811.5,270.9 813,269.3 814.5,267.7 816,266.1 817.5,264.5 819,262.9 820.5,261.3 822,259.8 823.5,258.2 825,256.7 826.5,255.3 828,253.9 829.5,252.5 831,251.2 832.5,250 834,248.9 835.5,247.8 837,246.8 838.5,245.9 840,245.1 841.5,244.3 843,243.7 844.5,243.1 846,243 847.5,243.5 849,244.1 850.5,244.8 852,245.6 853.5,246.5 855,247.4 856.5,248.5 858,249.6 859.5,250.8 861,252.1 862.5,253.4 864,254.8 865.5,256.2 867,257.7 868.5,259.2 870,260.8 871.5,262.4 873,263.9 874.5,265.5 876,267.2 877.5,268.8 879,270.4 880.5,272 882,273.5 883.5,275.1 885,276.6 886.5,278.1 888,279.5 889.5,280.9 891,282.3 892.5,283.6 894,284.9 895.5,286.1 897,287.2 898.5,286.1 900,284.9 901.5,283.6 903,282.3 904.5,283.6 906,284.9 907.5,286.1 909,287.2 910.5,286.1 912,284.9 913.5,283.6 915,282.3 916.5,280.9 918,279.5 919.5,278.1 921,276.6 922.5,275.1 924,273.5 925.5,272 927,270.4 928.5,268.8 930,267.2 931.5,265.5 933,263.9 934.5,262.4 936,260.8 937.5,259.2 939,257.7 940.5,256.2 942,254.8 943.5,253.4 945,252.1 946.5,250.8 948,249.6 949.5,248.5 951,247.4 952.5,246.5 954,245.6 955.5,244.8 957,244.1 958.5,243.5 960,243 961.5,243.1 963,243.7 964.5,244.3 966,245.1 967.5,245.9 969,246.8 970.5,247.8 972,248.9 973.5,250 975,251.2 976.5,252.5 978,253.9 979.5,255.3 981,256.7 982.5,258.2 984,259.8 985.5,261.3 987,262.9 988.5,264.5 990,266.1 991.5,267.7 993,269.3 994.5,270.9 996,272.5 997.5,274 999,275.6 1000.5,277.1 1002,278.6 1003.5,280 1005,281.4 1006.5,282.7 1008,284 1009.5,285.3 1011,286.4 1012.5,286.8 1014,285.7 1015.5,284.4 1017,283.2 1018.5,282.7 1020,284 1021.5,285.3 1023,286.4 1024.5,286.8 1026,285.7 1027.5,284.4 1029,283.2 1030.5,281.8 1032,280.5 1033.5,279 1035,277.6 1036.5,276.1 1038,274.6 1039.5,273 1041,271.4 1042.5,269.8 1044,268.2 1045.5,266.6 1047,265 1048.5,263.4 1050,261.8 1051.5,260.3 1053,258.7 1054.5,257.2 1056,255.8 1057.5,254.3 1059,253 1060.5,251.7 1062,250.4 1063.5,249.2 1065,248.1 1066.5,247.1 1068,246.2 1069.5,245.3 1071,244.6 1072.5,243.9 1074,243.3 1075.5,242.8 1077,243.3 1078.5,243.9 1080,244.6 1081.5,245.3 1083,246.2 1084.5,247.1 1086,248.1 1087.5,249.2 1089,250.4 1090.5,251.7 1092,253 1093.5,254.3 1095,255.8 1096.5,257.2 1098,258.7 1099.5,260.3 1101,261.8 1102.5,263.4 1104,265 1105.5,266.6 1107,268.2 1108.5,269.8 1110,271.4 1111.5,273 1113,274.6 1114.5,276.1 1116,277.6 1117.5,279 1118,279.5 1118,325.4 1117.5,325.8 1116,327.2 1114.5,328.5 1113,329.9 1111.5,331.2 1110,332.5 1108.5,333.8 1107,335.1 1105.5,336.3 1104,337.5 1102.5,338.7 1101,339.9 1099.5,341 1098,342.1 1096.5,343.2 1095,344.2 1093.5,345.1 1092,346 1090.5,346.9 1089,347.7 1087.5,348.4 1086,349.1 1084.5,349.7 1083,350.2 1081.5,350.7 1080,351.1 1078.5,351.5 1077,351.5 1075.5,351 1074,350.4 1072.5,349.7 1071,348.8 1069.5,347.8 1068,346.7 1066.5,345.6 1065,344.3 1063.5,342.9 1062,341.4 1060.5,339.9 1059,338.2 1057.5,336.6 1056,334.8 1054.5,333.1 1053,331.3 1051.5,329.4 1050,327.6 1048.5,325.7 1047,323.9 1045.5,322 1044,320.2 1042.5,318.4 1041,316.6 1039.5,314.8 1038,313.1 1036.5,311.5 1035,309.9 1033.5,308.3 1032,308.7 1030.5,309.8 1029,311 1027.5,312.2 1026,310.9 1024.5,309.3 1023,308 1021.5,309.1 1020,310.2 1018.5,311.4 1017,312.6 1015.5,313.8 1014,315 1012.5,316.3 1011,317.6 1009.5,318.9 1008,320.2 1006.5,321.5 1005,322.9 1003.5,324.2 1002,325.6 1000.5,326.9 999,328.3 997.5,329.6 996,330.9 994.5,332.2 993,333.5 991.5,334.8 990,336.1 988.5,337.3 987,338.5 985.5,339.7 984,340.8 982.5,341.9 981,343 979.5,344 978,344.9 976.5,345.8 975,346.7 973.5,347.5 972,348.2 970.5,348.9 969,349.6 967.5,350.1 966,350.6 964.5,351.1 963,351.4 961.5,351.6 960,351.1 958.5,350.6 957,349.8 955.5,349 954,348 952.5,347 951,345.8 949.5,344.5 948,343.2 946.5,341.7 945,340.2 943.5,338.6 942,336.9 940.5,335.2 939,333.4 937.5,331.6 936,329.8 934.5,328 933,326.1 931.5,324.2 930,322.4 928.5,320.5 927,318.7 925.5,316.9 924,315.2 922.5,313.5 921,311.8 919.5,310.2 918,308.6 916.5,308.5 915,309.6 913.5,310.8 912,311.9 910.5,311.2 909,309.6 907.5,308.1 906,308.9 904.5,310 903,311.1 901.5,312.3 900,313.6 898.5,314.8 897,316.1 895.5,317.3 894,318.6 892.5,320 891,321.3 889.5,322.6 888,324 886.5,325.3 885,326.6 883.5,328 882,329.3 880.5,330.7 879,332 877.5,333.3 876,334.6 874.5,335.8 873,337.1 871.5,338.3 870,339.4 868.5,340.6 867,341.7 865.5,342.7 864,343.8 862.5,344.7 861,345.7 859.5,346.5 858,347.3 856.5,348.1 855,348.8 853.5,349.4 852,350 850.5,350.5 849,351 847.5,351.4 846,351.7 844.5,351.3 843,350.7 841.5,350 840,349.2 838.5,348.2 837,347.2 835.5,346 834,344.8 832.5,343.4 831,342 829.5,340.5 828,338.9 826.5,337.2 825,335.5 823.5,333.8 822,332 820.5,330.2 819,328.3 817.5,326.5 816,324.6 814.5,322.7 813,320.9 811.5,319.1 810,317.3 808.5,315.5 807,313.8 805.5,312.1 804,310.5 802.5,308.9 801,308.3 799.5,309.4 798,310.5 796.5,311.7 795,311.6 793.5,310 792,308.4 790.5,308.6 789,309.8 787.5,310.9 786,312.1 784.5,313.3 783,314.5 781.5,315.8 780,317.1 778.5,318.4 777,319.7 775.5,321 774,322.3 772.5,323.7 771,325 769.5,326.4 768,327.7 766.5,329.1 765,330.4" fill="#440e66"/>
<use href="#u21" stroke="#ef7d26" stroke-width="2.7" stroke-linejoin="round"/>
<use href="#l21" stroke="#ef7d26" stroke-width="2.7" stroke-linejoin="round"/>
</g>
<rect x="780.0" y="216.0" width="323.0" height="164.0" fill="none" stroke="#000" stroke-width="2"/>
<g clip-path="url(#c22)">
<rect x="781" y="383" width="321" height="163" fill="url(#g22)"/>
<defs><polyline id="u22" fill="none" points="765,443.5 766.5,444.4 768,445.3 769.5,446 771,446.7 772.5,447.2 774,447.7 775.5,448 777,448.2 778.5,448.3 780,448.3 781.5,448.1 783,447.9 784.5,447.6 786,447.1 787.5,446.5 789,445.9 790.5,445.1 792,444.3 793.5,443.3 795,442.3 796.5,441.2 798,440.1 799.5,438.9 801,437.6 802.5,436.3 804,435 805.5,433.6 807,432.3 808.5,430.9 810,429.5 811.5,428.2 813,426.9 814.5,425.6 816,424.3 817.5,423.1 819,422 820.5,420.9 822,419.9 823.5,419 825,418.1 826.5,417.4 828,416.7 829.5,416.2 831,415.7 832.5,415.4 834,415.1 835.5,415 837,415 838.5,415.1 840,415.3 841.5,415.7 843,416.1 844.5,416.7 846,417.4 847.5,418.1 849,419 850.5,419.9 852,421 853.5,422.1 855,423.2 856.5,424.5 858,425.7 859.5,427.1 861,428.4 862.5,429.8 864,431.2 865.5,432.6 867,434 868.5,435.4 870,436.7 871.5,438 873,439.3 874.5,440.5 876,441.6 877.5,442.7 879,443.7 880.5,444.6 882,445.5 883.5,446.2 885,446.8 886.5,447.3 888,447.8 889.5,448.1 891,448.2 892.5,448.3 894,448.3 895.5,448.1 897,447.8 898.5,447.4 900,447 901.5,446.4 903,445.7 904.5,444.9 906,444 907.5,443.1 909,442 910.5,440.9 912,439.8 913.5,438.5 915,437.3 916.5,436 918,434.6 919.5,433.3 921,431.9 922.5,430.5 924,429.2 925.5,427.8 927,426.5 928.5,425.2 930,424 931.5,422.8 933,421.7 934.5,420.6 936,419.6 937.5,418.7 939,417.9 940.5,417.2 942,416.6 943.5,416 945,415.6 946.5,415.3 948,415.1 949.5,415 951,415 952.5,415.2 954,415.4 955.5,415.8 957,416.3 958.5,416.9 960,417.5 961.5,418.3 963,419.2 964.5,420.2 966,421.2 967.5,422.4 969,423.6 970.5,424.8 972,426.1 973.5,427.4 975,428.8 976.5,430.2 978,431.6 979.5,433 981,434.4 982.5,435.7 984,437.1 985.5,438.4 987,439.6 988.5,440.8 990,441.9 991.5,443 993,444 994.5,444.9 996,445.7 997.5,446.4 999,447 1000.5,447.5 1002,447.8 1003.5,448.1 1005,448.3 1006.5,448.3 1008,448.2 1009.5,448 1011,447.7 1012.5,447.3 1014,446.8 1015.5,446.2 1017,445.5 1018.5,444.7 1020,443.8 1021.5,442.8 1023,441.7 1024.5,440.6 1026,439.4 1027.5,438.2 1029,436.9 1030.5,435.6 1032,434.3 1033.5,432.9 1035,431.5 1036.5,430.2 1038,428.8 1039.5,427.5 1041,426.2 1042.5,424.9 1044,423.7 1045.5,422.5 1047,421.4 1048.5,420.4 1050,419.4 1051.5,418.5 1053,417.7 1054.5,417 1056,416.4 1057.5,415.9 1059,415.5 1060.5,415.2 1062,415.1 1063.5,415 1065,415.1 1066.5,415.2 1068,415.5 1069.5,415.9 1071,416.4 1072.5,417 1074,417.7 1075.5,418.6 1077,419.5 1078.5,420.5 1080,421.5 1081.5,422.7 1083,423.9 1084.5,425.1 1086,426.5 1087.5,427.8 1089,429.2 1090.5,430.5 1092,431.9 1093.5,433.3 1095,434.7 1096.5,436.1 1098,437.4 1099.5,438.7 1101,439.9 1102.5,441.1 1104,442.2 1105.5,443.3 1107,444.2 1108.5,445.1 1110,445.9 1111.5,446.5 1113,447.1 1114.5,447.6 1116,447.9 1117.5,448.2 1118,448.2"/><polyline id="l22" fill="none" points="765,493.4 766.5,492 768,490.8 769.5,489.5 771,488.4 772.5,487.3 774,486.2 775.5,485.3 777,484.5 778.5,483.7 780,483 781.5,482.5 783,482 784.5,481.7 786,481.5 787.5,481.4 789,481.4 790.5,481.6 792,481.8 793.5,482.2 795,482.7 796.5,483.2 798,483.9 799.5,484.7 801,485.6 802.5,486.6 804,487.6 805.5,488.8 807,489.9 808.5,491.2 810,492.5 811.5,493.8 813,495.2 814.5,496.6 816,497.9 817.5,499.3 819,500.7 820.5,502.1 822,503.4 823.5,504.7 825,506 826.5,507.1 828,508.3 829.5,509.3 831,510.3 832.5,511.2 834,512 835.5,512.7 837,513.2 838.5,513.7 840,514.1 841.5,514.3 843,514.5 844.5,514.5 846,514.4 847.5,514.2 849,513.9 850.5,513.4 852,512.9 853.5,512.2 855,511.4 856.5,510.6 858,509.7 859.5,508.6 861,507.5 862.5,506.4 864,505.1 865.5,503.9 867,502.5 868.5,501.2 870,499.8 871.5,498.4 873,497 874.5,495.6 876,494.3 877.5,492.9 879,491.6 880.5,490.4 882,489.1 883.5,488 885,486.9 886.5,485.9 888,485 889.5,484.2 891,483.5 892.5,482.8 894,482.3 895.5,481.9 897,481.6 898.5,481.5 900,481.4 901.5,481.5 903,481.6 904.5,481.9 906,482.3 907.5,482.8 909,483.5 910.5,484.2 912,485 913.5,485.9 915,486.9 916.5,488 918,489.1 919.5,490.4 921,491.6 922.5,492.9 924,494.3 925.5,495.6 927,497 928.5,498.4 930,499.8 931.5,501.2 933,502.5 934.5,503.9 936,505.1 937.5,506.4 939,507.5 940.5,508.6 942,509.7 943.5,510.6 945,511.4 946.5,512.2 948,512.9 949.5,513.4 951,513.9 952.5,514.2 954,514.4 955.5,514.5 957,514.5 958.5,514.3 960,514.1 961.5,513.7 963,513.2 964.5,512.7 966,512 967.5,511.2 969,510.3 970.5,509.3 972,508.3 973.5,507.1 975,506 976.5,504.7 978,503.4 979.5,502.1 981,500.7 982.5,499.3 984,497.9 985.5,496.6 987,495.2 988.5,493.8 990,492.5 991.5,491.2 993,489.9 994.5,488.8 996,487.6 997.5,486.6 999,485.6 1000.5,484.7 1002,483.9 1003.5,483.2 1005,482.7 1006.5,482.2 1008,481.8 1009.5,481.6 1011,481.4 1012.5,481.4 1014,481.5 1015.5,481.7 1017,482 1018.5,482.5 1020,483 1021.5,483.7 1023,484.5 1024.5,485.3 1026,486.2 1027.5,487.3 1029,488.4 1030.5,489.5 1032,490.8 1033.5,492 1035,493.4 1036.5,494.7 1038,496.1 1039.5,497.5 1041,498.9 1042.5,500.3 1044,501.6 1045.5,503 1047,504.3 1048.5,505.5 1050,506.8 1051.5,507.9 1053,509 1054.5,510 1056,510.9 1057.5,511.7 1059,512.4 1060.5,513.1 1062,513.6 1063.5,514 1065,514.3 1066.5,514.4 1068,514.5 1069.5,514.4 1071,514.3 1072.5,514 1074,513.6 1075.5,513.1 1077,512.4 1078.5,511.7 1080,510.9 1081.5,510 1083,509 1084.5,507.9 1086,506.8 1087.5,505.5 1089,504.3 1090.5,503 1092,501.6 1093.5,500.3 1095,498.9 1096.5,497.5 1098,496.1 1099.5,494.7 1101,493.4 1102.5,492 1104,490.8 1105.5,489.5 1107,488.4 1108.5,487.3 1110,486.2 1111.5,485.3 1113,484.5 1114.5,483.7 1116,483 1117.5,482.5 1118,482.3"/></defs>
<use href="#u22" stroke="#dde326" stroke-width="80.0" stroke-linejoin="round" opacity="1.00" clip-path="url(#h22up)"/>
<use href="#l22" stroke="#dde326" stroke-width="80.0" stroke-linejoin="round" opacity="1.00" clip-path="url(#h22lo)"/>
<rect x="781" y="413.0" width="321" height="94.0" fill="url(#spT)" opacity="0.70"/>
<rect x="781" y="383.0" width="321" height="17.0" fill="url(#spG)" opacity="0.80"/>
<rect x="781" y="522.0" width="321" height="24.0" fill="url(#spY)" opacity="0.70"/>
<rect x="781" y="508.0" width="321" height="14.0" fill="url(#spG)" opacity="0.50"/>
<polygon points="765,443.5 766.5,444.4 768,445.3 769.5,446 771,446.7 772.5,447.2 774,447.7 775.5,448 777,448.2 778.5,448.3 780,448.3 781.5,448.1 783,448.3 784.5,448.3 786,448.2 787.5,448 789,447.7 790.5,447.3 792,446.7 793.5,446.1 795,445.4 796.5,444.5 798,443.6 799.5,442.7 801,441.6 802.5,440.5 804,439.3 805.5,438 807,436.7 808.5,435.4 810,434.1 811.5,432.7 813,431.4 814.5,430 816,428.6 817.5,427.3 819,426 820.5,424.7 822,423.5 823.5,422.4 825,421.3 826.5,420.2 828,419.3 829.5,418.4 831,417.6 832.5,416.9 834,416.3 835.5,415.9 837,415.5 838.5,415.2 840,415.3 841.5,415.7 843,416.1 844.5,416.7 846,417.4 847.5,418.1 849,419 850.5,419.9 852,421 853.5,422.1 855,423.2 856.5,424.5 858,425.7 859.5,427.1 861,428.4 862.5,429.8 864,431.2 865.5,432.6 867,434 868.5,435.4 870,436.7 871.5,438 873,439.3 874.5,440.5 876,441.6 877.5,442.7 879,443.7 880.5,444.6 882,445.5 883.5,446.2 885,446.8 886.5,447.3 888,447.8 889.5,448.1 891,448.2 892.5,448.3 894,448.3 895.5,448.2 897,448.3 898.5,448.3 900,448.2 901.5,447.9 903,447.6 904.5,447.1 906,446.6 907.5,445.9 909,445.2 910.5,444.3 912,443.4 913.5,442.4 915,441.3 916.5,440.2 918,438.9 919.5,437.7 921,436.4 922.5,435.1 924,433.7 925.5,432.4 927,431 928.5,429.6 930,428.3 931.5,427 933,425.7 934.5,424.4 936,423.2 937.5,422.1 939,421 940.5,420 942,419 943.5,418.2 945,417.4 946.5,416.8 948,416.2 949.5,415.7 951,415.4 952.5,415.2 954,415.4 955.5,415.8 957,416.3 958.5,416.9 960,417.5 961.5,418.3 963,419.2 964.5,420.2 966,421.2 967.5,422.4 969,423.6 970.5,424.8 972,426.1 973.5,427.4 975,428.8 976.5,430.2 978,431.6 979.5,433 981,434.4 982.5,435.7 984,437.1 985.5,438.4 987,439.6 988.5,440.8 990,441.9 991.5,443 993,444 994.5,444.9 996,445.7 997.5,446.4 999,447 1000.5,447.5 1002,447.8 1003.5,448.1 1005,448.3 1006.5,448.3 1008,448.2 1009.5,448.2 1011,448.3 1012.5,448.3 1014,448.1 1015.5,447.8 1017,447.5 1018.5,447 1020,446.4 1021.5,445.7 1023,444.9 1024.5,444.1 1026,443.1 1027.5,442.1 1029,441 1030.5,439.8 1032,438.6 1033.5,437.4 1035,436.1 1036.5,434.7 1038,433.4 1039.5,432 1041,430.6 1042.5,429.3 1044,427.9 1045.5,426.6 1047,425.3 1048.5,424.1 1050,422.9 1051.5,421.8 1053,420.7 1054.5,419.7 1056,418.8 1057.5,418 1059,417.2 1060.5,416.6 1062,416.1 1063.5,415.6 1065,415.3 1066.5,415.2 1068,415.5 1069.5,415.9 1071,416.4 1072.5,417 1074,417.7 1075.5,418.6 1077,419.5 1078.5,420.5 1080,421.5 1081.5,422.7 1083,423.9 1084.5,425.1 1086,426.5 1087.5,427.8 1089,429.2 1090.5,430.5 1092,431.9 1093.5,433.3 1095,434.7 1096.5,436.1 1098,437.4 1099.5,438.7 1101,439.9 1102.5,441.1 1104,442.2 1105.5,443.3 1107,444.2 1108.5,445.1 1110,445.9 1111.5,446.5 1113,447.1 1114.5,447.6 1116,447.9 1117.5,448.2 1118,448.2 1118,482.3 1117.5,482.5 1116,483 1114.5,483.7 1113,484.5 1111.5,485.3 1110,486.2 1108.5,487.3 1107,488.4 1105.5,489.5 1104,490.8 1102.5,492 1101,493.4 1099.5,494.7 1098,496.1 1096.5,497.5 1095,498.9 1093.5,500.3 1092,501.6 1090.5,503 1089,504.3 1087.5,505.5 1086,506.8 1084.5,507.9 1083,509 1081.5,510 1080,510.9 1078.5,511.7 1077,512.4 1075.5,513.1 1074,513.6 1072.5,514 1071,514.3 1069.5,514.2 1068,513.9 1066.5,513.4 1065,512.9 1063.5,512.2 1062,511.4 1060.5,510.6 1059,509.7 1057.5,508.6 1056,507.5 1054.5,506.4 1053,505.1 1051.5,503.9 1050,502.5 1048.5,501.2 1047,499.8 1045.5,498.4 1044,497 1042.5,495.6 1041,494.3 1039.5,492.9 1038,491.6 1036.5,490.4 1035,489.1 1033.5,488 1032,486.9 1030.5,485.9 1029,485 1027.5,484.2 1026,483.5 1024.5,482.8 1023,482.3 1021.5,481.9 1020,481.6 1018.5,481.5 1017,481.4 1015.5,481.5 1014,481.5 1012.5,481.4 1011,481.4 1009.5,481.6 1008,481.8 1006.5,482.2 1005,482.7 1003.5,483.2 1002,483.9 1000.5,484.7 999,485.6 997.5,486.6 996,487.6 994.5,488.8 993,489.9 991.5,491.2 990,492.5 988.5,493.8 987,495.2 985.5,496.6 984,497.9 982.5,499.3 981,500.7 979.5,502.1 978,503.4 976.5,504.7 975,506 973.5,507.1 972,508.3 970.5,509.3 969,510.3 967.5,511.2 966,512 964.5,512.7 963,513.2 961.5,513.7 960,514.1 958.5,514.3 957,514.1 955.5,513.7 954,513.2 952.5,512.7 951,512 949.5,511.2 948,510.3 946.5,509.3 945,508.3 943.5,507.1 942,506 940.5,504.7 939,503.4 937.5,502.1 936,500.7 934.5,499.3 933,497.9 931.5,496.6 930,495.2 928.5,493.8 927,492.5 925.5,491.2 924,489.9 922.5,488.8 921,487.6 919.5,486.6 918,485.6 916.5,484.7 915,483.9 913.5,483.2 912,482.7 910.5,482.2 909,481.8 907.5,481.6 906,481.4 904.5,481.4 903,481.5 901.5,481.5 900,481.4 898.5,481.5 897,481.6 895.5,481.9 894,482.3 892.5,482.8 891,483.5 889.5,484.2 888,485 886.5,485.9 885,486.9 883.5,488 882,489.1 880.5,490.4 879,491.6 877.5,492.9 876,494.3 874.5,495.6 873,497 871.5,498.4 870,499.8 868.5,501.2 867,502.5 865.5,503.9 864,505.1 862.5,506.4 861,507.5 859.5,508.6 858,509.7 856.5,510.6 855,511.4 853.5,512.2 852,512.9 850.5,513.4 849,513.9 847.5,514.2 846,514.3 844.5,514 843,513.6 841.5,513.1 840,512.4 838.5,511.7 837,510.9 835.5,510 834,509 832.5,507.9 831,506.8 829.5,505.5 828,504.3 826.5,503 825,501.6 823.5,500.3 822,498.9 820.5,497.5 819,496.1 817.5,494.7 816,493.4 814.5,492 813,490.8 811.5,489.5 810,488.4 808.5,487.3 807,486.2 805.5,485.3 804,484.5 802.5,483.7 801,483 799.5,482.5 798,482 796.5,481.7 795,481.5 793.5,481.4 792,481.4 790.5,481.6 789,481.4 787.5,481.4 786,481.5 784.5,481.7 783,482 781.5,482.5 780,483 778.5,483.7 777,484.5 775.5,485.3 774,486.2 772.5,487.3 771,488.4 769.5,489.5 768,490.8 766.5,492 765,493.4" fill="#440e66"/>
<use href="#u22" stroke="#ef7d26" stroke-width="2.7" stroke-linejoin="round"/>
<use href="#l22" stroke="#ef7d26" stroke-width="2.7" stroke-linejoin="round"/>
</g>
<rect x="780.0" y="382.0" width="323.0" height="165.0" fill="none" stroke="#000" stroke-width="2"/>
<text x="32.8" y="50.7" font-size="18.0" text-anchor="end" >8</text>
<text x="32.8" y="93.6" font-size="18.0" text-anchor="end" >4</text>
<text x="32.8" y="135.0" font-size="18.0" text-anchor="end" >0</text>
<text x="32.8" y="175.8" font-size="18.0" text-anchor="end" >−4</text>
<text x="32.8" y="219.6" font-size="18.0" text-anchor="end" >8</text>
<text x="32.8" y="262.3" font-size="18.0" text-anchor="end" >4</text>
<text x="32.8" y="303.8" font-size="18.0" text-anchor="end" >0</text>
<text x="32.8" y="345.3" font-size="18.0" text-anchor="end" >−4</text>
<text x="32.8" y="387.8" font-size="18.0" text-anchor="end" >8</text>
<text x="32.8" y="428.6" font-size="18.0" text-anchor="end" >4</text>
<text x="32.8" y="470.0" font-size="18.0" text-anchor="end" >0</text>
<text x="32.8" y="511.1" font-size="18.0" text-anchor="end" >−4</text>
<text x="32.8" y="551.8" font-size="18.0" text-anchor="end" >−8</text>
<text x="401.4" y="65.8" font-size="18.0" text-anchor="end" >4</text>
<text x="401.4" y="99.3" font-size="18.0" text-anchor="end" >2</text>
<text x="401.4" y="133.0" font-size="18.0" text-anchor="end" >0</text>
<text x="401.4" y="166.8" font-size="18.0" text-anchor="end" >−2</text>
<text x="401.4" y="200.6" font-size="18.0" text-anchor="end" >−4</text>
<text x="401.4" y="234.8" font-size="18.0" text-anchor="end" >4</text>
<text x="401.4" y="267.6" font-size="18.0" text-anchor="end" >2</text>
<text x="401.4" y="301.3" font-size="18.0" text-anchor="end" >0</text>
<text x="401.4" y="334.8" font-size="18.0" text-anchor="end" >−2</text>
<text x="401.4" y="368.7" font-size="18.0" text-anchor="end" >−4</text>
<text x="401.4" y="401.1" font-size="18.0" text-anchor="end" >4</text>
<text x="401.4" y="434.5" font-size="18.0" text-anchor="end" >2</text>
<text x="401.4" y="468.2" font-size="18.0" text-anchor="end" >0</text>
<text x="401.4" y="502.2" font-size="18.0" text-anchor="end" >−2</text>
<text x="401.4" y="535.7" font-size="18.0" text-anchor="end" >−4</text>
<text x="772.0" y="61.0" font-size="18.0" text-anchor="end" >2</text>
<text x="772.0" y="97.9" font-size="18.0" text-anchor="end" >1</text>
<text x="772.0" y="134.8" font-size="18.0" text-anchor="end" >0</text>
<text x="772.0" y="170.8" font-size="18.0" text-anchor="end" >−1</text>
<text x="772.0" y="207.1" font-size="18.0" text-anchor="end" >−2</text>
<text x="772.0" y="229.0" font-size="18.0" text-anchor="end" >2</text>
<text x="772.0" y="265.9" font-size="18.0" text-anchor="end" >1</text>
<text x="772.0" y="302.9" font-size="18.0" text-anchor="end" >0</text>
<text x="772.0" y="338.9" font-size="18.0" text-anchor="end" >−1</text>
<text x="772.0" y="375.2" font-size="18.0" text-anchor="end" >−2</text>
<text x="772.0" y="396.0" font-size="18.0" text-anchor="end" >2</text>
<text x="772.0" y="432.9" font-size="18.0" text-anchor="end" >1</text>
<text x="772.0" y="469.9" font-size="18.0" text-anchor="end" >0</text>
<text x="772.0" y="506.8" font-size="18.0" text-anchor="end" >−1</text>
<text x="772.0" y="542.8" font-size="18.0" text-anchor="end" >−2</text>
<line x1="42.0" y1="88.3" x2="50.0" y2="88.3" stroke="#d8d8d8" stroke-width="2.8" stroke-linecap="round" opacity="0.55"/>
<line x1="42.0" y1="88.3" x2="50.0" y2="88.3" stroke="#2a2a24" stroke-width="1.6"/>
<line x1="42.0" y1="129.7" x2="50.0" y2="129.7" stroke="#d8d8d8" stroke-width="2.8" stroke-linecap="round" opacity="0.55"/>
<line x1="42.0" y1="129.7" x2="50.0" y2="129.7" stroke="#2a2a24" stroke-width="1.6"/>
<line x1="42.0" y1="170.5" x2="50.0" y2="170.5" stroke="#d8d8d8" stroke-width="2.8" stroke-linecap="round" opacity="0.55"/>
<line x1="42.0" y1="170.5" x2="50.0" y2="170.5" stroke="#2a2a24" stroke-width="1.6"/>
<line x1="42.0" y1="257.0" x2="50.0" y2="257.0" stroke="#d8d8d8" stroke-width="2.8" stroke-linecap="round" opacity="0.55"/>
<line x1="42.0" y1="257.0" x2="50.0" y2="257.0" stroke="#2a2a24" stroke-width="1.6"/>
<line x1="42.0" y1="298.0" x2="50.0" y2="298.0" stroke="#d8d8d8" stroke-width="2.8" stroke-linecap="round" opacity="0.55"/>
<line x1="42.0" y1="298.0" x2="50.0" y2="298.0" stroke="#2a2a24" stroke-width="1.6"/>
<line x1="42.0" y1="339.0" x2="50.0" y2="339.0" stroke="#d8d8d8" stroke-width="2.8" stroke-linecap="round" opacity="0.55"/>
<line x1="42.0" y1="339.0" x2="50.0" y2="339.0" stroke="#2a2a24" stroke-width="1.6"/>
<line x1="42.0" y1="423.3" x2="50.0" y2="423.3" stroke="#d8d8d8" stroke-width="2.8" stroke-linecap="round" opacity="0.55"/>
<line x1="42.0" y1="423.3" x2="50.0" y2="423.3" stroke="#2a2a24" stroke-width="1.6"/>
<line x1="42.0" y1="464.7" x2="50.0" y2="464.7" stroke="#d8d8d8" stroke-width="2.8" stroke-linecap="round" opacity="0.55"/>
<line x1="42.0" y1="464.7" x2="50.0" y2="464.7" stroke="#2a2a24" stroke-width="1.6"/>
<line x1="42.0" y1="505.8" x2="50.0" y2="505.8" stroke="#d8d8d8" stroke-width="2.8" stroke-linecap="round" opacity="0.55"/>
<line x1="42.0" y1="505.8" x2="50.0" y2="505.8" stroke="#2a2a24" stroke-width="1.6"/>
<line x1="411.0" y1="60.8" x2="419.0" y2="60.8" stroke="#d8d8d8" stroke-width="2.8" stroke-linecap="round" opacity="0.55"/>
<line x1="411.0" y1="60.8" x2="419.0" y2="60.8" stroke="#2a2a24" stroke-width="1.6"/>
<line x1="411.0" y1="94.3" x2="419.0" y2="94.3" stroke="#d8d8d8" stroke-width="2.8" stroke-linecap="round" opacity="0.55"/>
<line x1="411.0" y1="94.3" x2="419.0" y2="94.3" stroke="#2a2a24" stroke-width="1.6"/>
<line x1="411.0" y1="128.0" x2="419.0" y2="128.0" stroke="#d8d8d8" stroke-width="2.8" stroke-linecap="round" opacity="0.55"/>
<line x1="411.0" y1="128.0" x2="419.0" y2="128.0" stroke="#2a2a24" stroke-width="1.6"/>
<line x1="411.0" y1="161.5" x2="419.0" y2="161.5" stroke="#d8d8d8" stroke-width="2.8" stroke-linecap="round" opacity="0.55"/>
<line x1="411.0" y1="161.5" x2="419.0" y2="161.5" stroke="#2a2a24" stroke-width="1.6"/>
<line x1="411.0" y1="195.5" x2="419.0" y2="195.5" stroke="#d8d8d8" stroke-width="2.8" stroke-linecap="round" opacity="0.55"/>
<line x1="411.0" y1="195.5" x2="419.0" y2="195.5" stroke="#2a2a24" stroke-width="1.6"/>
<line x1="411.0" y1="228.8" x2="419.0" y2="228.8" stroke="#d8d8d8" stroke-width="2.8" stroke-linecap="round" opacity="0.55"/>
<line x1="411.0" y1="228.8" x2="419.0" y2="228.8" stroke="#2a2a24" stroke-width="1.6"/>
<line x1="411.0" y1="262.2" x2="419.0" y2="262.2" stroke="#d8d8d8" stroke-width="2.8" stroke-linecap="round" opacity="0.55"/>
<line x1="411.0" y1="262.2" x2="419.0" y2="262.2" stroke="#2a2a24" stroke-width="1.6"/>
<line x1="411.0" y1="296.0" x2="419.0" y2="296.0" stroke="#d8d8d8" stroke-width="2.8" stroke-linecap="round" opacity="0.55"/>
<line x1="411.0" y1="296.0" x2="419.0" y2="296.0" stroke="#2a2a24" stroke-width="1.6"/>
<line x1="411.0" y1="329.3" x2="419.0" y2="329.3" stroke="#d8d8d8" stroke-width="2.8" stroke-linecap="round" opacity="0.55"/>
<line x1="411.0" y1="329.3" x2="419.0" y2="329.3" stroke="#2a2a24" stroke-width="1.6"/>
<line x1="411.0" y1="363.4" x2="419.0" y2="363.4" stroke="#d8d8d8" stroke-width="2.8" stroke-linecap="round" opacity="0.55"/>
<line x1="411.0" y1="363.4" x2="419.0" y2="363.4" stroke="#2a2a24" stroke-width="1.6"/>
<line x1="411.0" y1="395.8" x2="419.0" y2="395.8" stroke="#d8d8d8" stroke-width="2.8" stroke-linecap="round" opacity="0.55"/>
<line x1="411.0" y1="395.8" x2="419.0" y2="395.8" stroke="#2a2a24" stroke-width="1.6"/>
<line x1="411.0" y1="429.2" x2="419.0" y2="429.2" stroke="#d8d8d8" stroke-width="2.8" stroke-linecap="round" opacity="0.55"/>
<line x1="411.0" y1="429.2" x2="419.0" y2="429.2" stroke="#2a2a24" stroke-width="1.6"/>
<line x1="411.0" y1="462.9" x2="419.0" y2="462.9" stroke="#d8d8d8" stroke-width="2.8" stroke-linecap="round" opacity="0.55"/>
<line x1="411.0" y1="462.9" x2="419.0" y2="462.9" stroke="#2a2a24" stroke-width="1.6"/>
<line x1="411.0" y1="496.9" x2="419.0" y2="496.9" stroke="#d8d8d8" stroke-width="2.8" stroke-linecap="round" opacity="0.55"/>
<line x1="411.0" y1="496.9" x2="419.0" y2="496.9" stroke="#2a2a24" stroke-width="1.6"/>
<line x1="411.0" y1="530.4" x2="419.0" y2="530.4" stroke="#d8d8d8" stroke-width="2.8" stroke-linecap="round" opacity="0.55"/>
<line x1="411.0" y1="530.4" x2="419.0" y2="530.4" stroke="#2a2a24" stroke-width="1.6"/>
<line x1="781.0" y1="55.7" x2="789.0" y2="55.7" stroke="#d8d8d8" stroke-width="2.8" stroke-linecap="round" opacity="0.55"/>
<line x1="781.0" y1="55.7" x2="789.0" y2="55.7" stroke="#2a2a24" stroke-width="1.6"/>
<line x1="781.0" y1="92.6" x2="789.0" y2="92.6" stroke="#d8d8d8" stroke-width="2.8" stroke-linecap="round" opacity="0.55"/>
<line x1="781.0" y1="92.6" x2="789.0" y2="92.6" stroke="#2a2a24" stroke-width="1.6"/>
<line x1="781.0" y1="129.5" x2="789.0" y2="129.5" stroke="#d8d8d8" stroke-width="2.8" stroke-linecap="round" opacity="0.55"/>
<line x1="781.0" y1="129.5" x2="789.0" y2="129.5" stroke="#2a2a24" stroke-width="1.6"/>
<line x1="781.0" y1="165.5" x2="789.0" y2="165.5" stroke="#d8d8d8" stroke-width="2.8" stroke-linecap="round" opacity="0.55"/>
<line x1="781.0" y1="165.5" x2="789.0" y2="165.5" stroke="#2a2a24" stroke-width="1.6"/>
<line x1="781.0" y1="201.8" x2="789.0" y2="201.8" stroke="#d8d8d8" stroke-width="2.8" stroke-linecap="round" opacity="0.55"/>
<line x1="781.0" y1="201.8" x2="789.0" y2="201.8" stroke="#2a2a24" stroke-width="1.6"/>
<line x1="781.0" y1="223.7" x2="789.0" y2="223.7" stroke="#d8d8d8" stroke-width="2.8" stroke-linecap="round" opacity="0.55"/>
<line x1="781.0" y1="223.7" x2="789.0" y2="223.7" stroke="#2a2a24" stroke-width="1.6"/>
<line x1="781.0" y1="260.6" x2="789.0" y2="260.6" stroke="#d8d8d8" stroke-width="2.8" stroke-linecap="round" opacity="0.55"/>
<line x1="781.0" y1="260.6" x2="789.0" y2="260.6" stroke="#2a2a24" stroke-width="1.6"/>
<line x1="781.0" y1="297.6" x2="789.0" y2="297.6" stroke="#d8d8d8" stroke-width="2.8" stroke-linecap="round" opacity="0.55"/>
<line x1="781.0" y1="297.6" x2="789.0" y2="297.6" stroke="#2a2a24" stroke-width="1.6"/>
<line x1="781.0" y1="333.6" x2="789.0" y2="333.6" stroke="#d8d8d8" stroke-width="2.8" stroke-linecap="round" opacity="0.55"/>
<line x1="781.0" y1="333.6" x2="789.0" y2="333.6" stroke="#2a2a24" stroke-width="1.6"/>
<line x1="781.0" y1="369.9" x2="789.0" y2="369.9" stroke="#d8d8d8" stroke-width="2.8" stroke-linecap="round" opacity="0.55"/>
<line x1="781.0" y1="369.9" x2="789.0" y2="369.9" stroke="#2a2a24" stroke-width="1.6"/>
<line x1="781.0" y1="390.7" x2="789.0" y2="390.7" stroke="#d8d8d8" stroke-width="2.8" stroke-linecap="round" opacity="0.55"/>
<line x1="781.0" y1="390.7" x2="789.0" y2="390.7" stroke="#2a2a24" stroke-width="1.6"/>
<line x1="781.0" y1="427.6" x2="789.0" y2="427.6" stroke="#d8d8d8" stroke-width="2.8" stroke-linecap="round" opacity="0.55"/>
<line x1="781.0" y1="427.6" x2="789.0" y2="427.6" stroke="#2a2a24" stroke-width="1.6"/>
<line x1="781.0" y1="464.6" x2="789.0" y2="464.6" stroke="#d8d8d8" stroke-width="2.8" stroke-linecap="round" opacity="0.55"/>
<line x1="781.0" y1="464.6" x2="789.0" y2="464.6" stroke="#2a2a24" stroke-width="1.6"/>
<line x1="781.0" y1="501.5" x2="789.0" y2="501.5" stroke="#d8d8d8" stroke-width="2.8" stroke-linecap="round" opacity="0.55"/>
<line x1="781.0" y1="501.5" x2="789.0" y2="501.5" stroke="#2a2a24" stroke-width="1.6"/>
<line x1="781.0" y1="537.5" x2="789.0" y2="537.5" stroke="#d8d8d8" stroke-width="2.8" stroke-linecap="round" opacity="0.55"/>
<line x1="781.0" y1="537.5" x2="789.0" y2="537.5" stroke="#2a2a24" stroke-width="1.6"/>
<line x1="78.8" y1="210.0" x2="78.8" y2="203.0" stroke="#2a1a1a" stroke-width="1.3"/>
<line x1="141.5" y1="210.0" x2="141.5" y2="203.0" stroke="#2a1a1a" stroke-width="1.3"/>
<line x1="204.0" y1="210.0" x2="204.0" y2="203.0" stroke="#2a1a1a" stroke-width="1.3"/>
<line x1="267.0" y1="210.0" x2="267.0" y2="203.0" stroke="#2a1a1a" stroke-width="1.3"/>
<line x1="329.5" y1="210.0" x2="329.5" y2="203.0" stroke="#2a1a1a" stroke-width="1.3"/>
<line x1="78.8" y1="379.0" x2="78.8" y2="372.0" stroke="#2a1a1a" stroke-width="1.3"/>
<line x1="141.5" y1="379.0" x2="141.5" y2="372.0" stroke="#2a1a1a" stroke-width="1.3"/>
<line x1="204.0" y1="379.0" x2="204.0" y2="372.0" stroke="#2a1a1a" stroke-width="1.3"/>
<line x1="267.0" y1="379.0" x2="267.0" y2="372.0" stroke="#2a1a1a" stroke-width="1.3"/>
<line x1="329.5" y1="379.0" x2="329.5" y2="372.0" stroke="#2a1a1a" stroke-width="1.3"/>
<line x1="78.8" y1="546.0" x2="78.8" y2="539.0" stroke="#2a1a1a" stroke-width="1.3"/>
<line x1="141.5" y1="546.0" x2="141.5" y2="539.0" stroke="#2a1a1a" stroke-width="1.3"/>
<line x1="204.0" y1="546.0" x2="204.0" y2="539.0" stroke="#2a1a1a" stroke-width="1.3"/>
<line x1="267.0" y1="546.0" x2="267.0" y2="539.0" stroke="#2a1a1a" stroke-width="1.3"/>
<line x1="329.5" y1="546.0" x2="329.5" y2="539.0" stroke="#2a1a1a" stroke-width="1.3"/>
<line x1="447.0" y1="210.0" x2="447.0" y2="203.0" stroke="#2a1a1a" stroke-width="1.3"/>
<line x1="509.5" y1="210.0" x2="509.5" y2="203.0" stroke="#2a1a1a" stroke-width="1.3"/>
<line x1="572.3" y1="210.0" x2="572.3" y2="203.0" stroke="#2a1a1a" stroke-width="1.3"/>
<line x1="635.0" y1="210.0" x2="635.0" y2="203.0" stroke="#2a1a1a" stroke-width="1.3"/>
<line x1="698.0" y1="210.0" x2="698.0" y2="203.0" stroke="#2a1a1a" stroke-width="1.3"/>
<line x1="447.0" y1="379.0" x2="447.0" y2="372.0" stroke="#2a1a1a" stroke-width="1.3"/>
<line x1="509.5" y1="379.0" x2="509.5" y2="372.0" stroke="#2a1a1a" stroke-width="1.3"/>
<line x1="572.3" y1="379.0" x2="572.3" y2="372.0" stroke="#2a1a1a" stroke-width="1.3"/>
<line x1="635.0" y1="379.0" x2="635.0" y2="372.0" stroke="#2a1a1a" stroke-width="1.3"/>
<line x1="698.0" y1="379.0" x2="698.0" y2="372.0" stroke="#2a1a1a" stroke-width="1.3"/>
<line x1="437.5" y1="546.0" x2="437.5" y2="539.0" stroke="#2a1a1a" stroke-width="1.3"/>
<line x1="490.2" y1="546.0" x2="490.2" y2="539.0" stroke="#2a1a1a" stroke-width="1.3"/>
<line x1="543.0" y1="546.0" x2="543.0" y2="539.0" stroke="#2a1a1a" stroke-width="1.3"/>
<line x1="595.7" y1="546.0" x2="595.7" y2="539.0" stroke="#2a1a1a" stroke-width="1.3"/>
<line x1="648.0" y1="546.0" x2="648.0" y2="539.0" stroke="#2a1a1a" stroke-width="1.3"/>
<line x1="700.6" y1="546.0" x2="700.6" y2="539.0" stroke="#2a1a1a" stroke-width="1.3"/>
<line x1="835.0" y1="210.0" x2="835.0" y2="203.0" stroke="#2a1a1a" stroke-width="1.3"/>
<line x1="892.6" y1="210.0" x2="892.6" y2="203.0" stroke="#2a1a1a" stroke-width="1.3"/>
<line x1="949.5" y1="210.0" x2="949.5" y2="203.0" stroke="#2a1a1a" stroke-width="1.3"/>
<line x1="1007.0" y1="210.0" x2="1007.0" y2="203.0" stroke="#2a1a1a" stroke-width="1.3"/>
<line x1="1065.0" y1="210.0" x2="1065.0" y2="203.0" stroke="#2a1a1a" stroke-width="1.3"/>
<line x1="835.0" y1="379.0" x2="835.0" y2="372.0" stroke="#2a1a1a" stroke-width="1.3"/>
<line x1="892.6" y1="379.0" x2="892.6" y2="372.0" stroke="#2a1a1a" stroke-width="1.3"/>
<line x1="949.5" y1="379.0" x2="949.5" y2="372.0" stroke="#2a1a1a" stroke-width="1.3"/>
<line x1="1007.0" y1="379.0" x2="1007.0" y2="372.0" stroke="#2a1a1a" stroke-width="1.3"/>
<line x1="1065.0" y1="379.0" x2="1065.0" y2="372.0" stroke="#2a1a1a" stroke-width="1.3"/>
<line x1="835.0" y1="546.0" x2="835.0" y2="539.0" stroke="#2a1a1a" stroke-width="1.3"/>
<line x1="892.6" y1="546.0" x2="892.6" y2="539.0" stroke="#2a1a1a" stroke-width="1.3"/>
<line x1="949.5" y1="546.0" x2="949.5" y2="539.0" stroke="#2a1a1a" stroke-width="1.3"/>
<line x1="1007.0" y1="546.0" x2="1007.0" y2="539.0" stroke="#2a1a1a" stroke-width="1.3"/>
<line x1="1065.0" y1="546.0" x2="1065.0" y2="539.0" stroke="#2a1a1a" stroke-width="1.3"/>
<path d="M67.9 568.2h11" stroke="#222" stroke-width="1.3"/>
<text x="85.6" y="573.0" font-size="18.0" text-anchor="middle" >π</text>
<text x="141.5" y="573.0" font-size="18.0" text-anchor="middle" >0</text>
<text x="205.0" y="573.0" font-size="18.0" text-anchor="middle" >π</text>
<text x="267.0" y="573.0" font-size="18.0" text-anchor="middle" >2π</text>
<text x="329.3" y="573.0" font-size="18.0" text-anchor="middle" >3π</text>
<path d="M422.6 568.2h11" stroke="#222" stroke-width="1.3"/>
<text x="444.9" y="573.0" font-size="18.0" text-anchor="middle" >2π</text>
<path d="M479.3 568.2h11" stroke="#222" stroke-width="1.3"/>
<text x="497.0" y="573.0" font-size="18.0" text-anchor="middle" >π</text>
<text x="543.0" y="573.0" font-size="18.0" text-anchor="middle" >0</text>
<text x="595.7" y="573.0" font-size="18.0" text-anchor="middle" >π</text>
<text x="648.0" y="573.0" font-size="18.0" text-anchor="middle" >2π</text>
<text x="700.6" y="573.0" font-size="18.0" text-anchor="middle" >3π</text>
<text x="834.1" y="573.0" font-size="18.0" text-anchor="middle" >0</text>
<text x="892.4" y="573.0" font-size="18.0" text-anchor="middle" >π</text>
<text x="950.6" y="573.0" font-size="18.0" text-anchor="middle" >2π</text>
<text x="1008.0" y="573.0" font-size="18.0" text-anchor="middle" >3π</text>
<text x="1065.3" y="573.0" font-size="18.0" text-anchor="middle" >4π</text>
<text x="207.5" y="594.6" font-size="19.0" text-anchor="middle" >Phase shift</text>
<text x="575.7" y="594.6" font-size="19.0" text-anchor="middle" >Phase shift</text>
<text x="944.2" y="594.6" font-size="19.0" text-anchor="middle" >Phase shift</text>
<text x="0" y="0" font-size="18" text-anchor="middle" transform="translate(11.6,287.5) rotate(-90)">Current, μA</text>
<text x="0" y="0" font-size="18" text-anchor="middle" transform="translate(383.0,280.8) rotate(-90)">Current, μA</text>
<text x="0" y="0" font-size="18" text-anchor="middle" transform="translate(751.7,285.0) rotate(-90)">Current, μA</text>
<text x="59.5" y="31.6" font-size="18"><tspan font-style="italic">B</tspan><tspan font-style="italic" font-size="13" dy="3.5">y</tspan></text>
<path d="M81.9 25.9h11.1M81.9 29.3h11.1" stroke="#222" stroke-width="1.3"/>
<text x="99.1" y="31.6" font-size="18">50 mT</text>
<text x="431.5" y="30.9" font-size="18"><tspan font-style="italic">B</tspan><tspan font-style="italic" font-size="13" dy="3.5">y</tspan></text>
<path d="M453.9 25.2h11.1M453.9 28.6h11.1" stroke="#222" stroke-width="1.3"/>
<text x="471.1" y="30.9" font-size="18">200 mT</text>
<text x="798.3" y="31.2" font-size="18"><tspan font-style="italic">B</tspan><tspan font-style="italic" font-size="13" dy="3.5">y</tspan></text>
<path d="M820.7 25.5h11.1M820.7 28.9h11.1" stroke="#222" stroke-width="1.3"/>
<text x="837.9" y="31.2" font-size="18">350 mT</text>
<rect x="187.3" y="21.1" width="172.1" height="6.0" fill="url(#cb)" stroke="#000" stroke-width="1.6"/>
<line x1="229.9" y1="20.3" x2="229.9" y2="27.9" stroke="#000" stroke-width="1.2"/>
<line x1="272.3" y1="20.3" x2="272.3" y2="27.9" stroke="#000" stroke-width="1.2"/>
<line x1="314.6" y1="20.3" x2="314.6" y2="27.9" stroke="#000" stroke-width="1.2"/>
<text x="186.0" y="40.4" font-size="12.5" text-anchor="middle" >0</text>
<text x="229.9" y="40.4" font-size="12.5" text-anchor="middle" >10</text>
<text x="272.3" y="40.4" font-size="12.5" text-anchor="middle" >20</text>
<text x="314.6" y="40.4" font-size="12.5" text-anchor="middle" >30</text>
<text x="357.0" y="40.4" font-size="12.5" text-anchor="middle" >40</text>
<rect x="558.2" y="20.2" width="175.0" height="6.5" fill="url(#cb)" stroke="#000" stroke-width="1.6"/>
<line x1="609.7" y1="19.4" x2="609.7" y2="27.5" stroke="#000" stroke-width="1.2"/>
<line x1="660.8" y1="19.4" x2="660.8" y2="27.5" stroke="#000" stroke-width="1.2"/>
<line x1="712.0" y1="19.4" x2="712.0" y2="27.5" stroke="#000" stroke-width="1.2"/>
<text x="558.3" y="40.0" font-size="12.5" text-anchor="middle" >0</text>
<text x="609.7" y="40.0" font-size="12.5" text-anchor="middle" >10</text>
<text x="660.8" y="40.0" font-size="12.5" text-anchor="middle" >20</text>
<text x="712.0" y="40.0" font-size="12.5" text-anchor="middle" >30</text>
<rect x="926.6" y="19.3" width="175.3" height="6.8" fill="url(#cb)" stroke="#000" stroke-width="1.6"/>
<line x1="972.0" y1="18.5" x2="972.0" y2="26.9" stroke="#000" stroke-width="1.2"/>
<line x1="1017.5" y1="18.5" x2="1017.5" y2="26.9" stroke="#000" stroke-width="1.2"/>
<line x1="1063.2" y1="18.5" x2="1063.2" y2="26.9" stroke="#000" stroke-width="1.2"/>
<text x="926.4" y="39.4" font-size="12.5" text-anchor="middle" >0</text>
<text x="972.0" y="39.4" font-size="12.5" text-anchor="middle" >10</text>
<text x="1017.5" y="39.4" font-size="12.5" text-anchor="middle" >20</text>
<text x="1063.2" y="39.4" font-size="12.5" text-anchor="middle" >30</text>
<text x="352.8" y="13.8" font-size="17.2" text-anchor="end" >Resistance, Ω</text>
<text x="725.6" y="13.8" font-size="17.2" text-anchor="end" >Resistance, Ω</text>
<text x="1095.2" y="13.8" font-size="17.2" text-anchor="end" >Resistance, Ω</text>
<rect x="265.5" y="51.5" width="95.0" height="22.2" fill="#fff"/>
<text x="271.9" y="65.9" font-size="15.5" font-style="italic">V</text>
<text x="282.1" y="60.3" font-size="11">2</text>
<text x="280.5" y="70.9" font-size="11">g</text>
<path d="M293.5 59.9h10M293.5 63.9h10" stroke="#111" stroke-width="1.1"/>
<text x="307.5" y="65.9" font-size="15">0</text>
<rect x="266.0" y="222.0" width="95.0" height="22.7" fill="#fff"/>
<text x="272.4" y="236.4" font-size="15.5" font-style="italic">V</text>
<text x="282.6" y="230.8" font-size="11">2</text>
<text x="281.0" y="241.4" font-size="11">g</text>
<path d="M294.0 230.4h10M294.0 234.4h10" stroke="#111" stroke-width="1.1"/>
<path d="M309.4 232.6h8.8" stroke="#111" stroke-width="1.1"/>
<text x="320.5" y="236.4" font-size="15">3.0 V</text>
<rect x="266.9" y="387.0" width="95.4" height="22.4" fill="#fff"/>
<text x="273.3" y="401.4" font-size="15.5" font-style="italic">V</text>
<text x="283.5" y="395.8" font-size="11">2</text>
<text x="281.9" y="406.4" font-size="11">g</text>
<path d="M294.9 395.4h10M294.9 399.4h10" stroke="#111" stroke-width="1.1"/>
<path d="M310.3 397.6h8.8" stroke="#111" stroke-width="1.1"/>
<text x="321.4" y="401.4" font-size="15">4.0 V</text>
<rect x="637.0" y="50.0" width="95.0" height="21.4" fill="#fff"/>
<text x="643.4" y="64.2" font-size="15.5" font-style="italic">V</text>
<text x="653.6" y="58.6" font-size="11">2</text>
<text x="652.0" y="69.2" font-size="11">g</text>
<path d="M665.0 58.2h10M665.0 62.2h10" stroke="#111" stroke-width="1.1"/>
<text x="679.0" y="64.2" font-size="15">0</text>
<rect x="637.0" y="220.0" width="95.5" height="21.7" fill="#fff"/>
<text x="643.4" y="234.4" font-size="15.5" font-style="italic">V</text>
<text x="653.6" y="228.8" font-size="11">2</text>
<text x="652.0" y="239.4" font-size="11">g</text>
<path d="M665.0 228.4h10M665.0 232.4h10" stroke="#111" stroke-width="1.1"/>
<path d="M680.4 230.6h8.8" stroke="#111" stroke-width="1.1"/>
<text x="691.5" y="234.4" font-size="15">3.0 V</text>
<rect x="638.0" y="385.0" width="96.0" height="22.0" fill="#fff"/>
<text x="644.4" y="399.2" font-size="15.5" font-style="italic">V</text>
<text x="654.6" y="393.6" font-size="11">2</text>
<text x="653.0" y="404.2" font-size="11">g</text>
<path d="M666.0 393.2h10M666.0 397.2h10" stroke="#111" stroke-width="1.1"/>
<path d="M681.4 395.4h8.8" stroke="#111" stroke-width="1.1"/>
<text x="692.5" y="399.2" font-size="15">4.0 V</text>
<rect x="1004.0" y="50.5" width="95.0" height="23.0" fill="#fff"/>
<text x="1010.4" y="65.4" font-size="15.5" font-style="italic">V</text>
<text x="1020.6" y="59.8" font-size="11">2</text>
<text x="1019.0" y="70.4" font-size="11">g</text>
<path d="M1032.0 59.4h10M1032.0 63.4h10" stroke="#111" stroke-width="1.1"/>
<text x="1046.0" y="65.4" font-size="15">0</text>
<rect x="1004.5" y="220.5" width="95.5" height="23.2" fill="#fff"/>
<text x="1010.9" y="235.9" font-size="15.5" font-style="italic">V</text>
<text x="1021.1" y="230.3" font-size="11">2</text>
<text x="1019.5" y="240.9" font-size="11">g</text>
<path d="M1032.5 229.9h10M1032.5 233.9h10" stroke="#111" stroke-width="1.1"/>
<path d="M1047.9 232.1h8.8" stroke="#111" stroke-width="1.1"/>
<text x="1059.0" y="235.9" font-size="15">3.0 V</text>
<rect x="1005.0" y="386.0" width="96.3" height="22.4" fill="#fff"/>
<text x="1011.4" y="400.4" font-size="15.5" font-style="italic">V</text>
<text x="1021.6" y="394.8" font-size="11">2</text>
<text x="1020.0" y="405.4" font-size="11">g</text>
<path d="M1033.0 394.4h10M1033.0 398.4h10" stroke="#111" stroke-width="1.1"/>
<path d="M1048.4 396.6h8.8" stroke="#111" stroke-width="1.1"/>
<text x="1059.5" y="400.4" font-size="15">4.0 V</text>
<g clip-path="url(#c00)">
<line x1="152.9" y1="45.1" x2="152.9" y2="210.0" stroke="#f7931e" stroke-width="4.4" stroke-dasharray="4.6 4.3"/>
<polygon points="157.3,65.8 155.1,60.5 149.4,60.1 153.8,56.4 152.4,50.8 157.3,53.8 162.2,50.8 160.8,56.4 165.2,60.1 159.5,60.5" fill="#f7931e"/>
</g>
<g clip-path="url(#c01)">
<line x1="152.9" y1="214.9" x2="152.9" y2="379.0" stroke="#f7931e" stroke-width="4.4" stroke-dasharray="4.6 4.3"/>
<polygon points="155.2,246.8 153,241.5 147.3,241.1 151.7,237.4 150.3,231.8 155.2,234.8 160.1,231.8 158.7,237.4 163.1,241.1 157.4,241.5" fill="#f7931e"/>
</g>
<g clip-path="url(#c02)">
<line x1="152.9" y1="380.6" x2="152.9" y2="546.0" stroke="#f7931e" stroke-width="4.4" stroke-dasharray="4.6 4.3"/>
<polygon points="153,422.8 150.8,417.5 145.1,417.1 149.5,413.4 148.1,407.8 153,410.8 157.9,407.8 156.5,413.4 160.9,417.1 155.2,417.5" fill="#f7931e"/>
</g>
<g clip-path="url(#c10)">
<line x1="546.1" y1="45.1" x2="546.1" y2="210.0" stroke="#f7931e" stroke-width="4.4" stroke-dasharray="4.6 4.3"/>
<polygon points="559.7,66.8 557.5,61.5 551.8,61.1 556.2,57.4 554.8,51.8 559.7,54.8 564.6,51.8 563.2,57.4 567.6,61.1 561.9,61.5" fill="#f7931e"/>
</g>
<g clip-path="url(#c11)">
<line x1="546.1" y1="214.9" x2="546.1" y2="379.0" stroke="#f7931e" stroke-width="4.4" stroke-dasharray="4.6 4.3"/>
<polygon points="552.5,243.3 550.3,238 544.6,237.6 549,233.9 547.6,228.3 552.5,231.3 557.4,228.3 556,233.9 560.4,237.6 554.7,238" fill="#f7931e"/>
</g>
<g clip-path="url(#c12)">
<line x1="546.1" y1="380.6" x2="546.1" y2="546.0" stroke="#f7931e" stroke-width="4.4" stroke-dasharray="4.6 4.3"/>
<polygon points="545.5,418.3 543.3,413 537.6,412.6 542,408.9 540.6,403.3 545.5,406.3 550.4,403.3 549,408.9 553.4,412.6 547.7,413" fill="#f7931e"/>
</g>
<g clip-path="url(#c20)">
<line x1="837.6" y1="45.1" x2="837.6" y2="210.0" stroke="#f7931e" stroke-width="4.4" stroke-dasharray="4.6 4.3"/>
<polygon points="865,83.8 862.8,78.5 857.1,78.1 861.5,74.4 860.1,68.8 865,71.8 869.9,68.8 868.5,74.4 872.9,78.1 867.2,78.5" fill="#f7931e"/>
</g>
<g clip-path="url(#c21)">
<line x1="837.6" y1="214.9" x2="837.6" y2="379.0" stroke="#f7931e" stroke-width="4.4" stroke-dasharray="4.6 4.3"/>
<polygon points="847.6,250.8 845.4,245.5 839.7,245.1 844.1,241.4 842.7,235.8 847.6,238.8 852.5,235.8 851.1,241.4 855.5,245.1 849.8,245.5" fill="#f7931e"/>
</g>
<g clip-path="url(#c22)">
<line x1="837.6" y1="380.6" x2="837.6" y2="546.0" stroke="#f7931e" stroke-width="4.4" stroke-dasharray="4.6 4.3"/>
<polygon points="838.5,423.8 836.3,418.5 830.6,418.1 835,414.4 833.6,408.8 838.5,411.8 843.4,408.8 842,414.4 846.4,418.1 840.7,418.5" fill="#f7931e"/>
</g>
<rect x="40" y="212" width="327" height="3" fill="#d2d2d2"/>
<rect x="409" y="212" width="327" height="3" fill="#d2d2d2"/>
<rect x="779" y="212" width="325" height="3" fill="#d2d2d2"/>
<rect x="731.6" y="297.5" width="2.2" height="81.5" fill="#fff"/>
</svg></body></html>
